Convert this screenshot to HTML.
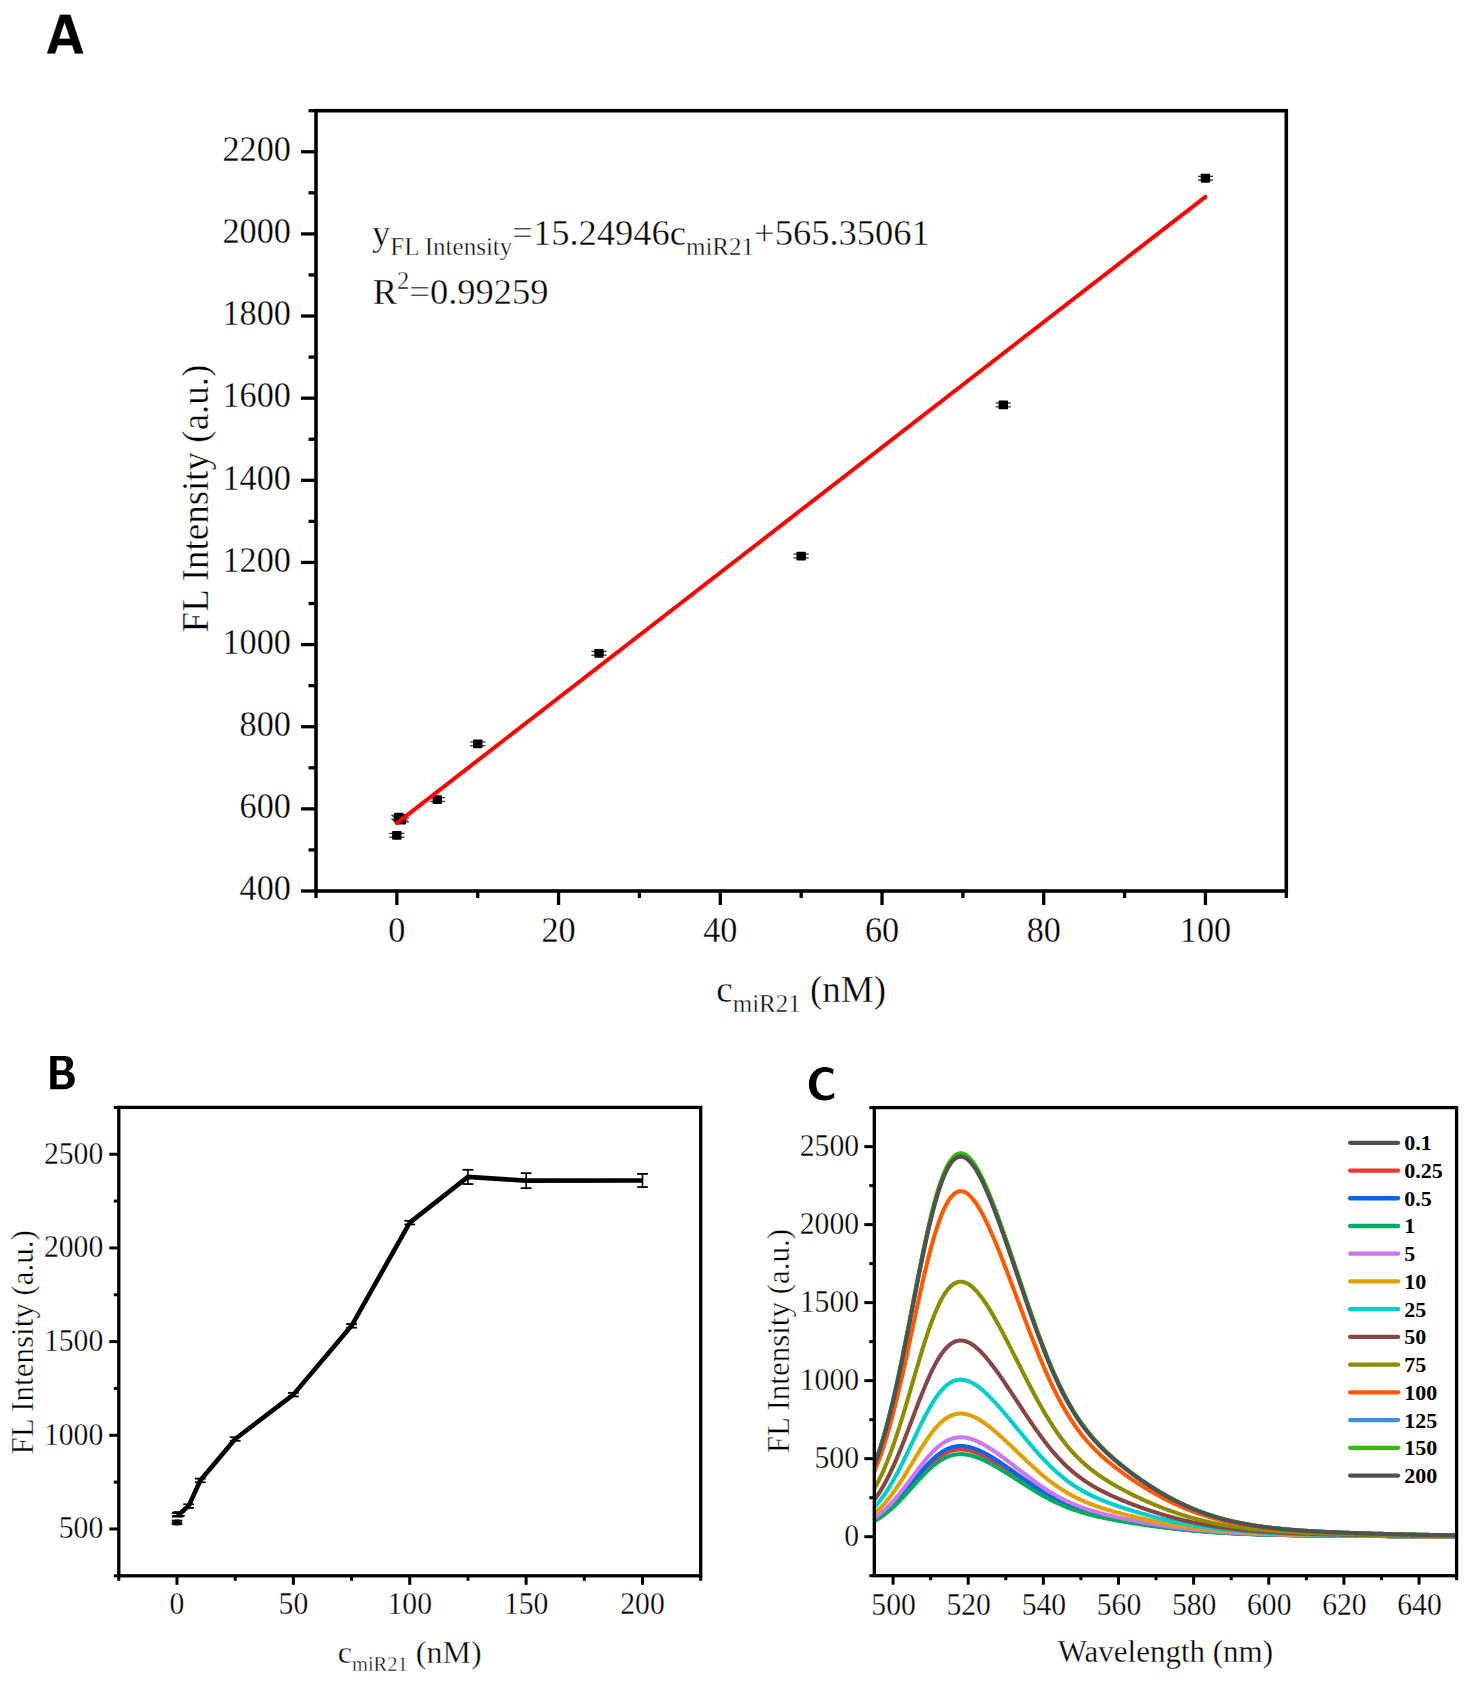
<!DOCTYPE html>
<html><head><meta charset="utf-8"><style>
html,body{margin:0;padding:0;background:#fff;}
body{width:1472px;height:1691px;overflow:hidden;}
svg{display:block;}
</style></head><body>
<svg width="1472" height="1691" viewBox="0 0 1472 1691">
<rect width="1472" height="1691" fill="#fff"/>
<path d="M47.4,53.3 L60.2,14.9 L70.2,14.9 L83,53.3 L75.1,53.3 L72.4,45.1 L57.7,45.1 L55,53.3 Z M64.5,21.7 L58.8,38.9 L70.5,38.9 Z" fill="#000" fill-rule="evenodd" stroke="#000" stroke-width="0.6" stroke-linejoin="round"/>
<path d="M50.2,1055.9 H64.3 C70.0,1055.9 73.1,1058.9 73.1,1063.5 C73.1,1067.0 71.1,1069.6 68.2,1071.0 C72.4,1072.2 74.8,1075.3 74.8,1079.4 C74.8,1085.4 70.5,1089.2 63.4,1089.2 H50.2 Z M56.6,1060.4 H62.6 C65.0,1060.4 66.5,1061.9 66.5,1065.0 C66.5,1068.1 64.9,1070.3 62.3,1070.3 H56.6 Z M56.6,1074.9 H63.2 C66.2,1074.9 68.1,1076.9 68.1,1079.7 C68.1,1082.7 66.1,1084.6 63.0,1084.6 H56.6 Z" fill="#000" fill-rule="evenodd"/>
<path d="M833.6,1069.6 C830.8,1067.7 828.3,1066.9 825.2,1066.9 C815.3,1066.9 808.9,1074.6 808.9,1084.2 C808.9,1094.2 815.2,1100.5 825.0,1100.5 C828.8,1100.5 831.6,1099.4 834.2,1097.6 L834.2,1092.8 C831.6,1094.7 829.0,1095.8 826.2,1095.8 C820.0,1095.8 816.2,1091.2 816.2,1084.0 C816.2,1076.5 820.2,1071.8 825.8,1071.8 C828.5,1071.8 830.6,1072.8 832.9,1074.6 Z" fill="#000"/>
<line x1="301" y1="891" x2="316" y2="891" stroke="#000" stroke-width="3.3" stroke-linecap="butt"/>
<line x1="301" y1="808.86" x2="316" y2="808.86" stroke="#000" stroke-width="3.3" stroke-linecap="butt"/>
<line x1="301" y1="726.73" x2="316" y2="726.73" stroke="#000" stroke-width="3.3" stroke-linecap="butt"/>
<line x1="301" y1="644.59" x2="316" y2="644.59" stroke="#000" stroke-width="3.3" stroke-linecap="butt"/>
<line x1="301" y1="562.45" x2="316" y2="562.45" stroke="#000" stroke-width="3.3" stroke-linecap="butt"/>
<line x1="301" y1="480.32" x2="316" y2="480.32" stroke="#000" stroke-width="3.3" stroke-linecap="butt"/>
<line x1="301" y1="398.18" x2="316" y2="398.18" stroke="#000" stroke-width="3.3" stroke-linecap="butt"/>
<line x1="301" y1="316.04" x2="316" y2="316.04" stroke="#000" stroke-width="3.3" stroke-linecap="butt"/>
<line x1="301" y1="233.91" x2="316" y2="233.91" stroke="#000" stroke-width="3.3" stroke-linecap="butt"/>
<line x1="301" y1="151.77" x2="316" y2="151.77" stroke="#000" stroke-width="3.3" stroke-linecap="butt"/>
<line x1="308.5" y1="849.93" x2="316" y2="849.93" stroke="#000" stroke-width="3.3" stroke-linecap="butt"/>
<line x1="308.5" y1="767.79" x2="316" y2="767.79" stroke="#000" stroke-width="3.3" stroke-linecap="butt"/>
<line x1="308.5" y1="685.66" x2="316" y2="685.66" stroke="#000" stroke-width="3.3" stroke-linecap="butt"/>
<line x1="308.5" y1="603.52" x2="316" y2="603.52" stroke="#000" stroke-width="3.3" stroke-linecap="butt"/>
<line x1="308.5" y1="521.38" x2="316" y2="521.38" stroke="#000" stroke-width="3.3" stroke-linecap="butt"/>
<line x1="308.5" y1="439.25" x2="316" y2="439.25" stroke="#000" stroke-width="3.3" stroke-linecap="butt"/>
<line x1="308.5" y1="357.11" x2="316" y2="357.11" stroke="#000" stroke-width="3.3" stroke-linecap="butt"/>
<line x1="308.5" y1="274.97" x2="316" y2="274.97" stroke="#000" stroke-width="3.3" stroke-linecap="butt"/>
<line x1="308.5" y1="192.84" x2="316" y2="192.84" stroke="#000" stroke-width="3.3" stroke-linecap="butt"/>
<line x1="308.5" y1="110.7" x2="316" y2="110.7" stroke="#000" stroke-width="3.3" stroke-linecap="butt"/>
<line x1="396.86" y1="891" x2="396.86" y2="905" stroke="#000" stroke-width="3.3" stroke-linecap="butt"/>
<line x1="558.58" y1="891" x2="558.58" y2="905" stroke="#000" stroke-width="3.3" stroke-linecap="butt"/>
<line x1="720.29" y1="891" x2="720.29" y2="905" stroke="#000" stroke-width="3.3" stroke-linecap="butt"/>
<line x1="882.01" y1="891" x2="882.01" y2="905" stroke="#000" stroke-width="3.3" stroke-linecap="butt"/>
<line x1="1043.72" y1="891" x2="1043.72" y2="905" stroke="#000" stroke-width="3.3" stroke-linecap="butt"/>
<line x1="1205.44" y1="891" x2="1205.44" y2="905" stroke="#000" stroke-width="3.3" stroke-linecap="butt"/>
<line x1="316" y1="891" x2="316" y2="898" stroke="#000" stroke-width="3.3" stroke-linecap="butt"/>
<line x1="477.72" y1="891" x2="477.72" y2="898" stroke="#000" stroke-width="3.3" stroke-linecap="butt"/>
<line x1="639.43" y1="891" x2="639.43" y2="898" stroke="#000" stroke-width="3.3" stroke-linecap="butt"/>
<line x1="801.15" y1="891" x2="801.15" y2="898" stroke="#000" stroke-width="3.3" stroke-linecap="butt"/>
<line x1="962.87" y1="891" x2="962.87" y2="898" stroke="#000" stroke-width="3.3" stroke-linecap="butt"/>
<line x1="1124.58" y1="891" x2="1124.58" y2="898" stroke="#000" stroke-width="3.3" stroke-linecap="butt"/>
<line x1="1286.3" y1="891" x2="1286.3" y2="898" stroke="#000" stroke-width="3.3" stroke-linecap="butt"/>
<rect x="316" y="110.7" width="970.3" height="780.3" fill="none" stroke="#000" stroke-width="3.6" stroke-linejoin="miter"/>
<text transform="translate(290.9,900.25) scale(0.966,1)" style="font-family:'Liberation Serif',serif;font-size:35.4px;font-weight:normal" text-anchor="end" stroke="#fff" stroke-width="0.3">400</text>
<text transform="translate(290.9,818.11) scale(0.966,1)" style="font-family:'Liberation Serif',serif;font-size:35.4px;font-weight:normal" text-anchor="end" stroke="#fff" stroke-width="0.3">600</text>
<text transform="translate(290.9,735.98) scale(0.966,1)" style="font-family:'Liberation Serif',serif;font-size:35.4px;font-weight:normal" text-anchor="end" stroke="#fff" stroke-width="0.3">800</text>
<text transform="translate(290.9,653.84) scale(0.966,1)" style="font-family:'Liberation Serif',serif;font-size:35.4px;font-weight:normal" text-anchor="end" stroke="#fff" stroke-width="0.3">1000</text>
<text transform="translate(290.9,571.7) scale(0.966,1)" style="font-family:'Liberation Serif',serif;font-size:35.4px;font-weight:normal" text-anchor="end" stroke="#fff" stroke-width="0.3">1200</text>
<text transform="translate(290.9,489.57) scale(0.966,1)" style="font-family:'Liberation Serif',serif;font-size:35.4px;font-weight:normal" text-anchor="end" stroke="#fff" stroke-width="0.3">1400</text>
<text transform="translate(290.9,407.43) scale(0.966,1)" style="font-family:'Liberation Serif',serif;font-size:35.4px;font-weight:normal" text-anchor="end" stroke="#fff" stroke-width="0.3">1600</text>
<text transform="translate(290.9,325.29) scale(0.966,1)" style="font-family:'Liberation Serif',serif;font-size:35.4px;font-weight:normal" text-anchor="end" stroke="#fff" stroke-width="0.3">1800</text>
<text transform="translate(290.9,243.16) scale(0.966,1)" style="font-family:'Liberation Serif',serif;font-size:35.4px;font-weight:normal" text-anchor="end" stroke="#fff" stroke-width="0.3">2000</text>
<text transform="translate(290.9,161.02) scale(0.966,1)" style="font-family:'Liberation Serif',serif;font-size:35.4px;font-weight:normal" text-anchor="end" stroke="#fff" stroke-width="0.3">2200</text>
<text transform="translate(396.86,942.1) scale(0.966,1)" style="font-family:'Liberation Serif',serif;font-size:35.4px;font-weight:normal" text-anchor="middle" stroke="#fff" stroke-width="0.3">0</text>
<text transform="translate(558.58,942.1) scale(0.966,1)" style="font-family:'Liberation Serif',serif;font-size:35.4px;font-weight:normal" text-anchor="middle" stroke="#fff" stroke-width="0.3">20</text>
<text transform="translate(720.29,942.1) scale(0.966,1)" style="font-family:'Liberation Serif',serif;font-size:35.4px;font-weight:normal" text-anchor="middle" stroke="#fff" stroke-width="0.3">40</text>
<text transform="translate(882.01,942.1) scale(0.966,1)" style="font-family:'Liberation Serif',serif;font-size:35.4px;font-weight:normal" text-anchor="middle" stroke="#fff" stroke-width="0.3">60</text>
<text transform="translate(1043.72,942.1) scale(0.966,1)" style="font-family:'Liberation Serif',serif;font-size:35.4px;font-weight:normal" text-anchor="middle" stroke="#fff" stroke-width="0.3">80</text>
<text transform="translate(1205.44,942.1) scale(0.966,1)" style="font-family:'Liberation Serif',serif;font-size:35.4px;font-weight:normal" text-anchor="middle" stroke="#fff" stroke-width="0.3">100</text>
<text transform="translate(208.2,498.5) rotate(-90)" style="font-family:'Liberation Serif',serif;font-size:37px" text-anchor="middle" stroke="#fff" stroke-width="0.4">FL Intensity (a.u.)</text>
<text x="716.29" y="1001.5" style="font-family:'Liberation Serif',serif;font-size:37px" stroke="#fff" stroke-width="0.4">c<tspan dy="10.8" style="font-size:25px">miR21</tspan><tspan dy="-10.8"> (nM)</tspan></text>
<text x="372.06" y="245" style="font-family:'Liberation Serif',serif;font-size:36.5px" stroke="#fff" stroke-width="0.4">y<tspan dy="9.8" style="font-size:25px">FL Intensity</tspan><tspan dy="-9.8">=15.24946c</tspan><tspan dy="9.8" style="font-size:25px">miR21</tspan><tspan dy="-9.8">+565.35061</tspan></text>
<text x="372.74" y="303.7" style="font-family:'Liberation Serif',serif;font-size:36.5px" stroke="#fff" stroke-width="0.4">R<tspan dy="-15" style="font-size:24.5px">2</tspan><tspan dy="15">=0.99259</tspan></text>
<line x1="389.26" y1="833.41" x2="404.46" y2="833.41" stroke="#333" stroke-width="1.3" stroke-linecap="butt"/>
<line x1="389.26" y1="837.21" x2="404.46" y2="837.21" stroke="#333" stroke-width="1.3" stroke-linecap="butt"/>
<line x1="391.28" y1="815.22" x2="406.48" y2="815.22" stroke="#333" stroke-width="1.3" stroke-linecap="butt"/>
<line x1="391.28" y1="819.02" x2="406.48" y2="819.02" stroke="#333" stroke-width="1.3" stroke-linecap="butt"/>
<line x1="392.49" y1="816.61" x2="407.69" y2="816.61" stroke="#333" stroke-width="1.3" stroke-linecap="butt"/>
<line x1="392.49" y1="820.41" x2="407.69" y2="820.41" stroke="#333" stroke-width="1.3" stroke-linecap="butt"/>
<line x1="393.71" y1="818.13" x2="408.91" y2="818.13" stroke="#333" stroke-width="1.3" stroke-linecap="butt"/>
<line x1="393.71" y1="821.93" x2="408.91" y2="821.93" stroke="#333" stroke-width="1.3" stroke-linecap="butt"/>
<line x1="429.69" y1="797.64" x2="444.89" y2="797.64" stroke="#333" stroke-width="1.3" stroke-linecap="butt"/>
<line x1="429.69" y1="801.44" x2="444.89" y2="801.44" stroke="#333" stroke-width="1.3" stroke-linecap="butt"/>
<line x1="470.12" y1="741.95" x2="485.32" y2="741.95" stroke="#333" stroke-width="1.3" stroke-linecap="butt"/>
<line x1="470.12" y1="745.75" x2="485.32" y2="745.75" stroke="#333" stroke-width="1.3" stroke-linecap="butt"/>
<line x1="591.4" y1="651.4" x2="606.6" y2="651.4" stroke="#333" stroke-width="1.3" stroke-linecap="butt"/>
<line x1="591.4" y1="655.2" x2="606.6" y2="655.2" stroke="#333" stroke-width="1.3" stroke-linecap="butt"/>
<line x1="793.55" y1="554.15" x2="808.75" y2="554.15" stroke="#333" stroke-width="1.3" stroke-linecap="butt"/>
<line x1="793.55" y1="557.95" x2="808.75" y2="557.95" stroke="#333" stroke-width="1.3" stroke-linecap="butt"/>
<line x1="995.7" y1="403.01" x2="1010.9" y2="403.01" stroke="#333" stroke-width="1.3" stroke-linecap="butt"/>
<line x1="995.7" y1="406.81" x2="1010.9" y2="406.81" stroke="#333" stroke-width="1.3" stroke-linecap="butt"/>
<line x1="1197.84" y1="176.36" x2="1213.04" y2="176.36" stroke="#333" stroke-width="1.3" stroke-linecap="butt"/>
<line x1="1197.84" y1="180.16" x2="1213.04" y2="180.16" stroke="#333" stroke-width="1.3" stroke-linecap="butt"/>
<rect x="392.16" y="830.91" width="9.4" height="8.8" rx="0.8" fill="#000"/>
<rect x="394.18" y="812.72" width="9.4" height="8.8" rx="0.8" fill="#000"/>
<rect x="395.39" y="814.11" width="9.4" height="8.8" rx="0.8" fill="#000"/>
<rect x="396.61" y="815.63" width="9.4" height="8.8" rx="0.8" fill="#000"/>
<rect x="432.59" y="795.14" width="9.4" height="8.8" rx="0.8" fill="#000"/>
<rect x="473.02" y="739.45" width="9.4" height="8.8" rx="0.8" fill="#000"/>
<rect x="594.3" y="648.9" width="9.4" height="8.8" rx="0.8" fill="#000"/>
<rect x="796.45" y="551.65" width="9.4" height="8.8" rx="0.8" fill="#000"/>
<rect x="998.6" y="400.51" width="9.4" height="8.8" rx="0.8" fill="#000"/>
<rect x="1200.74" y="173.86" width="9.4" height="8.8" rx="0.8" fill="#000"/>
<line x1="396.86" y1="823.09" x2="1205.44" y2="196.82" stroke="#ff0000" stroke-width="4" stroke-linecap="round"/>
<line x1="109.3" y1="1528.96" x2="118.8" y2="1528.96" stroke="#000" stroke-width="3" stroke-linecap="butt"/>
<line x1="109.3" y1="1435.28" x2="118.8" y2="1435.28" stroke="#000" stroke-width="3" stroke-linecap="butt"/>
<line x1="109.3" y1="1341.6" x2="118.8" y2="1341.6" stroke="#000" stroke-width="3" stroke-linecap="butt"/>
<line x1="109.3" y1="1247.92" x2="118.8" y2="1247.92" stroke="#000" stroke-width="3" stroke-linecap="butt"/>
<line x1="109.3" y1="1154.24" x2="118.8" y2="1154.24" stroke="#000" stroke-width="3" stroke-linecap="butt"/>
<line x1="113.8" y1="1575.8" x2="118.8" y2="1575.8" stroke="#000" stroke-width="3" stroke-linecap="butt"/>
<line x1="113.8" y1="1482.12" x2="118.8" y2="1482.12" stroke="#000" stroke-width="3" stroke-linecap="butt"/>
<line x1="113.8" y1="1388.44" x2="118.8" y2="1388.44" stroke="#000" stroke-width="3" stroke-linecap="butt"/>
<line x1="113.8" y1="1294.76" x2="118.8" y2="1294.76" stroke="#000" stroke-width="3" stroke-linecap="butt"/>
<line x1="113.8" y1="1201.08" x2="118.8" y2="1201.08" stroke="#000" stroke-width="3" stroke-linecap="butt"/>
<line x1="113.8" y1="1107.4" x2="118.8" y2="1107.4" stroke="#000" stroke-width="3" stroke-linecap="butt"/>
<line x1="176.99" y1="1575.8" x2="176.99" y2="1584.8" stroke="#000" stroke-width="3" stroke-linecap="butt"/>
<line x1="293.37" y1="1575.8" x2="293.37" y2="1584.8" stroke="#000" stroke-width="3" stroke-linecap="butt"/>
<line x1="409.75" y1="1575.8" x2="409.75" y2="1584.8" stroke="#000" stroke-width="3" stroke-linecap="butt"/>
<line x1="526.13" y1="1575.8" x2="526.13" y2="1584.8" stroke="#000" stroke-width="3" stroke-linecap="butt"/>
<line x1="642.51" y1="1575.8" x2="642.51" y2="1584.8" stroke="#000" stroke-width="3" stroke-linecap="butt"/>
<line x1="118.8" y1="1575.8" x2="118.8" y2="1580.8" stroke="#000" stroke-width="3" stroke-linecap="butt"/>
<line x1="235.18" y1="1575.8" x2="235.18" y2="1580.8" stroke="#000" stroke-width="3" stroke-linecap="butt"/>
<line x1="351.56" y1="1575.8" x2="351.56" y2="1580.8" stroke="#000" stroke-width="3" stroke-linecap="butt"/>
<line x1="467.94" y1="1575.8" x2="467.94" y2="1580.8" stroke="#000" stroke-width="3" stroke-linecap="butt"/>
<line x1="584.32" y1="1575.8" x2="584.32" y2="1580.8" stroke="#000" stroke-width="3" stroke-linecap="butt"/>
<line x1="700.7" y1="1575.8" x2="700.7" y2="1580.8" stroke="#000" stroke-width="3" stroke-linecap="butt"/>
<rect x="118.8" y="1107.4" width="581.9" height="468.4" fill="none" stroke="#000" stroke-width="3.3" stroke-linejoin="miter"/>
<text transform="translate(103.2,1538.26) scale(0.944,1)" style="font-family:'Liberation Serif',serif;font-size:31.4px;font-weight:normal" text-anchor="end" stroke="#fff" stroke-width="0.3">500</text>
<text transform="translate(103.2,1444.58) scale(0.944,1)" style="font-family:'Liberation Serif',serif;font-size:31.4px;font-weight:normal" text-anchor="end" stroke="#fff" stroke-width="0.3">1000</text>
<text transform="translate(103.2,1350.9) scale(0.944,1)" style="font-family:'Liberation Serif',serif;font-size:31.4px;font-weight:normal" text-anchor="end" stroke="#fff" stroke-width="0.3">1500</text>
<text transform="translate(103.2,1257.22) scale(0.944,1)" style="font-family:'Liberation Serif',serif;font-size:31.4px;font-weight:normal" text-anchor="end" stroke="#fff" stroke-width="0.3">2000</text>
<text transform="translate(103.2,1163.54) scale(0.944,1)" style="font-family:'Liberation Serif',serif;font-size:31.4px;font-weight:normal" text-anchor="end" stroke="#fff" stroke-width="0.3">2500</text>
<text transform="translate(176.99,1614.2) scale(0.944,1)" style="font-family:'Liberation Serif',serif;font-size:31.4px;font-weight:normal" text-anchor="middle" stroke="#fff" stroke-width="0.3">0</text>
<text transform="translate(293.37,1614.2) scale(0.944,1)" style="font-family:'Liberation Serif',serif;font-size:31.4px;font-weight:normal" text-anchor="middle" stroke="#fff" stroke-width="0.3">50</text>
<text transform="translate(409.75,1614.2) scale(0.944,1)" style="font-family:'Liberation Serif',serif;font-size:31.4px;font-weight:normal" text-anchor="middle" stroke="#fff" stroke-width="0.3">100</text>
<text transform="translate(526.13,1614.2) scale(0.944,1)" style="font-family:'Liberation Serif',serif;font-size:31.4px;font-weight:normal" text-anchor="middle" stroke="#fff" stroke-width="0.3">150</text>
<text transform="translate(642.51,1614.2) scale(0.944,1)" style="font-family:'Liberation Serif',serif;font-size:31.4px;font-weight:normal" text-anchor="middle" stroke="#fff" stroke-width="0.3">200</text>
<text transform="translate(33.1,1342.3) rotate(-90)" style="font-family:'Liberation Serif',serif;font-size:31px" text-anchor="middle" stroke="#fff" stroke-width="0.4">FL Intensity (a.u.)</text>
<text x="337.78" y="1663.2" style="font-family:'Liberation Serif',serif;font-size:32px" stroke="#fff" stroke-width="0.4">c<tspan dy="7.3" style="font-size:20.5px">miR21</tspan><tspan dy="-7.3"> (nM)</tspan></text>
<path d="M177.22,1514.72 L177.57,1514.53 L178.15,1514.35 L179.32,1513.97 L188.63,1506.1 L200.27,1480.43 L235.18,1439.03 L293.37,1394.62 L351.56,1325.86 L409.75,1222.63 L467.94,1176.91 L526.13,1180.66 L642.51,1180.47" fill="none" stroke="#000" stroke-width="4.6" stroke-linejoin="round"/>
<line x1="177.22" y1="1512.92" x2="177.22" y2="1516.52" stroke="#000" stroke-width="1.6" stroke-linecap="butt"/>
<line x1="171.82" y1="1512.92" x2="182.62" y2="1512.92" stroke="#000" stroke-width="1.8" stroke-linecap="butt"/>
<line x1="171.82" y1="1516.52" x2="182.62" y2="1516.52" stroke="#000" stroke-width="1.8" stroke-linecap="butt"/>
<line x1="177.57" y1="1512.73" x2="177.57" y2="1516.33" stroke="#000" stroke-width="1.6" stroke-linecap="butt"/>
<line x1="172.17" y1="1512.73" x2="182.97" y2="1512.73" stroke="#000" stroke-width="1.8" stroke-linecap="butt"/>
<line x1="172.17" y1="1516.33" x2="182.97" y2="1516.33" stroke="#000" stroke-width="1.8" stroke-linecap="butt"/>
<line x1="178.15" y1="1512.55" x2="178.15" y2="1516.15" stroke="#000" stroke-width="1.6" stroke-linecap="butt"/>
<line x1="172.75" y1="1512.55" x2="183.55" y2="1512.55" stroke="#000" stroke-width="1.8" stroke-linecap="butt"/>
<line x1="172.75" y1="1516.15" x2="183.55" y2="1516.15" stroke="#000" stroke-width="1.8" stroke-linecap="butt"/>
<line x1="179.32" y1="1512.17" x2="179.32" y2="1515.77" stroke="#000" stroke-width="1.6" stroke-linecap="butt"/>
<line x1="173.92" y1="1512.17" x2="184.72" y2="1512.17" stroke="#000" stroke-width="1.8" stroke-linecap="butt"/>
<line x1="173.92" y1="1515.77" x2="184.72" y2="1515.77" stroke="#000" stroke-width="1.8" stroke-linecap="butt"/>
<line x1="188.63" y1="1504.3" x2="188.63" y2="1507.9" stroke="#000" stroke-width="1.6" stroke-linecap="butt"/>
<line x1="183.23" y1="1504.3" x2="194.03" y2="1504.3" stroke="#000" stroke-width="1.8" stroke-linecap="butt"/>
<line x1="183.23" y1="1507.9" x2="194.03" y2="1507.9" stroke="#000" stroke-width="1.8" stroke-linecap="butt"/>
<line x1="200.27" y1="1478.63" x2="200.27" y2="1482.23" stroke="#000" stroke-width="1.6" stroke-linecap="butt"/>
<line x1="194.87" y1="1478.63" x2="205.67" y2="1478.63" stroke="#000" stroke-width="1.8" stroke-linecap="butt"/>
<line x1="194.87" y1="1482.23" x2="205.67" y2="1482.23" stroke="#000" stroke-width="1.8" stroke-linecap="butt"/>
<line x1="235.18" y1="1437.23" x2="235.18" y2="1440.83" stroke="#000" stroke-width="1.6" stroke-linecap="butt"/>
<line x1="229.78" y1="1437.23" x2="240.58" y2="1437.23" stroke="#000" stroke-width="1.8" stroke-linecap="butt"/>
<line x1="229.78" y1="1440.83" x2="240.58" y2="1440.83" stroke="#000" stroke-width="1.8" stroke-linecap="butt"/>
<line x1="293.37" y1="1392.82" x2="293.37" y2="1396.42" stroke="#000" stroke-width="1.6" stroke-linecap="butt"/>
<line x1="287.97" y1="1392.82" x2="298.77" y2="1392.82" stroke="#000" stroke-width="1.8" stroke-linecap="butt"/>
<line x1="287.97" y1="1396.42" x2="298.77" y2="1396.42" stroke="#000" stroke-width="1.8" stroke-linecap="butt"/>
<line x1="351.56" y1="1324.06" x2="351.56" y2="1327.66" stroke="#000" stroke-width="1.6" stroke-linecap="butt"/>
<line x1="346.16" y1="1324.06" x2="356.96" y2="1324.06" stroke="#000" stroke-width="1.8" stroke-linecap="butt"/>
<line x1="346.16" y1="1327.66" x2="356.96" y2="1327.66" stroke="#000" stroke-width="1.8" stroke-linecap="butt"/>
<line x1="409.75" y1="1220.83" x2="409.75" y2="1224.43" stroke="#000" stroke-width="1.6" stroke-linecap="butt"/>
<line x1="404.35" y1="1220.83" x2="415.15" y2="1220.83" stroke="#000" stroke-width="1.8" stroke-linecap="butt"/>
<line x1="404.35" y1="1224.43" x2="415.15" y2="1224.43" stroke="#000" stroke-width="1.8" stroke-linecap="butt"/>
<line x1="467.94" y1="1169.79" x2="467.94" y2="1184.03" stroke="#000" stroke-width="1.6" stroke-linecap="butt"/>
<line x1="462.54" y1="1169.79" x2="473.34" y2="1169.79" stroke="#000" stroke-width="1.8" stroke-linecap="butt"/>
<line x1="462.54" y1="1184.03" x2="473.34" y2="1184.03" stroke="#000" stroke-width="1.8" stroke-linecap="butt"/>
<line x1="526.13" y1="1173.16" x2="526.13" y2="1188.15" stroke="#000" stroke-width="1.6" stroke-linecap="butt"/>
<line x1="520.73" y1="1173.16" x2="531.53" y2="1173.16" stroke="#000" stroke-width="1.8" stroke-linecap="butt"/>
<line x1="520.73" y1="1188.15" x2="531.53" y2="1188.15" stroke="#000" stroke-width="1.8" stroke-linecap="butt"/>
<line x1="642.51" y1="1173.91" x2="642.51" y2="1187.03" stroke="#000" stroke-width="1.6" stroke-linecap="butt"/>
<line x1="637.11" y1="1173.91" x2="647.91" y2="1173.91" stroke="#000" stroke-width="1.8" stroke-linecap="butt"/>
<line x1="637.11" y1="1187.03" x2="647.91" y2="1187.03" stroke="#000" stroke-width="1.8" stroke-linecap="butt"/>
<line x1="176.99" y1="1520.6" x2="176.99" y2="1524.2" stroke="#000" stroke-width="1.6" stroke-linecap="butt"/>
<line x1="171.59" y1="1520.6" x2="182.39" y2="1520.6" stroke="#000" stroke-width="1.8" stroke-linecap="butt"/>
<line x1="171.59" y1="1524.2" x2="182.39" y2="1524.2" stroke="#000" stroke-width="1.8" stroke-linecap="butt"/>
<polygon points="171.59,1522.4 174.99,1519.4 178.99,1519.4 182.39,1522.4 178.99,1525.4 174.99,1525.4" fill="#000"/>
<line x1="864.3" y1="1536.69" x2="874.3" y2="1536.69" stroke="#000" stroke-width="3" stroke-linecap="butt"/>
<line x1="864.3" y1="1458.67" x2="874.3" y2="1458.67" stroke="#000" stroke-width="3" stroke-linecap="butt"/>
<line x1="864.3" y1="1380.66" x2="874.3" y2="1380.66" stroke="#000" stroke-width="3" stroke-linecap="butt"/>
<line x1="864.3" y1="1302.64" x2="874.3" y2="1302.64" stroke="#000" stroke-width="3" stroke-linecap="butt"/>
<line x1="864.3" y1="1224.62" x2="874.3" y2="1224.62" stroke="#000" stroke-width="3" stroke-linecap="butt"/>
<line x1="864.3" y1="1146.61" x2="874.3" y2="1146.61" stroke="#000" stroke-width="3" stroke-linecap="butt"/>
<line x1="869.3" y1="1575.7" x2="874.3" y2="1575.7" stroke="#000" stroke-width="3" stroke-linecap="butt"/>
<line x1="869.3" y1="1497.68" x2="874.3" y2="1497.68" stroke="#000" stroke-width="3" stroke-linecap="butt"/>
<line x1="869.3" y1="1419.67" x2="874.3" y2="1419.67" stroke="#000" stroke-width="3" stroke-linecap="butt"/>
<line x1="869.3" y1="1341.65" x2="874.3" y2="1341.65" stroke="#000" stroke-width="3" stroke-linecap="butt"/>
<line x1="869.3" y1="1263.63" x2="874.3" y2="1263.63" stroke="#000" stroke-width="3" stroke-linecap="butt"/>
<line x1="869.3" y1="1185.62" x2="874.3" y2="1185.62" stroke="#000" stroke-width="3" stroke-linecap="butt"/>
<line x1="869.3" y1="1107.6" x2="874.3" y2="1107.6" stroke="#000" stroke-width="3" stroke-linecap="butt"/>
<line x1="893.08" y1="1575.7" x2="893.08" y2="1584.7" stroke="#000" stroke-width="3" stroke-linecap="butt"/>
<line x1="968.22" y1="1575.7" x2="968.22" y2="1584.7" stroke="#000" stroke-width="3" stroke-linecap="butt"/>
<line x1="1043.35" y1="1575.7" x2="1043.35" y2="1584.7" stroke="#000" stroke-width="3" stroke-linecap="butt"/>
<line x1="1118.49" y1="1575.7" x2="1118.49" y2="1584.7" stroke="#000" stroke-width="3" stroke-linecap="butt"/>
<line x1="1193.63" y1="1575.7" x2="1193.63" y2="1584.7" stroke="#000" stroke-width="3" stroke-linecap="butt"/>
<line x1="1268.76" y1="1575.7" x2="1268.76" y2="1584.7" stroke="#000" stroke-width="3" stroke-linecap="butt"/>
<line x1="1343.9" y1="1575.7" x2="1343.9" y2="1584.7" stroke="#000" stroke-width="3" stroke-linecap="butt"/>
<line x1="1419.03" y1="1575.7" x2="1419.03" y2="1584.7" stroke="#000" stroke-width="3" stroke-linecap="butt"/>
<line x1="930.65" y1="1575.7" x2="930.65" y2="1580.2" stroke="#000" stroke-width="3" stroke-linecap="butt"/>
<line x1="1005.79" y1="1575.7" x2="1005.79" y2="1580.2" stroke="#000" stroke-width="3" stroke-linecap="butt"/>
<line x1="1080.92" y1="1575.7" x2="1080.92" y2="1580.2" stroke="#000" stroke-width="3" stroke-linecap="butt"/>
<line x1="1156.06" y1="1575.7" x2="1156.06" y2="1580.2" stroke="#000" stroke-width="3" stroke-linecap="butt"/>
<line x1="1231.19" y1="1575.7" x2="1231.19" y2="1580.2" stroke="#000" stroke-width="3" stroke-linecap="butt"/>
<line x1="1306.33" y1="1575.7" x2="1306.33" y2="1580.2" stroke="#000" stroke-width="3" stroke-linecap="butt"/>
<line x1="1381.46" y1="1575.7" x2="1381.46" y2="1580.2" stroke="#000" stroke-width="3" stroke-linecap="butt"/>
<line x1="1456.6" y1="1575.7" x2="1456.6" y2="1580.2" stroke="#000" stroke-width="3" stroke-linecap="butt"/>
<text transform="translate(859,1546.19) scale(0.944,1)" style="font-family:'Liberation Serif',serif;font-size:31.4px;font-weight:normal" text-anchor="end" stroke="#fff" stroke-width="0.3">0</text>
<text transform="translate(859,1468.17) scale(0.944,1)" style="font-family:'Liberation Serif',serif;font-size:31.4px;font-weight:normal" text-anchor="end" stroke="#fff" stroke-width="0.3">500</text>
<text transform="translate(859,1390.16) scale(0.944,1)" style="font-family:'Liberation Serif',serif;font-size:31.4px;font-weight:normal" text-anchor="end" stroke="#fff" stroke-width="0.3">1000</text>
<text transform="translate(859,1312.14) scale(0.944,1)" style="font-family:'Liberation Serif',serif;font-size:31.4px;font-weight:normal" text-anchor="end" stroke="#fff" stroke-width="0.3">1500</text>
<text transform="translate(859,1234.12) scale(0.944,1)" style="font-family:'Liberation Serif',serif;font-size:31.4px;font-weight:normal" text-anchor="end" stroke="#fff" stroke-width="0.3">2000</text>
<text transform="translate(859,1156.11) scale(0.944,1)" style="font-family:'Liberation Serif',serif;font-size:31.4px;font-weight:normal" text-anchor="end" stroke="#fff" stroke-width="0.3">2500</text>
<text transform="translate(893.58,1614.5) scale(0.944,1)" style="font-family:'Liberation Serif',serif;font-size:31.4px;font-weight:normal" text-anchor="middle" stroke="#fff" stroke-width="0.3">500</text>
<text transform="translate(968.72,1614.5) scale(0.944,1)" style="font-family:'Liberation Serif',serif;font-size:31.4px;font-weight:normal" text-anchor="middle" stroke="#fff" stroke-width="0.3">520</text>
<text transform="translate(1043.85,1614.5) scale(0.944,1)" style="font-family:'Liberation Serif',serif;font-size:31.4px;font-weight:normal" text-anchor="middle" stroke="#fff" stroke-width="0.3">540</text>
<text transform="translate(1118.99,1614.5) scale(0.944,1)" style="font-family:'Liberation Serif',serif;font-size:31.4px;font-weight:normal" text-anchor="middle" stroke="#fff" stroke-width="0.3">560</text>
<text transform="translate(1194.13,1614.5) scale(0.944,1)" style="font-family:'Liberation Serif',serif;font-size:31.4px;font-weight:normal" text-anchor="middle" stroke="#fff" stroke-width="0.3">580</text>
<text transform="translate(1269.26,1614.5) scale(0.944,1)" style="font-family:'Liberation Serif',serif;font-size:31.4px;font-weight:normal" text-anchor="middle" stroke="#fff" stroke-width="0.3">600</text>
<text transform="translate(1344.4,1614.5) scale(0.944,1)" style="font-family:'Liberation Serif',serif;font-size:31.4px;font-weight:normal" text-anchor="middle" stroke="#fff" stroke-width="0.3">620</text>
<text transform="translate(1419.53,1614.5) scale(0.944,1)" style="font-family:'Liberation Serif',serif;font-size:31.4px;font-weight:normal" text-anchor="middle" stroke="#fff" stroke-width="0.3">640</text>
<text transform="translate(789.2,1341.1) rotate(-90)" style="font-family:'Liberation Serif',serif;font-size:31px" text-anchor="middle" stroke="#fff" stroke-width="0.4">FL Intensity (a.u.)</text>
<text x="1057.77" y="1662.3" style="font-family:'Liberation Serif',serif;font-size:31px;font-weight:normal" text-anchor="start" stroke="#fff" stroke-width="0.3">Wavelength (nm)</text>
<clipPath id="cc"><rect x="874.3" y="1107.6" width="582.3" height="468.1"/></clipPath>
<g clip-path="url(#cc)">
<polyline points="872.3,1521.38 873.3,1520.82 874.3,1520.25 875.3,1519.65 876.3,1519.04 877.3,1518.4 878.3,1517.74 879.3,1517.06 880.3,1516.36 881.3,1515.64 882.3,1514.9 883.3,1514.14 884.3,1513.35 885.3,1512.55 886.3,1511.72 887.3,1510.87 888.3,1510 889.3,1509.11 890.3,1508.2 891.3,1507.27 892.3,1506.32 893.3,1505.35 894.3,1504.36 895.3,1503.36 896.3,1502.33 897.3,1501.29 898.3,1500.23 899.3,1499.16 900.3,1498.07 901.3,1496.97 902.3,1495.86 903.3,1494.73 904.3,1493.6 905.3,1492.45 906.3,1491.29 907.3,1490.13 908.3,1488.96 909.3,1487.79 910.3,1486.61 911.3,1485.43 912.3,1484.24 913.3,1483.06 914.3,1481.88 915.3,1480.7 916.3,1479.53 917.3,1478.36 918.3,1477.2 919.3,1476.05 920.3,1474.9 921.3,1473.77 922.3,1472.65 923.3,1471.55 924.3,1470.46 925.3,1469.39 926.3,1468.33 927.3,1467.3 928.3,1466.28 929.3,1465.29 930.3,1464.32 931.3,1463.37 932.3,1462.45 933.3,1461.56 934.3,1460.69 935.3,1459.85 936.3,1459.04 937.3,1458.26 938.3,1457.51 939.3,1456.79 940.3,1456.1 941.3,1455.44 942.3,1454.82 943.3,1454.23 944.3,1453.67 945.3,1453.15 946.3,1452.66 947.3,1452.2 948.3,1451.78 949.3,1451.39 950.3,1451.04 951.3,1450.72 952.3,1450.43 953.3,1450.18 954.3,1449.96 955.3,1449.77 956.3,1449.62 957.3,1449.5 958.3,1449.41 959.3,1449.35 960.3,1449.32 961.3,1449.32 962.3,1449.35 963.3,1449.41 964.3,1449.5 965.3,1449.61 966.3,1449.76 967.3,1449.92 968.3,1450.12 969.3,1450.33 970.3,1450.57 971.3,1450.84 972.3,1451.12 973.3,1451.43 974.3,1451.76 975.3,1452.1 976.3,1452.47 977.3,1452.85 978.3,1453.25 979.3,1453.67 980.3,1454.11 981.3,1454.56 982.3,1455.02 983.3,1455.5 984.3,1456 985.3,1456.5 986.3,1457.02 987.3,1457.55 988.3,1458.09 989.3,1458.64 990.3,1459.2 991.3,1459.77 992.3,1460.35 993.3,1460.94 994.3,1461.53 995.3,1462.13 996.3,1462.74 997.3,1463.36 998.3,1463.98 999.3,1464.61 1000.3,1465.25 1001.3,1465.89 1002.3,1466.53 1003.3,1467.18 1004.3,1467.84 1005.3,1468.49 1006.3,1469.15 1007.3,1469.82 1008.3,1470.48 1009.3,1471.15 1010.3,1471.82 1011.3,1472.5 1012.3,1473.17 1013.3,1473.85 1014.3,1474.53 1015.3,1475.2 1016.3,1475.88 1017.3,1476.56 1018.3,1477.24 1019.3,1477.92 1020.3,1478.6 1021.3,1479.28 1022.3,1479.95 1023.3,1480.63 1024.3,1481.3 1025.3,1481.98 1026.3,1482.64 1027.3,1483.31 1028.3,1483.98 1029.3,1484.64 1030.3,1485.3 1031.3,1485.95 1032.3,1486.6 1033.3,1487.25 1034.3,1487.89 1035.3,1488.53 1036.3,1489.17 1037.3,1489.8 1038.3,1490.42 1039.3,1491.04 1040.3,1491.65 1041.3,1492.26 1042.3,1492.86 1043.3,1493.46 1044.3,1494.04 1045.3,1494.63 1046.3,1495.2 1047.3,1495.77 1048.3,1496.34 1049.3,1496.89 1050.3,1497.44 1051.3,1497.98 1052.3,1498.51 1053.3,1499.04 1054.3,1499.56 1055.3,1500.07 1056.3,1500.57 1057.3,1501.07 1058.3,1501.56 1059.3,1502.04 1060.3,1502.51 1061.3,1502.98 1062.3,1503.44 1063.3,1503.89 1064.3,1504.33 1065.3,1504.76 1066.3,1505.19 1067.3,1505.61 1068.3,1506.02 1069.3,1506.43 1070.3,1506.83 1071.3,1507.22 1072.3,1507.6 1073.3,1507.98 1074.3,1508.35 1075.3,1508.71 1076.3,1509.07 1077.3,1509.42 1078.3,1509.76 1079.3,1510.1 1080.3,1510.43 1081.3,1510.75 1082.3,1511.07 1083.3,1511.39 1084.3,1511.69 1085.3,1511.99 1086.3,1512.29 1087.3,1512.58 1088.3,1512.87 1089.3,1513.15 1090.3,1513.43 1091.3,1513.7 1092.3,1513.97 1093.3,1514.23 1094.3,1514.49 1095.3,1514.75 1096.3,1515 1097.3,1515.24 1098.3,1515.49 1099.3,1515.73 1100.3,1515.96 1101.3,1516.2 1102.3,1516.43 1103.3,1516.65 1104.3,1516.88 1105.3,1517.1 1106.3,1517.32 1107.3,1517.53 1108.3,1517.75 1109.3,1517.96 1110.3,1518.16 1111.3,1518.37 1112.3,1518.57 1113.3,1518.77 1114.3,1518.97 1115.3,1519.17 1116.3,1519.37 1117.3,1519.56 1118.3,1519.75 1119.3,1519.94 1120.3,1520.13 1121.3,1520.31 1122.3,1520.5 1123.3,1520.68 1124.3,1520.86 1125.3,1521.04 1126.3,1521.22 1127.3,1521.4 1128.3,1521.57 1129.3,1521.75 1130.3,1521.92 1131.3,1522.09 1132.3,1522.26 1133.3,1522.43 1134.3,1522.6 1135.3,1522.76 1136.3,1522.93 1137.3,1523.09 1138.3,1523.25 1139.3,1523.41 1140.3,1523.57 1141.3,1523.73 1142.3,1523.89 1143.3,1524.05 1144.3,1524.2 1145.3,1524.36 1146.3,1524.51 1147.3,1524.66 1148.3,1524.81 1149.3,1524.96 1150.3,1525.11 1151.3,1525.26 1152.3,1525.4 1153.3,1525.55 1154.3,1525.69 1155.3,1525.84 1156.3,1525.98 1157.3,1526.12 1158.3,1526.26 1159.3,1526.39 1160.3,1526.53 1161.3,1526.66 1162.3,1526.8 1163.3,1526.93 1164.3,1527.06 1165.3,1527.19 1166.3,1527.32 1167.3,1527.45 1168.3,1527.58 1169.3,1527.7 1170.3,1527.83 1171.3,1527.95 1172.3,1528.07 1173.3,1528.19 1174.3,1528.31 1175.3,1528.43 1176.3,1528.55 1177.3,1528.66 1178.3,1528.78 1179.3,1528.89 1180.3,1529 1181.3,1529.11 1182.3,1529.22 1183.3,1529.33 1184.3,1529.44 1185.3,1529.54 1186.3,1529.65 1187.3,1529.75 1188.3,1529.85 1189.3,1529.95 1190.3,1530.05 1191.3,1530.15 1192.3,1530.25 1193.3,1530.34 1194.3,1530.44 1195.3,1530.53 1196.3,1530.62 1197.3,1530.71 1198.3,1530.8 1199.3,1530.89 1200.3,1530.98 1201.3,1531.06 1202.3,1531.15 1203.3,1531.23 1204.3,1531.31 1205.3,1531.39 1206.3,1531.47 1207.3,1531.55 1208.3,1531.63 1209.3,1531.71 1210.3,1531.78 1211.3,1531.86 1212.3,1531.93 1213.3,1532 1214.3,1532.07 1215.3,1532.14 1216.3,1532.21 1217.3,1532.28 1218.3,1532.35 1219.3,1532.41 1220.3,1532.48 1221.3,1532.54 1222.3,1532.6 1223.3,1532.67 1224.3,1532.73 1225.3,1532.79 1226.3,1532.84 1227.3,1532.9 1228.3,1532.96 1229.3,1533.02 1230.3,1533.07 1231.3,1533.12 1232.3,1533.18 1233.3,1533.23 1234.3,1533.28 1235.3,1533.33 1236.3,1533.38 1237.3,1533.43 1238.3,1533.48 1239.3,1533.53 1240.3,1533.57 1241.3,1533.62 1242.3,1533.66 1243.3,1533.71 1244.3,1533.75 1245.3,1533.79 1246.3,1533.83 1247.3,1533.88 1248.3,1533.92 1249.3,1533.96 1250.3,1533.99 1251.3,1534.03 1252.3,1534.07 1253.3,1534.11 1254.3,1534.14 1255.3,1534.18 1256.3,1534.21 1257.3,1534.25 1258.3,1534.28 1259.3,1534.31 1260.3,1534.35 1261.3,1534.38 1262.3,1534.41 1263.3,1534.44 1264.3,1534.47 1265.3,1534.5 1266.3,1534.53 1267.3,1534.56 1268.3,1534.59 1269.3,1534.61 1270.3,1534.64 1271.3,1534.67 1272.3,1534.69 1273.3,1534.72 1274.3,1534.75 1275.3,1534.77 1276.3,1534.8 1277.3,1534.82 1278.3,1534.84 1279.3,1534.87 1280.3,1534.89 1281.3,1534.91 1282.3,1534.93 1283.3,1534.95 1284.3,1534.98 1285.3,1535 1286.3,1535.02 1287.3,1535.04 1288.3,1535.06 1289.3,1535.08 1290.3,1535.09 1291.3,1535.11 1292.3,1535.13 1293.3,1535.15 1294.3,1535.17 1295.3,1535.18 1296.3,1535.2 1297.3,1535.22 1298.3,1535.24 1299.3,1535.25 1300.3,1535.27 1301.3,1535.28 1302.3,1535.3 1303.3,1535.31 1304.3,1535.33 1305.3,1535.34 1306.3,1535.36 1307.3,1535.37 1308.3,1535.39 1309.3,1535.4 1310.3,1535.42 1311.3,1535.43 1312.3,1535.44 1313.3,1535.46 1314.3,1535.47 1315.3,1535.48 1316.3,1535.49 1317.3,1535.51 1318.3,1535.52 1319.3,1535.53 1320.3,1535.54 1321.3,1535.55 1322.3,1535.56 1323.3,1535.58 1324.3,1535.59 1325.3,1535.6 1326.3,1535.61 1327.3,1535.62 1328.3,1535.63 1329.3,1535.64 1330.3,1535.65 1331.3,1535.66 1332.3,1535.67 1333.3,1535.68 1334.3,1535.69 1335.3,1535.7 1336.3,1535.71 1337.3,1535.72 1338.3,1535.73 1339.3,1535.74 1340.3,1535.75 1341.3,1535.76 1342.3,1535.77 1343.3,1535.77 1344.3,1535.78 1345.3,1535.79 1346.3,1535.8 1347.3,1535.81 1348.3,1535.82 1349.3,1535.82 1350.3,1535.83 1351.3,1535.84 1352.3,1535.85 1353.3,1535.86 1354.3,1535.86 1355.3,1535.87 1356.3,1535.88 1357.3,1535.89 1358.3,1535.89 1359.3,1535.9 1360.3,1535.91 1361.3,1535.92 1362.3,1535.92 1363.3,1535.93 1364.3,1535.94 1365.3,1535.95 1366.3,1535.95 1367.3,1535.96 1368.3,1535.97 1369.3,1535.97 1370.3,1535.98 1371.3,1535.99 1372.3,1535.99 1373.3,1536 1374.3,1536.01 1375.3,1536.01 1376.3,1536.02 1377.3,1536.02 1378.3,1536.03 1379.3,1536.04 1380.3,1536.04 1381.3,1536.05 1382.3,1536.05 1383.3,1536.06 1384.3,1536.07 1385.3,1536.07 1386.3,1536.08 1387.3,1536.08 1388.3,1536.09 1389.3,1536.1 1390.3,1536.1 1391.3,1536.11 1392.3,1536.11 1393.3,1536.12 1394.3,1536.12 1395.3,1536.13 1396.3,1536.13 1397.3,1536.14 1398.3,1536.14 1399.3,1536.15 1400.3,1536.15 1401.3,1536.16 1402.3,1536.16 1403.3,1536.17 1404.3,1536.17 1405.3,1536.18 1406.3,1536.18 1407.3,1536.19 1408.3,1536.19 1409.3,1536.2 1410.3,1536.2 1411.3,1536.21 1412.3,1536.21 1413.3,1536.22 1414.3,1536.22 1415.3,1536.23 1416.3,1536.23 1417.3,1536.24 1418.3,1536.24 1419.3,1536.25 1420.3,1536.25 1421.3,1536.25 1422.3,1536.26 1423.3,1536.26 1424.3,1536.27 1425.3,1536.27 1426.3,1536.28 1427.3,1536.28 1428.3,1536.28 1429.3,1536.29 1430.3,1536.29 1431.3,1536.3 1432.3,1536.3 1433.3,1536.3 1434.3,1536.31 1435.3,1536.31 1436.3,1536.32 1437.3,1536.32 1438.3,1536.32 1439.3,1536.33 1440.3,1536.33 1441.3,1536.33 1442.3,1536.34 1443.3,1536.34 1444.3,1536.35 1445.3,1536.35 1446.3,1536.35 1447.3,1536.36 1448.3,1536.36 1449.3,1536.36 1450.3,1536.37 1451.3,1536.37 1452.3,1536.37 1453.3,1536.38 1454.3,1536.38 1455.3,1536.38 1456.3,1536.39 1457.3,1536.39 1458.3,1536.39" fill="none" stroke="#4f4f4f" stroke-width="4.1" stroke-linejoin="round"/>
<polyline points="872.3,1521.27 873.3,1520.71 874.3,1520.13 875.3,1519.53 876.3,1518.91 877.3,1518.27 878.3,1517.61 879.3,1516.92 880.3,1516.22 881.3,1515.49 882.3,1514.75 883.3,1513.98 884.3,1513.19 885.3,1512.37 886.3,1511.54 887.3,1510.69 888.3,1509.81 889.3,1508.92 890.3,1508 891.3,1507.06 892.3,1506.1 893.3,1505.13 894.3,1504.13 895.3,1503.12 896.3,1502.09 897.3,1501.04 898.3,1499.97 899.3,1498.89 900.3,1497.8 901.3,1496.69 902.3,1495.57 903.3,1494.43 904.3,1493.29 905.3,1492.13 906.3,1490.97 907.3,1489.8 908.3,1488.62 909.3,1487.44 910.3,1486.25 911.3,1485.06 912.3,1483.87 913.3,1482.68 914.3,1481.49 915.3,1480.3 916.3,1479.12 917.3,1477.95 918.3,1476.78 919.3,1475.62 920.3,1474.46 921.3,1473.33 922.3,1472.2 923.3,1471.09 924.3,1469.99 925.3,1468.91 926.3,1467.85 927.3,1466.8 928.3,1465.78 929.3,1464.78 930.3,1463.8 931.3,1462.85 932.3,1461.92 933.3,1461.02 934.3,1460.15 935.3,1459.3 936.3,1458.49 937.3,1457.7 938.3,1456.94 939.3,1456.22 940.3,1455.52 941.3,1454.86 942.3,1454.23 943.3,1453.64 944.3,1453.08 945.3,1452.55 946.3,1452.06 947.3,1451.6 948.3,1451.18 949.3,1450.78 950.3,1450.43 951.3,1450.11 952.3,1449.82 953.3,1449.56 954.3,1449.34 955.3,1449.16 956.3,1449 957.3,1448.88 958.3,1448.79 959.3,1448.73 960.3,1448.7 961.3,1448.7 962.3,1448.73 963.3,1448.79 964.3,1448.88 965.3,1449 966.3,1449.14 967.3,1449.31 968.3,1449.5 969.3,1449.72 970.3,1449.96 971.3,1450.23 972.3,1450.51 973.3,1450.82 974.3,1451.15 975.3,1451.5 976.3,1451.87 977.3,1452.26 978.3,1452.66 979.3,1453.08 980.3,1453.52 981.3,1453.97 982.3,1454.44 983.3,1454.92 984.3,1455.42 985.3,1455.93 986.3,1456.45 987.3,1456.98 988.3,1457.53 989.3,1458.08 990.3,1458.65 991.3,1459.22 992.3,1459.8 993.3,1460.4 994.3,1461 995.3,1461.6 996.3,1462.22 997.3,1462.84 998.3,1463.47 999.3,1464.1 1000.3,1464.74 1001.3,1465.38 1002.3,1466.03 1003.3,1466.69 1004.3,1467.34 1005.3,1468.01 1006.3,1468.67 1007.3,1469.34 1008.3,1470.01 1009.3,1470.69 1010.3,1471.36 1011.3,1472.04 1012.3,1472.72 1013.3,1473.4 1014.3,1474.08 1015.3,1474.77 1016.3,1475.45 1017.3,1476.13 1018.3,1476.82 1019.3,1477.5 1020.3,1478.19 1021.3,1478.87 1022.3,1479.55 1023.3,1480.23 1024.3,1480.91 1025.3,1481.59 1026.3,1482.26 1027.3,1482.93 1028.3,1483.6 1029.3,1484.27 1030.3,1484.93 1031.3,1485.59 1032.3,1486.25 1033.3,1486.9 1034.3,1487.55 1035.3,1488.19 1036.3,1488.83 1037.3,1489.46 1038.3,1490.09 1039.3,1490.71 1040.3,1491.33 1041.3,1491.94 1042.3,1492.55 1043.3,1493.15 1044.3,1493.74 1045.3,1494.33 1046.3,1494.91 1047.3,1495.48 1048.3,1496.05 1049.3,1496.61 1050.3,1497.16 1051.3,1497.7 1052.3,1498.24 1053.3,1498.77 1054.3,1499.29 1055.3,1499.81 1056.3,1500.32 1057.3,1500.82 1058.3,1501.31 1059.3,1501.79 1060.3,1502.27 1061.3,1502.74 1062.3,1503.2 1063.3,1503.65 1064.3,1504.1 1065.3,1504.54 1066.3,1504.97 1067.3,1505.39 1068.3,1505.81 1069.3,1506.21 1070.3,1506.61 1071.3,1507.01 1072.3,1507.39 1073.3,1507.77 1074.3,1508.15 1075.3,1508.51 1076.3,1508.87 1077.3,1509.22 1078.3,1509.57 1079.3,1509.91 1080.3,1510.24 1081.3,1510.57 1082.3,1510.89 1083.3,1511.21 1084.3,1511.51 1085.3,1511.82 1086.3,1512.12 1087.3,1512.41 1088.3,1512.7 1089.3,1512.98 1090.3,1513.26 1091.3,1513.54 1092.3,1513.81 1093.3,1514.07 1094.3,1514.33 1095.3,1514.59 1096.3,1514.84 1097.3,1515.09 1098.3,1515.34 1099.3,1515.58 1100.3,1515.82 1101.3,1516.05 1102.3,1516.28 1103.3,1516.51 1104.3,1516.74 1105.3,1516.96 1106.3,1517.18 1107.3,1517.4 1108.3,1517.61 1109.3,1517.82 1110.3,1518.03 1111.3,1518.24 1112.3,1518.44 1113.3,1518.65 1114.3,1518.85 1115.3,1519.05 1116.3,1519.24 1117.3,1519.44 1118.3,1519.63 1119.3,1519.82 1120.3,1520.01 1121.3,1520.2 1122.3,1520.38 1123.3,1520.57 1124.3,1520.75 1125.3,1520.93 1126.3,1521.11 1127.3,1521.29 1128.3,1521.46 1129.3,1521.64 1130.3,1521.81 1131.3,1521.99 1132.3,1522.16 1133.3,1522.33 1134.3,1522.5 1135.3,1522.66 1136.3,1522.83 1137.3,1522.99 1138.3,1523.16 1139.3,1523.32 1140.3,1523.48 1141.3,1523.64 1142.3,1523.8 1143.3,1523.96 1144.3,1524.11 1145.3,1524.27 1146.3,1524.42 1147.3,1524.58 1148.3,1524.73 1149.3,1524.88 1150.3,1525.03 1151.3,1525.18 1152.3,1525.32 1153.3,1525.47 1154.3,1525.61 1155.3,1525.76 1156.3,1525.9 1157.3,1526.04 1158.3,1526.18 1159.3,1526.32 1160.3,1526.46 1161.3,1526.59 1162.3,1526.73 1163.3,1526.86 1164.3,1527 1165.3,1527.13 1166.3,1527.26 1167.3,1527.39 1168.3,1527.51 1169.3,1527.64 1170.3,1527.76 1171.3,1527.89 1172.3,1528.01 1173.3,1528.13 1174.3,1528.25 1175.3,1528.37 1176.3,1528.49 1177.3,1528.61 1178.3,1528.72 1179.3,1528.83 1180.3,1528.95 1181.3,1529.06 1182.3,1529.17 1183.3,1529.28 1184.3,1529.39 1185.3,1529.49 1186.3,1529.6 1187.3,1529.7 1188.3,1529.8 1189.3,1529.9 1190.3,1530 1191.3,1530.1 1192.3,1530.2 1193.3,1530.3 1194.3,1530.39 1195.3,1530.48 1196.3,1530.58 1197.3,1530.67 1198.3,1530.76 1199.3,1530.85 1200.3,1530.94 1201.3,1531.02 1202.3,1531.11 1203.3,1531.19 1204.3,1531.27 1205.3,1531.36 1206.3,1531.44 1207.3,1531.52 1208.3,1531.59 1209.3,1531.67 1210.3,1531.75 1211.3,1531.82 1212.3,1531.9 1213.3,1531.97 1214.3,1532.04 1215.3,1532.11 1216.3,1532.18 1217.3,1532.25 1218.3,1532.32 1219.3,1532.38 1220.3,1532.45 1221.3,1532.51 1222.3,1532.57 1223.3,1532.64 1224.3,1532.7 1225.3,1532.76 1226.3,1532.82 1227.3,1532.88 1228.3,1532.93 1229.3,1532.99 1230.3,1533.04 1231.3,1533.1 1232.3,1533.15 1233.3,1533.21 1234.3,1533.26 1235.3,1533.31 1236.3,1533.36 1237.3,1533.41 1238.3,1533.46 1239.3,1533.5 1240.3,1533.55 1241.3,1533.6 1242.3,1533.64 1243.3,1533.69 1244.3,1533.73 1245.3,1533.77 1246.3,1533.81 1247.3,1533.86 1248.3,1533.9 1249.3,1533.94 1250.3,1533.97 1251.3,1534.01 1252.3,1534.05 1253.3,1534.09 1254.3,1534.12 1255.3,1534.16 1256.3,1534.2 1257.3,1534.23 1258.3,1534.26 1259.3,1534.3 1260.3,1534.33 1261.3,1534.36 1262.3,1534.39 1263.3,1534.43 1264.3,1534.46 1265.3,1534.49 1266.3,1534.52 1267.3,1534.54 1268.3,1534.57 1269.3,1534.6 1270.3,1534.63 1271.3,1534.65 1272.3,1534.68 1273.3,1534.71 1274.3,1534.73 1275.3,1534.76 1276.3,1534.78 1277.3,1534.81 1278.3,1534.83 1279.3,1534.85 1280.3,1534.88 1281.3,1534.9 1282.3,1534.92 1283.3,1534.94 1284.3,1534.96 1285.3,1534.98 1286.3,1535 1287.3,1535.02 1288.3,1535.04 1289.3,1535.06 1290.3,1535.08 1291.3,1535.1 1292.3,1535.12 1293.3,1535.14 1294.3,1535.16 1295.3,1535.17 1296.3,1535.19 1297.3,1535.21 1298.3,1535.23 1299.3,1535.24 1300.3,1535.26 1301.3,1535.27 1302.3,1535.29 1303.3,1535.3 1304.3,1535.32 1305.3,1535.34 1306.3,1535.35 1307.3,1535.36 1308.3,1535.38 1309.3,1535.39 1310.3,1535.41 1311.3,1535.42 1312.3,1535.43 1313.3,1535.45 1314.3,1535.46 1315.3,1535.47 1316.3,1535.48 1317.3,1535.5 1318.3,1535.51 1319.3,1535.52 1320.3,1535.53 1321.3,1535.55 1322.3,1535.56 1323.3,1535.57 1324.3,1535.58 1325.3,1535.59 1326.3,1535.6 1327.3,1535.61 1328.3,1535.62 1329.3,1535.63 1330.3,1535.64 1331.3,1535.65 1332.3,1535.66 1333.3,1535.67 1334.3,1535.68 1335.3,1535.69 1336.3,1535.7 1337.3,1535.71 1338.3,1535.72 1339.3,1535.73 1340.3,1535.74 1341.3,1535.75 1342.3,1535.76 1343.3,1535.77 1344.3,1535.78 1345.3,1535.79 1346.3,1535.79 1347.3,1535.8 1348.3,1535.81 1349.3,1535.82 1350.3,1535.83 1351.3,1535.83 1352.3,1535.84 1353.3,1535.85 1354.3,1535.86 1355.3,1535.87 1356.3,1535.87 1357.3,1535.88 1358.3,1535.89 1359.3,1535.9 1360.3,1535.9 1361.3,1535.91 1362.3,1535.92 1363.3,1535.93 1364.3,1535.93 1365.3,1535.94 1366.3,1535.95 1367.3,1535.95 1368.3,1535.96 1369.3,1535.97 1370.3,1535.97 1371.3,1535.98 1372.3,1535.99 1373.3,1535.99 1374.3,1536 1375.3,1536.01 1376.3,1536.01 1377.3,1536.02 1378.3,1536.03 1379.3,1536.03 1380.3,1536.04 1381.3,1536.04 1382.3,1536.05 1383.3,1536.06 1384.3,1536.06 1385.3,1536.07 1386.3,1536.07 1387.3,1536.08 1388.3,1536.09 1389.3,1536.09 1390.3,1536.1 1391.3,1536.1 1392.3,1536.11 1393.3,1536.11 1394.3,1536.12 1395.3,1536.12 1396.3,1536.13 1397.3,1536.13 1398.3,1536.14 1399.3,1536.15 1400.3,1536.15 1401.3,1536.16 1402.3,1536.16 1403.3,1536.17 1404.3,1536.17 1405.3,1536.18 1406.3,1536.18 1407.3,1536.19 1408.3,1536.19 1409.3,1536.2 1410.3,1536.2 1411.3,1536.21 1412.3,1536.21 1413.3,1536.21 1414.3,1536.22 1415.3,1536.22 1416.3,1536.23 1417.3,1536.23 1418.3,1536.24 1419.3,1536.24 1420.3,1536.25 1421.3,1536.25 1422.3,1536.26 1423.3,1536.26 1424.3,1536.26 1425.3,1536.27 1426.3,1536.27 1427.3,1536.28 1428.3,1536.28 1429.3,1536.28 1430.3,1536.29 1431.3,1536.29 1432.3,1536.3 1433.3,1536.3 1434.3,1536.31 1435.3,1536.31 1436.3,1536.31 1437.3,1536.32 1438.3,1536.32 1439.3,1536.32 1440.3,1536.33 1441.3,1536.33 1442.3,1536.34 1443.3,1536.34 1444.3,1536.34 1445.3,1536.35 1446.3,1536.35 1447.3,1536.35 1448.3,1536.36 1449.3,1536.36 1450.3,1536.36 1451.3,1536.37 1452.3,1536.37 1453.3,1536.37 1454.3,1536.38 1455.3,1536.38 1456.3,1536.38 1457.3,1536.39 1458.3,1536.39" fill="none" stroke="#ff3333" stroke-width="4.1" stroke-linejoin="round"/>
<polyline points="872.3,1520.81 873.3,1520.23 874.3,1519.63 875.3,1519.01 876.3,1518.38 877.3,1517.71 878.3,1517.03 879.3,1516.33 880.3,1515.6 881.3,1514.86 882.3,1514.09 883.3,1513.29 884.3,1512.48 885.3,1511.64 886.3,1510.79 887.3,1509.91 888.3,1509 889.3,1508.08 890.3,1507.14 891.3,1506.17 892.3,1505.19 893.3,1504.18 894.3,1503.15 895.3,1502.11 896.3,1501.05 897.3,1499.97 898.3,1498.87 899.3,1497.76 900.3,1496.63 901.3,1495.49 902.3,1494.33 903.3,1493.16 904.3,1491.98 905.3,1490.8 906.3,1489.6 907.3,1488.39 908.3,1487.18 909.3,1485.96 910.3,1484.74 911.3,1483.51 912.3,1482.28 913.3,1481.06 914.3,1479.83 915.3,1478.61 916.3,1477.39 917.3,1476.18 918.3,1474.98 919.3,1473.78 920.3,1472.6 921.3,1471.42 922.3,1470.26 923.3,1469.12 924.3,1467.99 925.3,1466.87 926.3,1465.78 927.3,1464.7 928.3,1463.65 929.3,1462.62 930.3,1461.61 931.3,1460.63 932.3,1459.68 933.3,1458.75 934.3,1457.85 935.3,1456.98 936.3,1456.14 937.3,1455.33 938.3,1454.55 939.3,1453.8 940.3,1453.09 941.3,1452.41 942.3,1451.76 943.3,1451.15 944.3,1450.57 945.3,1450.02 946.3,1449.52 947.3,1449.04 948.3,1448.61 949.3,1448.2 950.3,1447.84 951.3,1447.51 952.3,1447.21 953.3,1446.95 954.3,1446.72 955.3,1446.53 956.3,1446.37 957.3,1446.24 958.3,1446.15 959.3,1446.09 960.3,1446.06 961.3,1446.06 962.3,1446.09 963.3,1446.15 964.3,1446.24 965.3,1446.36 966.3,1446.51 967.3,1446.68 968.3,1446.88 969.3,1447.11 970.3,1447.35 971.3,1447.63 972.3,1447.92 973.3,1448.24 974.3,1448.58 975.3,1448.94 976.3,1449.32 977.3,1449.72 978.3,1450.14 979.3,1450.57 980.3,1451.02 981.3,1451.49 982.3,1451.97 983.3,1452.47 984.3,1452.98 985.3,1453.5 986.3,1454.04 987.3,1454.59 988.3,1455.15 989.3,1455.72 990.3,1456.3 991.3,1456.89 992.3,1457.5 993.3,1458.11 994.3,1458.72 995.3,1459.35 996.3,1459.98 997.3,1460.62 998.3,1461.27 999.3,1461.92 1000.3,1462.58 1001.3,1463.24 1002.3,1463.91 1003.3,1464.58 1004.3,1465.26 1005.3,1465.94 1006.3,1466.63 1007.3,1467.32 1008.3,1468.01 1009.3,1468.7 1010.3,1469.4 1011.3,1470.1 1012.3,1470.8 1013.3,1471.5 1014.3,1472.2 1015.3,1472.91 1016.3,1473.61 1017.3,1474.32 1018.3,1475.02 1019.3,1475.73 1020.3,1476.43 1021.3,1477.13 1022.3,1477.83 1023.3,1478.53 1024.3,1479.23 1025.3,1479.93 1026.3,1480.63 1027.3,1481.32 1028.3,1482.01 1029.3,1482.69 1030.3,1483.38 1031.3,1484.06 1032.3,1484.73 1033.3,1485.4 1034.3,1486.07 1035.3,1486.73 1036.3,1487.39 1037.3,1488.04 1038.3,1488.69 1039.3,1489.33 1040.3,1489.97 1041.3,1490.6 1042.3,1491.22 1043.3,1491.84 1044.3,1492.45 1045.3,1493.06 1046.3,1493.65 1047.3,1494.24 1048.3,1494.83 1049.3,1495.4 1050.3,1495.97 1051.3,1496.53 1052.3,1497.09 1053.3,1497.63 1054.3,1498.17 1055.3,1498.7 1056.3,1499.22 1057.3,1499.74 1058.3,1500.25 1059.3,1500.74 1060.3,1501.24 1061.3,1501.72 1062.3,1502.19 1063.3,1502.66 1064.3,1503.12 1065.3,1503.57 1066.3,1504.01 1067.3,1504.45 1068.3,1504.88 1069.3,1505.3 1070.3,1505.71 1071.3,1506.12 1072.3,1506.51 1073.3,1506.9 1074.3,1507.29 1075.3,1507.66 1076.3,1508.03 1077.3,1508.4 1078.3,1508.75 1079.3,1509.1 1080.3,1509.45 1081.3,1509.78 1082.3,1510.11 1083.3,1510.44 1084.3,1510.76 1085.3,1511.07 1086.3,1511.38 1087.3,1511.68 1088.3,1511.98 1089.3,1512.27 1090.3,1512.56 1091.3,1512.84 1092.3,1513.12 1093.3,1513.39 1094.3,1513.66 1095.3,1513.93 1096.3,1514.19 1097.3,1514.44 1098.3,1514.7 1099.3,1514.94 1100.3,1515.19 1101.3,1515.43 1102.3,1515.67 1103.3,1515.91 1104.3,1516.14 1105.3,1516.37 1106.3,1516.59 1107.3,1516.82 1108.3,1517.04 1109.3,1517.26 1110.3,1517.47 1111.3,1517.69 1112.3,1517.9 1113.3,1518.1 1114.3,1518.31 1115.3,1518.52 1116.3,1518.72 1117.3,1518.92 1118.3,1519.12 1119.3,1519.31 1120.3,1519.51 1121.3,1519.7 1122.3,1519.89 1123.3,1520.08 1124.3,1520.27 1125.3,1520.46 1126.3,1520.64 1127.3,1520.82 1128.3,1521.01 1129.3,1521.19 1130.3,1521.37 1131.3,1521.54 1132.3,1521.72 1133.3,1521.89 1134.3,1522.07 1135.3,1522.24 1136.3,1522.41 1137.3,1522.58 1138.3,1522.75 1139.3,1522.92 1140.3,1523.08 1141.3,1523.25 1142.3,1523.41 1143.3,1523.58 1144.3,1523.74 1145.3,1523.9 1146.3,1524.06 1147.3,1524.21 1148.3,1524.37 1149.3,1524.52 1150.3,1524.68 1151.3,1524.83 1152.3,1524.98 1153.3,1525.13 1154.3,1525.28 1155.3,1525.43 1156.3,1525.58 1157.3,1525.72 1158.3,1525.87 1159.3,1526.01 1160.3,1526.15 1161.3,1526.29 1162.3,1526.43 1163.3,1526.57 1164.3,1526.7 1165.3,1526.84 1166.3,1526.97 1167.3,1527.11 1168.3,1527.24 1169.3,1527.37 1170.3,1527.5 1171.3,1527.62 1172.3,1527.75 1173.3,1527.88 1174.3,1528 1175.3,1528.12 1176.3,1528.24 1177.3,1528.36 1178.3,1528.48 1179.3,1528.6 1180.3,1528.71 1181.3,1528.83 1182.3,1528.94 1183.3,1529.05 1184.3,1529.17 1185.3,1529.28 1186.3,1529.38 1187.3,1529.49 1188.3,1529.6 1189.3,1529.7 1190.3,1529.8 1191.3,1529.9 1192.3,1530 1193.3,1530.1 1194.3,1530.2 1195.3,1530.3 1196.3,1530.39 1197.3,1530.49 1198.3,1530.58 1199.3,1530.67 1200.3,1530.76 1201.3,1530.85 1202.3,1530.94 1203.3,1531.03 1204.3,1531.11 1205.3,1531.2 1206.3,1531.28 1207.3,1531.36 1208.3,1531.44 1209.3,1531.52 1210.3,1531.6 1211.3,1531.68 1212.3,1531.75 1213.3,1531.83 1214.3,1531.9 1215.3,1531.97 1216.3,1532.04 1217.3,1532.11 1218.3,1532.18 1219.3,1532.25 1220.3,1532.32 1221.3,1532.39 1222.3,1532.45 1223.3,1532.51 1224.3,1532.58 1225.3,1532.64 1226.3,1532.7 1227.3,1532.76 1228.3,1532.82 1229.3,1532.88 1230.3,1532.93 1231.3,1532.99 1232.3,1533.05 1233.3,1533.1 1234.3,1533.15 1235.3,1533.21 1236.3,1533.26 1237.3,1533.31 1238.3,1533.36 1239.3,1533.41 1240.3,1533.46 1241.3,1533.5 1242.3,1533.55 1243.3,1533.6 1244.3,1533.64 1245.3,1533.68 1246.3,1533.73 1247.3,1533.77 1248.3,1533.81 1249.3,1533.85 1250.3,1533.89 1251.3,1533.93 1252.3,1533.97 1253.3,1534.01 1254.3,1534.05 1255.3,1534.08 1256.3,1534.12 1257.3,1534.16 1258.3,1534.19 1259.3,1534.23 1260.3,1534.26 1261.3,1534.29 1262.3,1534.33 1263.3,1534.36 1264.3,1534.39 1265.3,1534.42 1266.3,1534.45 1267.3,1534.48 1268.3,1534.51 1269.3,1534.54 1270.3,1534.57 1271.3,1534.59 1272.3,1534.62 1273.3,1534.65 1274.3,1534.67 1275.3,1534.7 1276.3,1534.72 1277.3,1534.75 1278.3,1534.77 1279.3,1534.8 1280.3,1534.82 1281.3,1534.84 1282.3,1534.87 1283.3,1534.89 1284.3,1534.91 1285.3,1534.93 1286.3,1534.95 1287.3,1534.97 1288.3,1534.99 1289.3,1535.02 1290.3,1535.03 1291.3,1535.05 1292.3,1535.07 1293.3,1535.09 1294.3,1535.11 1295.3,1535.13 1296.3,1535.15 1297.3,1535.16 1298.3,1535.18 1299.3,1535.2 1300.3,1535.21 1301.3,1535.23 1302.3,1535.25 1303.3,1535.26 1304.3,1535.28 1305.3,1535.29 1306.3,1535.31 1307.3,1535.32 1308.3,1535.34 1309.3,1535.35 1310.3,1535.37 1311.3,1535.38 1312.3,1535.4 1313.3,1535.41 1314.3,1535.42 1315.3,1535.44 1316.3,1535.45 1317.3,1535.46 1318.3,1535.47 1319.3,1535.49 1320.3,1535.5 1321.3,1535.51 1322.3,1535.52 1323.3,1535.53 1324.3,1535.55 1325.3,1535.56 1326.3,1535.57 1327.3,1535.58 1328.3,1535.59 1329.3,1535.6 1330.3,1535.61 1331.3,1535.62 1332.3,1535.63 1333.3,1535.64 1334.3,1535.65 1335.3,1535.66 1336.3,1535.67 1337.3,1535.68 1338.3,1535.69 1339.3,1535.7 1340.3,1535.71 1341.3,1535.72 1342.3,1535.73 1343.3,1535.74 1344.3,1535.75 1345.3,1535.76 1346.3,1535.77 1347.3,1535.78 1348.3,1535.78 1349.3,1535.79 1350.3,1535.8 1351.3,1535.81 1352.3,1535.82 1353.3,1535.83 1354.3,1535.83 1355.3,1535.84 1356.3,1535.85 1357.3,1535.86 1358.3,1535.87 1359.3,1535.87 1360.3,1535.88 1361.3,1535.89 1362.3,1535.9 1363.3,1535.9 1364.3,1535.91 1365.3,1535.92 1366.3,1535.92 1367.3,1535.93 1368.3,1535.94 1369.3,1535.95 1370.3,1535.95 1371.3,1535.96 1372.3,1535.97 1373.3,1535.97 1374.3,1535.98 1375.3,1535.99 1376.3,1535.99 1377.3,1536 1378.3,1536.01 1379.3,1536.01 1380.3,1536.02 1381.3,1536.02 1382.3,1536.03 1383.3,1536.04 1384.3,1536.04 1385.3,1536.05 1386.3,1536.06 1387.3,1536.06 1388.3,1536.07 1389.3,1536.07 1390.3,1536.08 1391.3,1536.08 1392.3,1536.09 1393.3,1536.1 1394.3,1536.1 1395.3,1536.11 1396.3,1536.11 1397.3,1536.12 1398.3,1536.12 1399.3,1536.13 1400.3,1536.13 1401.3,1536.14 1402.3,1536.14 1403.3,1536.15 1404.3,1536.16 1405.3,1536.16 1406.3,1536.17 1407.3,1536.17 1408.3,1536.18 1409.3,1536.18 1410.3,1536.19 1411.3,1536.19 1412.3,1536.2 1413.3,1536.2 1414.3,1536.21 1415.3,1536.21 1416.3,1536.21 1417.3,1536.22 1418.3,1536.22 1419.3,1536.23 1420.3,1536.23 1421.3,1536.24 1422.3,1536.24 1423.3,1536.25 1424.3,1536.25 1425.3,1536.26 1426.3,1536.26 1427.3,1536.26 1428.3,1536.27 1429.3,1536.27 1430.3,1536.28 1431.3,1536.28 1432.3,1536.29 1433.3,1536.29 1434.3,1536.29 1435.3,1536.3 1436.3,1536.3 1437.3,1536.31 1438.3,1536.31 1439.3,1536.31 1440.3,1536.32 1441.3,1536.32 1442.3,1536.33 1443.3,1536.33 1444.3,1536.33 1445.3,1536.34 1446.3,1536.34 1447.3,1536.34 1448.3,1536.35 1449.3,1536.35 1450.3,1536.35 1451.3,1536.36 1452.3,1536.36 1453.3,1536.37 1454.3,1536.37 1455.3,1536.37 1456.3,1536.38 1457.3,1536.38 1458.3,1536.38" fill="none" stroke="#0066e6" stroke-width="4.1" stroke-linejoin="round"/>
<polyline points="872.3,1522.22 873.3,1521.7 874.3,1521.15 875.3,1520.59 876.3,1520.01 877.3,1519.41 878.3,1518.79 879.3,1518.15 880.3,1517.48 881.3,1516.8 882.3,1516.1 883.3,1515.38 884.3,1514.64 885.3,1513.88 886.3,1513.1 887.3,1512.3 888.3,1511.47 889.3,1510.63 890.3,1509.77 891.3,1508.89 892.3,1508 893.3,1507.08 894.3,1506.15 895.3,1505.2 896.3,1504.23 897.3,1503.24 898.3,1502.24 899.3,1501.23 900.3,1500.2 901.3,1499.16 902.3,1498.11 903.3,1497.05 904.3,1495.97 905.3,1494.89 906.3,1493.8 907.3,1492.7 908.3,1491.59 909.3,1490.48 910.3,1489.37 911.3,1488.25 912.3,1487.14 913.3,1486.02 914.3,1484.9 915.3,1483.79 916.3,1482.68 917.3,1481.58 918.3,1480.48 919.3,1479.39 920.3,1478.31 921.3,1477.24 922.3,1476.19 923.3,1475.14 924.3,1474.11 925.3,1473.1 926.3,1472.1 927.3,1471.12 928.3,1470.17 929.3,1469.23 930.3,1468.31 931.3,1467.42 932.3,1466.55 933.3,1465.7 934.3,1464.88 935.3,1464.09 936.3,1463.32 937.3,1462.58 938.3,1461.87 939.3,1461.19 940.3,1460.54 941.3,1459.92 942.3,1459.33 943.3,1458.78 944.3,1458.25 945.3,1457.75 946.3,1457.29 947.3,1456.86 948.3,1456.46 949.3,1456.1 950.3,1455.76 951.3,1455.46 952.3,1455.19 953.3,1454.95 954.3,1454.75 955.3,1454.57 956.3,1454.42 957.3,1454.31 958.3,1454.22 959.3,1454.17 960.3,1454.14 961.3,1454.14 962.3,1454.17 963.3,1454.23 964.3,1454.31 965.3,1454.42 966.3,1454.55 967.3,1454.71 968.3,1454.89 969.3,1455.1 970.3,1455.32 971.3,1455.57 972.3,1455.84 973.3,1456.13 974.3,1456.44 975.3,1456.77 976.3,1457.11 977.3,1457.48 978.3,1457.86 979.3,1458.25 980.3,1458.66 981.3,1459.09 982.3,1459.53 983.3,1459.98 984.3,1460.45 985.3,1460.92 986.3,1461.41 987.3,1461.91 988.3,1462.42 989.3,1462.94 990.3,1463.47 991.3,1464.01 992.3,1464.56 993.3,1465.11 994.3,1465.68 995.3,1466.25 996.3,1466.82 997.3,1467.41 998.3,1468 999.3,1468.59 1000.3,1469.19 1001.3,1469.79 1002.3,1470.4 1003.3,1471.02 1004.3,1471.63 1005.3,1472.25 1006.3,1472.88 1007.3,1473.51 1008.3,1474.13 1009.3,1474.77 1010.3,1475.4 1011.3,1476.04 1012.3,1476.68 1013.3,1477.31 1014.3,1477.95 1015.3,1478.6 1016.3,1479.24 1017.3,1479.88 1018.3,1480.52 1019.3,1481.16 1020.3,1481.8 1021.3,1482.44 1022.3,1483.08 1023.3,1483.72 1024.3,1484.36 1025.3,1484.99 1026.3,1485.63 1027.3,1486.26 1028.3,1486.88 1029.3,1487.51 1030.3,1488.13 1031.3,1488.75 1032.3,1489.37 1033.3,1489.98 1034.3,1490.59 1035.3,1491.19 1036.3,1491.79 1037.3,1492.38 1038.3,1492.97 1039.3,1493.56 1040.3,1494.14 1041.3,1494.71 1042.3,1495.28 1043.3,1495.84 1044.3,1496.4 1045.3,1496.95 1046.3,1497.49 1047.3,1498.03 1048.3,1498.56 1049.3,1499.09 1050.3,1499.6 1051.3,1500.12 1052.3,1500.62 1053.3,1501.12 1054.3,1501.61 1055.3,1502.09 1056.3,1502.57 1057.3,1503.04 1058.3,1503.5 1059.3,1503.95 1060.3,1504.4 1061.3,1504.84 1062.3,1505.27 1063.3,1505.7 1064.3,1506.11 1065.3,1506.52 1066.3,1506.93 1067.3,1507.33 1068.3,1507.72 1069.3,1508.1 1070.3,1508.47 1071.3,1508.84 1072.3,1509.21 1073.3,1509.56 1074.3,1509.91 1075.3,1510.25 1076.3,1510.59 1077.3,1510.92 1078.3,1511.25 1079.3,1511.56 1080.3,1511.88 1081.3,1512.18 1082.3,1512.49 1083.3,1512.78 1084.3,1513.07 1085.3,1513.36 1086.3,1513.64 1087.3,1513.91 1088.3,1514.18 1089.3,1514.45 1090.3,1514.71 1091.3,1514.97 1092.3,1515.22 1093.3,1515.47 1094.3,1515.72 1095.3,1515.96 1096.3,1516.19 1097.3,1516.43 1098.3,1516.66 1099.3,1516.88 1100.3,1517.11 1101.3,1517.33 1102.3,1517.55 1103.3,1517.76 1104.3,1517.97 1105.3,1518.18 1106.3,1518.39 1107.3,1518.59 1108.3,1518.79 1109.3,1518.99 1110.3,1519.19 1111.3,1519.38 1112.3,1519.57 1113.3,1519.76 1114.3,1519.95 1115.3,1520.14 1116.3,1520.32 1117.3,1520.5 1118.3,1520.68 1119.3,1520.86 1120.3,1521.04 1121.3,1521.22 1122.3,1521.39 1123.3,1521.56 1124.3,1521.73 1125.3,1521.9 1126.3,1522.07 1127.3,1522.24 1128.3,1522.41 1129.3,1522.57 1130.3,1522.73 1131.3,1522.89 1132.3,1523.06 1133.3,1523.21 1134.3,1523.37 1135.3,1523.53 1136.3,1523.69 1137.3,1523.84 1138.3,1523.99 1139.3,1524.15 1140.3,1524.3 1141.3,1524.45 1142.3,1524.6 1143.3,1524.74 1144.3,1524.89 1145.3,1525.04 1146.3,1525.18 1147.3,1525.33 1148.3,1525.47 1149.3,1525.61 1150.3,1525.75 1151.3,1525.89 1152.3,1526.03 1153.3,1526.16 1154.3,1526.3 1155.3,1526.43 1156.3,1526.57 1157.3,1526.7 1158.3,1526.83 1159.3,1526.96 1160.3,1527.09 1161.3,1527.22 1162.3,1527.34 1163.3,1527.47 1164.3,1527.59 1165.3,1527.72 1166.3,1527.84 1167.3,1527.96 1168.3,1528.08 1169.3,1528.2 1170.3,1528.32 1171.3,1528.43 1172.3,1528.55 1173.3,1528.66 1174.3,1528.77 1175.3,1528.89 1176.3,1529 1177.3,1529.11 1178.3,1529.21 1179.3,1529.32 1180.3,1529.43 1181.3,1529.53 1182.3,1529.63 1183.3,1529.74 1184.3,1529.84 1185.3,1529.94 1186.3,1530.04 1187.3,1530.13 1188.3,1530.23 1189.3,1530.32 1190.3,1530.42 1191.3,1530.51 1192.3,1530.6 1193.3,1530.69 1194.3,1530.78 1195.3,1530.87 1196.3,1530.96 1197.3,1531.04 1198.3,1531.13 1199.3,1531.21 1200.3,1531.29 1201.3,1531.37 1202.3,1531.45 1203.3,1531.53 1204.3,1531.61 1205.3,1531.69 1206.3,1531.76 1207.3,1531.84 1208.3,1531.91 1209.3,1531.98 1210.3,1532.05 1211.3,1532.12 1212.3,1532.19 1213.3,1532.26 1214.3,1532.33 1215.3,1532.39 1216.3,1532.46 1217.3,1532.52 1218.3,1532.59 1219.3,1532.65 1220.3,1532.71 1221.3,1532.77 1222.3,1532.83 1223.3,1532.89 1224.3,1532.94 1225.3,1533 1226.3,1533.06 1227.3,1533.11 1228.3,1533.17 1229.3,1533.22 1230.3,1533.27 1231.3,1533.32 1232.3,1533.37 1233.3,1533.42 1234.3,1533.47 1235.3,1533.52 1236.3,1533.56 1237.3,1533.61 1238.3,1533.66 1239.3,1533.7 1240.3,1533.74 1241.3,1533.79 1242.3,1533.83 1243.3,1533.87 1244.3,1533.91 1245.3,1533.95 1246.3,1533.99 1247.3,1534.03 1248.3,1534.07 1249.3,1534.11 1250.3,1534.14 1251.3,1534.18 1252.3,1534.21 1253.3,1534.25 1254.3,1534.28 1255.3,1534.32 1256.3,1534.35 1257.3,1534.38 1258.3,1534.41 1259.3,1534.45 1260.3,1534.48 1261.3,1534.51 1262.3,1534.54 1263.3,1534.57 1264.3,1534.59 1265.3,1534.62 1266.3,1534.65 1267.3,1534.68 1268.3,1534.7 1269.3,1534.73 1270.3,1534.76 1271.3,1534.78 1272.3,1534.81 1273.3,1534.83 1274.3,1534.85 1275.3,1534.88 1276.3,1534.9 1277.3,1534.92 1278.3,1534.94 1279.3,1534.97 1280.3,1534.99 1281.3,1535.01 1282.3,1535.03 1283.3,1535.05 1284.3,1535.07 1285.3,1535.09 1286.3,1535.11 1287.3,1535.13 1288.3,1535.15 1289.3,1535.16 1290.3,1535.18 1291.3,1535.2 1292.3,1535.22 1293.3,1535.23 1294.3,1535.25 1295.3,1535.27 1296.3,1535.28 1297.3,1535.3 1298.3,1535.32 1299.3,1535.33 1300.3,1535.35 1301.3,1535.36 1302.3,1535.38 1303.3,1535.39 1304.3,1535.4 1305.3,1535.42 1306.3,1535.43 1307.3,1535.45 1308.3,1535.46 1309.3,1535.47 1310.3,1535.49 1311.3,1535.5 1312.3,1535.51 1313.3,1535.52 1314.3,1535.54 1315.3,1535.55 1316.3,1535.56 1317.3,1535.57 1318.3,1535.58 1319.3,1535.59 1320.3,1535.61 1321.3,1535.62 1322.3,1535.63 1323.3,1535.64 1324.3,1535.65 1325.3,1535.66 1326.3,1535.67 1327.3,1535.68 1328.3,1535.69 1329.3,1535.7 1330.3,1535.71 1331.3,1535.72 1332.3,1535.73 1333.3,1535.74 1334.3,1535.75 1335.3,1535.76 1336.3,1535.76 1337.3,1535.77 1338.3,1535.78 1339.3,1535.79 1340.3,1535.8 1341.3,1535.81 1342.3,1535.82 1343.3,1535.82 1344.3,1535.83 1345.3,1535.84 1346.3,1535.85 1347.3,1535.86 1348.3,1535.86 1349.3,1535.87 1350.3,1535.88 1351.3,1535.89 1352.3,1535.9 1353.3,1535.9 1354.3,1535.91 1355.3,1535.92 1356.3,1535.92 1357.3,1535.93 1358.3,1535.94 1359.3,1535.95 1360.3,1535.95 1361.3,1535.96 1362.3,1535.97 1363.3,1535.97 1364.3,1535.98 1365.3,1535.99 1366.3,1535.99 1367.3,1536 1368.3,1536.01 1369.3,1536.01 1370.3,1536.02 1371.3,1536.02 1372.3,1536.03 1373.3,1536.04 1374.3,1536.04 1375.3,1536.05 1376.3,1536.05 1377.3,1536.06 1378.3,1536.07 1379.3,1536.07 1380.3,1536.08 1381.3,1536.08 1382.3,1536.09 1383.3,1536.1 1384.3,1536.1 1385.3,1536.11 1386.3,1536.11 1387.3,1536.12 1388.3,1536.12 1389.3,1536.13 1390.3,1536.13 1391.3,1536.14 1392.3,1536.14 1393.3,1536.15 1394.3,1536.15 1395.3,1536.16 1396.3,1536.16 1397.3,1536.17 1398.3,1536.17 1399.3,1536.18 1400.3,1536.18 1401.3,1536.19 1402.3,1536.19 1403.3,1536.2 1404.3,1536.2 1405.3,1536.21 1406.3,1536.21 1407.3,1536.22 1408.3,1536.22 1409.3,1536.23 1410.3,1536.23 1411.3,1536.24 1412.3,1536.24 1413.3,1536.24 1414.3,1536.25 1415.3,1536.25 1416.3,1536.26 1417.3,1536.26 1418.3,1536.27 1419.3,1536.27 1420.3,1536.27 1421.3,1536.28 1422.3,1536.28 1423.3,1536.29 1424.3,1536.29 1425.3,1536.29 1426.3,1536.3 1427.3,1536.3 1428.3,1536.31 1429.3,1536.31 1430.3,1536.31 1431.3,1536.32 1432.3,1536.32 1433.3,1536.33 1434.3,1536.33 1435.3,1536.33 1436.3,1536.34 1437.3,1536.34 1438.3,1536.34 1439.3,1536.35 1440.3,1536.35 1441.3,1536.35 1442.3,1536.36 1443.3,1536.36 1444.3,1536.36 1445.3,1536.37 1446.3,1536.37 1447.3,1536.37 1448.3,1536.38 1449.3,1536.38 1450.3,1536.38 1451.3,1536.39 1452.3,1536.39 1453.3,1536.39 1454.3,1536.4 1455.3,1536.4 1456.3,1536.4 1457.3,1536.41 1458.3,1536.41" fill="none" stroke="#00aa60" stroke-width="4.1" stroke-linejoin="round"/>
<polyline points="872.3,1519.28 873.3,1518.65 874.3,1517.99 875.3,1517.32 876.3,1516.62 877.3,1515.89 878.3,1515.14 879.3,1514.37 880.3,1513.58 881.3,1512.76 882.3,1511.91 883.3,1511.05 884.3,1510.15 885.3,1509.24 886.3,1508.3 887.3,1507.33 888.3,1506.34 889.3,1505.33 890.3,1504.3 891.3,1503.24 892.3,1502.16 893.3,1501.06 894.3,1499.93 895.3,1498.79 896.3,1497.62 897.3,1496.44 898.3,1495.24 899.3,1494.02 900.3,1492.78 901.3,1491.53 902.3,1490.26 903.3,1488.98 904.3,1487.69 905.3,1486.39 906.3,1485.07 907.3,1483.75 908.3,1482.42 909.3,1481.09 910.3,1479.75 911.3,1478.4 912.3,1477.06 913.3,1475.71 914.3,1474.37 915.3,1473.03 916.3,1471.7 917.3,1470.37 918.3,1469.05 919.3,1467.74 920.3,1466.44 921.3,1465.15 922.3,1463.88 923.3,1462.62 924.3,1461.39 925.3,1460.17 926.3,1458.97 927.3,1457.79 928.3,1456.64 929.3,1455.51 930.3,1454.4 931.3,1453.33 932.3,1452.28 933.3,1451.26 934.3,1450.28 935.3,1449.32 936.3,1448.4 937.3,1447.51 938.3,1446.66 939.3,1445.84 940.3,1445.06 941.3,1444.31 942.3,1443.6 943.3,1442.93 944.3,1442.3 945.3,1441.7 946.3,1441.14 947.3,1440.63 948.3,1440.15 949.3,1439.7 950.3,1439.3 951.3,1438.94 952.3,1438.61 953.3,1438.33 954.3,1438.08 955.3,1437.87 956.3,1437.69 957.3,1437.55 958.3,1437.45 959.3,1437.38 960.3,1437.35 961.3,1437.35 962.3,1437.39 963.3,1437.45 964.3,1437.55 965.3,1437.68 966.3,1437.85 967.3,1438.04 968.3,1438.25 969.3,1438.5 970.3,1438.77 971.3,1439.07 972.3,1439.4 973.3,1439.75 974.3,1440.12 975.3,1440.51 976.3,1440.93 977.3,1441.37 978.3,1441.82 979.3,1442.3 980.3,1442.79 981.3,1443.31 982.3,1443.83 983.3,1444.38 984.3,1444.94 985.3,1445.51 986.3,1446.1 987.3,1446.7 988.3,1447.32 989.3,1447.94 990.3,1448.58 991.3,1449.23 992.3,1449.89 993.3,1450.56 994.3,1451.23 995.3,1451.92 996.3,1452.61 997.3,1453.31 998.3,1454.02 999.3,1454.74 1000.3,1455.46 1001.3,1456.19 1002.3,1456.92 1003.3,1457.66 1004.3,1458.4 1005.3,1459.15 1006.3,1459.9 1007.3,1460.65 1008.3,1461.41 1009.3,1462.17 1010.3,1462.94 1011.3,1463.7 1012.3,1464.47 1013.3,1465.24 1014.3,1466.01 1015.3,1466.78 1016.3,1467.55 1017.3,1468.32 1018.3,1469.1 1019.3,1469.87 1020.3,1470.64 1021.3,1471.41 1022.3,1472.18 1023.3,1472.95 1024.3,1473.71 1025.3,1474.48 1026.3,1475.24 1027.3,1476 1028.3,1476.75 1029.3,1477.51 1030.3,1478.26 1031.3,1479 1032.3,1479.74 1033.3,1480.48 1034.3,1481.21 1035.3,1481.93 1036.3,1482.65 1037.3,1483.37 1038.3,1484.08 1039.3,1484.78 1040.3,1485.48 1041.3,1486.17 1042.3,1486.85 1043.3,1487.53 1044.3,1488.2 1045.3,1488.86 1046.3,1489.52 1047.3,1490.17 1048.3,1490.81 1049.3,1491.44 1050.3,1492.06 1051.3,1492.68 1052.3,1493.28 1053.3,1493.88 1054.3,1494.47 1055.3,1495.05 1056.3,1495.63 1057.3,1496.19 1058.3,1496.75 1059.3,1497.29 1060.3,1497.83 1061.3,1498.36 1062.3,1498.88 1063.3,1499.39 1064.3,1499.89 1065.3,1500.39 1066.3,1500.88 1067.3,1501.35 1068.3,1501.82 1069.3,1502.28 1070.3,1502.73 1071.3,1503.18 1072.3,1503.62 1073.3,1504.04 1074.3,1504.46 1075.3,1504.88 1076.3,1505.28 1077.3,1505.68 1078.3,1506.07 1079.3,1506.45 1080.3,1506.83 1081.3,1507.2 1082.3,1507.56 1083.3,1507.92 1084.3,1508.27 1085.3,1508.61 1086.3,1508.95 1087.3,1509.28 1088.3,1509.61 1089.3,1509.93 1090.3,1510.24 1091.3,1510.55 1092.3,1510.86 1093.3,1511.15 1094.3,1511.45 1095.3,1511.74 1096.3,1512.03 1097.3,1512.31 1098.3,1512.58 1099.3,1512.86 1100.3,1513.12 1101.3,1513.39 1102.3,1513.65 1103.3,1513.91 1104.3,1514.16 1105.3,1514.42 1106.3,1514.66 1107.3,1514.91 1108.3,1515.15 1109.3,1515.39 1110.3,1515.63 1111.3,1515.86 1112.3,1516.09 1113.3,1516.32 1114.3,1516.55 1115.3,1516.77 1116.3,1516.99 1117.3,1517.21 1118.3,1517.43 1119.3,1517.64 1120.3,1517.86 1121.3,1518.07 1122.3,1518.28 1123.3,1518.49 1124.3,1518.69 1125.3,1518.9 1126.3,1519.1 1127.3,1519.3 1128.3,1519.5 1129.3,1519.7 1130.3,1519.89 1131.3,1520.09 1132.3,1520.28 1133.3,1520.47 1134.3,1520.66 1135.3,1520.85 1136.3,1521.04 1137.3,1521.23 1138.3,1521.41 1139.3,1521.59 1140.3,1521.78 1141.3,1521.96 1142.3,1522.14 1143.3,1522.32 1144.3,1522.49 1145.3,1522.67 1146.3,1522.84 1147.3,1523.01 1148.3,1523.19 1149.3,1523.36 1150.3,1523.52 1151.3,1523.69 1152.3,1523.86 1153.3,1524.02 1154.3,1524.19 1155.3,1524.35 1156.3,1524.51 1157.3,1524.67 1158.3,1524.83 1159.3,1524.98 1160.3,1525.14 1161.3,1525.29 1162.3,1525.44 1163.3,1525.59 1164.3,1525.74 1165.3,1525.89 1166.3,1526.04 1167.3,1526.19 1168.3,1526.33 1169.3,1526.47 1170.3,1526.61 1171.3,1526.75 1172.3,1526.89 1173.3,1527.03 1174.3,1527.16 1175.3,1527.3 1176.3,1527.43 1177.3,1527.56 1178.3,1527.69 1179.3,1527.82 1180.3,1527.95 1181.3,1528.07 1182.3,1528.2 1183.3,1528.32 1184.3,1528.44 1185.3,1528.56 1186.3,1528.68 1187.3,1528.8 1188.3,1528.91 1189.3,1529.03 1190.3,1529.14 1191.3,1529.25 1192.3,1529.36 1193.3,1529.47 1194.3,1529.58 1195.3,1529.68 1196.3,1529.79 1197.3,1529.89 1198.3,1529.99 1199.3,1530.09 1200.3,1530.19 1201.3,1530.29 1202.3,1530.39 1203.3,1530.48 1204.3,1530.58 1205.3,1530.67 1206.3,1530.76 1207.3,1530.85 1208.3,1530.94 1209.3,1531.02 1210.3,1531.11 1211.3,1531.19 1212.3,1531.28 1213.3,1531.36 1214.3,1531.44 1215.3,1531.52 1216.3,1531.6 1217.3,1531.68 1218.3,1531.75 1219.3,1531.83 1220.3,1531.9 1221.3,1531.97 1222.3,1532.04 1223.3,1532.11 1224.3,1532.18 1225.3,1532.25 1226.3,1532.32 1227.3,1532.38 1228.3,1532.45 1229.3,1532.51 1230.3,1532.57 1231.3,1532.64 1232.3,1532.7 1233.3,1532.76 1234.3,1532.81 1235.3,1532.87 1236.3,1532.93 1237.3,1532.98 1238.3,1533.04 1239.3,1533.09 1240.3,1533.14 1241.3,1533.2 1242.3,1533.25 1243.3,1533.3 1244.3,1533.35 1245.3,1533.4 1246.3,1533.44 1247.3,1533.49 1248.3,1533.54 1249.3,1533.58 1250.3,1533.62 1251.3,1533.67 1252.3,1533.71 1253.3,1533.75 1254.3,1533.79 1255.3,1533.83 1256.3,1533.87 1257.3,1533.91 1258.3,1533.95 1259.3,1533.99 1260.3,1534.03 1261.3,1534.06 1262.3,1534.1 1263.3,1534.13 1264.3,1534.17 1265.3,1534.2 1266.3,1534.23 1267.3,1534.27 1268.3,1534.3 1269.3,1534.33 1270.3,1534.36 1271.3,1534.39 1272.3,1534.42 1273.3,1534.45 1274.3,1534.48 1275.3,1534.51 1276.3,1534.54 1277.3,1534.56 1278.3,1534.59 1279.3,1534.62 1280.3,1534.64 1281.3,1534.67 1282.3,1534.69 1283.3,1534.72 1284.3,1534.74 1285.3,1534.76 1286.3,1534.79 1287.3,1534.81 1288.3,1534.83 1289.3,1534.85 1290.3,1534.88 1291.3,1534.9 1292.3,1534.92 1293.3,1534.94 1294.3,1534.96 1295.3,1534.98 1296.3,1535 1297.3,1535.02 1298.3,1535.04 1299.3,1535.05 1300.3,1535.07 1301.3,1535.09 1302.3,1535.11 1303.3,1535.13 1304.3,1535.14 1305.3,1535.16 1306.3,1535.18 1307.3,1535.19 1308.3,1535.21 1309.3,1535.22 1310.3,1535.24 1311.3,1535.26 1312.3,1535.27 1313.3,1535.29 1314.3,1535.3 1315.3,1535.32 1316.3,1535.33 1317.3,1535.34 1318.3,1535.36 1319.3,1535.37 1320.3,1535.38 1321.3,1535.4 1322.3,1535.41 1323.3,1535.42 1324.3,1535.44 1325.3,1535.45 1326.3,1535.46 1327.3,1535.47 1328.3,1535.49 1329.3,1535.5 1330.3,1535.51 1331.3,1535.52 1332.3,1535.53 1333.3,1535.54 1334.3,1535.55 1335.3,1535.57 1336.3,1535.58 1337.3,1535.59 1338.3,1535.6 1339.3,1535.61 1340.3,1535.62 1341.3,1535.63 1342.3,1535.64 1343.3,1535.65 1344.3,1535.66 1345.3,1535.67 1346.3,1535.68 1347.3,1535.69 1348.3,1535.7 1349.3,1535.71 1350.3,1535.72 1351.3,1535.72 1352.3,1535.73 1353.3,1535.74 1354.3,1535.75 1355.3,1535.76 1356.3,1535.77 1357.3,1535.78 1358.3,1535.79 1359.3,1535.79 1360.3,1535.8 1361.3,1535.81 1362.3,1535.82 1363.3,1535.83 1364.3,1535.83 1365.3,1535.84 1366.3,1535.85 1367.3,1535.86 1368.3,1535.87 1369.3,1535.87 1370.3,1535.88 1371.3,1535.89 1372.3,1535.9 1373.3,1535.9 1374.3,1535.91 1375.3,1535.92 1376.3,1535.93 1377.3,1535.93 1378.3,1535.94 1379.3,1535.95 1380.3,1535.95 1381.3,1535.96 1382.3,1535.97 1383.3,1535.97 1384.3,1535.98 1385.3,1535.99 1386.3,1535.99 1387.3,1536 1388.3,1536.01 1389.3,1536.01 1390.3,1536.02 1391.3,1536.03 1392.3,1536.03 1393.3,1536.04 1394.3,1536.04 1395.3,1536.05 1396.3,1536.06 1397.3,1536.06 1398.3,1536.07 1399.3,1536.07 1400.3,1536.08 1401.3,1536.09 1402.3,1536.09 1403.3,1536.1 1404.3,1536.1 1405.3,1536.11 1406.3,1536.11 1407.3,1536.12 1408.3,1536.13 1409.3,1536.13 1410.3,1536.14 1411.3,1536.14 1412.3,1536.15 1413.3,1536.15 1414.3,1536.16 1415.3,1536.16 1416.3,1536.17 1417.3,1536.17 1418.3,1536.18 1419.3,1536.18 1420.3,1536.19 1421.3,1536.19 1422.3,1536.2 1423.3,1536.2 1424.3,1536.21 1425.3,1536.21 1426.3,1536.22 1427.3,1536.22 1428.3,1536.23 1429.3,1536.23 1430.3,1536.24 1431.3,1536.24 1432.3,1536.25 1433.3,1536.25 1434.3,1536.26 1435.3,1536.26 1436.3,1536.26 1437.3,1536.27 1438.3,1536.27 1439.3,1536.28 1440.3,1536.28 1441.3,1536.29 1442.3,1536.29 1443.3,1536.29 1444.3,1536.3 1445.3,1536.3 1446.3,1536.31 1447.3,1536.31 1448.3,1536.31 1449.3,1536.32 1450.3,1536.32 1451.3,1536.33 1452.3,1536.33 1453.3,1536.33 1454.3,1536.34 1455.3,1536.34 1456.3,1536.35 1457.3,1536.35 1458.3,1536.35" fill="none" stroke="#cc77ee" stroke-width="4.1" stroke-linejoin="round"/>
<polyline points="872.3,1515.11 873.3,1514.33 874.3,1513.52 875.3,1512.68 876.3,1511.81 877.3,1510.91 878.3,1509.99 879.3,1509.03 880.3,1508.04 881.3,1507.03 882.3,1505.98 883.3,1504.91 884.3,1503.8 885.3,1502.66 886.3,1501.5 887.3,1500.3 888.3,1499.08 889.3,1497.82 890.3,1496.54 891.3,1495.23 892.3,1493.89 893.3,1492.52 894.3,1491.13 895.3,1489.71 896.3,1488.27 897.3,1486.8 898.3,1485.31 899.3,1483.8 900.3,1482.27 901.3,1480.72 902.3,1479.15 903.3,1477.56 904.3,1475.96 905.3,1474.34 906.3,1472.71 907.3,1471.07 908.3,1469.43 909.3,1467.77 910.3,1466.11 911.3,1464.45 912.3,1462.78 913.3,1461.11 914.3,1459.45 915.3,1457.79 916.3,1456.14 917.3,1454.49 918.3,1452.85 919.3,1451.23 920.3,1449.62 921.3,1448.02 922.3,1446.45 923.3,1444.89 924.3,1443.35 925.3,1441.84 926.3,1440.36 927.3,1438.9 928.3,1437.47 929.3,1436.07 930.3,1434.7 931.3,1433.37 932.3,1432.07 933.3,1430.81 934.3,1429.58 935.3,1428.4 936.3,1427.26 937.3,1426.16 938.3,1425.1 939.3,1424.08 940.3,1423.11 941.3,1422.19 942.3,1421.31 943.3,1420.48 944.3,1419.69 945.3,1418.96 946.3,1418.27 947.3,1417.62 948.3,1417.03 949.3,1416.48 950.3,1415.98 951.3,1415.53 952.3,1415.13 953.3,1414.78 954.3,1414.47 955.3,1414.2 956.3,1413.99 957.3,1413.82 958.3,1413.69 959.3,1413.6 960.3,1413.56 961.3,1413.57 962.3,1413.61 963.3,1413.69 964.3,1413.82 965.3,1413.98 966.3,1414.18 967.3,1414.41 968.3,1414.68 969.3,1414.99 970.3,1415.33 971.3,1415.7 972.3,1416.1 973.3,1416.53 974.3,1416.99 975.3,1417.48 976.3,1418 977.3,1418.54 978.3,1419.11 979.3,1419.7 980.3,1420.31 981.3,1420.94 982.3,1421.6 983.3,1422.28 984.3,1422.97 985.3,1423.68 986.3,1424.41 987.3,1425.16 988.3,1425.92 989.3,1426.69 990.3,1427.48 991.3,1428.29 992.3,1429.1 993.3,1429.93 994.3,1430.77 995.3,1431.62 996.3,1432.48 997.3,1433.35 998.3,1434.23 999.3,1435.12 1000.3,1436.01 1001.3,1436.91 1002.3,1437.82 1003.3,1438.73 1004.3,1439.66 1005.3,1440.58 1006.3,1441.51 1007.3,1442.45 1008.3,1443.39 1009.3,1444.33 1010.3,1445.28 1011.3,1446.22 1012.3,1447.18 1013.3,1448.13 1014.3,1449.08 1015.3,1450.04 1016.3,1451 1017.3,1451.95 1018.3,1452.91 1019.3,1453.87 1020.3,1454.83 1021.3,1455.78 1022.3,1456.73 1023.3,1457.69 1024.3,1458.64 1025.3,1459.58 1026.3,1460.53 1027.3,1461.47 1028.3,1462.4 1029.3,1463.34 1030.3,1464.26 1031.3,1465.19 1032.3,1466.1 1033.3,1467.02 1034.3,1467.92 1035.3,1468.82 1036.3,1469.72 1037.3,1470.6 1038.3,1471.48 1039.3,1472.35 1040.3,1473.22 1041.3,1474.07 1042.3,1474.92 1043.3,1475.76 1044.3,1476.59 1045.3,1477.41 1046.3,1478.22 1047.3,1479.03 1048.3,1479.82 1049.3,1480.6 1050.3,1481.37 1051.3,1482.14 1052.3,1482.89 1053.3,1483.63 1054.3,1484.36 1055.3,1485.08 1056.3,1485.79 1057.3,1486.49 1058.3,1487.18 1059.3,1487.86 1060.3,1488.53 1061.3,1489.18 1062.3,1489.83 1063.3,1490.46 1064.3,1491.08 1065.3,1491.7 1066.3,1492.3 1067.3,1492.89 1068.3,1493.47 1069.3,1494.04 1070.3,1494.6 1071.3,1495.15 1072.3,1495.7 1073.3,1496.23 1074.3,1496.75 1075.3,1497.26 1076.3,1497.76 1077.3,1498.25 1078.3,1498.74 1079.3,1499.21 1080.3,1499.68 1081.3,1500.14 1082.3,1500.59 1083.3,1501.03 1084.3,1501.46 1085.3,1501.89 1086.3,1502.31 1087.3,1502.72 1088.3,1503.12 1089.3,1503.52 1090.3,1503.91 1091.3,1504.29 1092.3,1504.67 1093.3,1505.04 1094.3,1505.41 1095.3,1505.77 1096.3,1506.12 1097.3,1506.47 1098.3,1506.81 1099.3,1507.15 1100.3,1507.48 1101.3,1507.81 1102.3,1508.13 1103.3,1508.45 1104.3,1508.77 1105.3,1509.08 1106.3,1509.39 1107.3,1509.69 1108.3,1509.99 1109.3,1510.29 1110.3,1510.58 1111.3,1510.87 1112.3,1511.16 1113.3,1511.44 1114.3,1511.72 1115.3,1512 1116.3,1512.27 1117.3,1512.55 1118.3,1512.82 1119.3,1513.08 1120.3,1513.35 1121.3,1513.61 1122.3,1513.87 1123.3,1514.13 1124.3,1514.38 1125.3,1514.64 1126.3,1514.89 1127.3,1515.14 1128.3,1515.38 1129.3,1515.63 1130.3,1515.87 1131.3,1516.11 1132.3,1516.35 1133.3,1516.59 1134.3,1516.83 1135.3,1517.06 1136.3,1517.29 1137.3,1517.52 1138.3,1517.75 1139.3,1517.98 1140.3,1518.21 1141.3,1518.43 1142.3,1518.65 1143.3,1518.87 1144.3,1519.09 1145.3,1519.31 1146.3,1519.52 1147.3,1519.74 1148.3,1519.95 1149.3,1520.16 1150.3,1520.37 1151.3,1520.58 1152.3,1520.78 1153.3,1520.99 1154.3,1521.19 1155.3,1521.39 1156.3,1521.59 1157.3,1521.79 1158.3,1521.98 1159.3,1522.18 1160.3,1522.37 1161.3,1522.56 1162.3,1522.75 1163.3,1522.94 1164.3,1523.12 1165.3,1523.31 1166.3,1523.49 1167.3,1523.67 1168.3,1523.85 1169.3,1524.03 1170.3,1524.2 1171.3,1524.37 1172.3,1524.55 1173.3,1524.72 1174.3,1524.88 1175.3,1525.05 1176.3,1525.21 1177.3,1525.38 1178.3,1525.54 1179.3,1525.7 1180.3,1525.86 1181.3,1526.01 1182.3,1526.17 1183.3,1526.32 1184.3,1526.47 1185.3,1526.62 1186.3,1526.76 1187.3,1526.91 1188.3,1527.05 1189.3,1527.19 1190.3,1527.33 1191.3,1527.47 1192.3,1527.61 1193.3,1527.74 1194.3,1527.88 1195.3,1528.01 1196.3,1528.14 1197.3,1528.26 1198.3,1528.39 1199.3,1528.51 1200.3,1528.64 1201.3,1528.76 1202.3,1528.88 1203.3,1528.99 1204.3,1529.11 1205.3,1529.23 1206.3,1529.34 1207.3,1529.45 1208.3,1529.56 1209.3,1529.67 1210.3,1529.77 1211.3,1529.88 1212.3,1529.98 1213.3,1530.08 1214.3,1530.18 1215.3,1530.28 1216.3,1530.38 1217.3,1530.47 1218.3,1530.57 1219.3,1530.66 1220.3,1530.75 1221.3,1530.84 1222.3,1530.93 1223.3,1531.02 1224.3,1531.1 1225.3,1531.19 1226.3,1531.27 1227.3,1531.35 1228.3,1531.43 1229.3,1531.51 1230.3,1531.59 1231.3,1531.66 1232.3,1531.74 1233.3,1531.81 1234.3,1531.89 1235.3,1531.96 1236.3,1532.03 1237.3,1532.1 1238.3,1532.16 1239.3,1532.23 1240.3,1532.3 1241.3,1532.36 1242.3,1532.42 1243.3,1532.48 1244.3,1532.55 1245.3,1532.61 1246.3,1532.66 1247.3,1532.72 1248.3,1532.78 1249.3,1532.84 1250.3,1532.89 1251.3,1532.94 1252.3,1533 1253.3,1533.05 1254.3,1533.1 1255.3,1533.15 1256.3,1533.2 1257.3,1533.25 1258.3,1533.3 1259.3,1533.34 1260.3,1533.39 1261.3,1533.43 1262.3,1533.48 1263.3,1533.52 1264.3,1533.56 1265.3,1533.6 1266.3,1533.65 1267.3,1533.69 1268.3,1533.73 1269.3,1533.77 1270.3,1533.8 1271.3,1533.84 1272.3,1533.88 1273.3,1533.91 1274.3,1533.95 1275.3,1533.98 1276.3,1534.02 1277.3,1534.05 1278.3,1534.09 1279.3,1534.12 1280.3,1534.15 1281.3,1534.18 1282.3,1534.21 1283.3,1534.24 1284.3,1534.27 1285.3,1534.3 1286.3,1534.33 1287.3,1534.36 1288.3,1534.39 1289.3,1534.41 1290.3,1534.44 1291.3,1534.47 1292.3,1534.49 1293.3,1534.52 1294.3,1534.54 1295.3,1534.57 1296.3,1534.59 1297.3,1534.62 1298.3,1534.64 1299.3,1534.66 1300.3,1534.69 1301.3,1534.71 1302.3,1534.73 1303.3,1534.75 1304.3,1534.77 1305.3,1534.79 1306.3,1534.81 1307.3,1534.83 1308.3,1534.85 1309.3,1534.87 1310.3,1534.89 1311.3,1534.91 1312.3,1534.93 1313.3,1534.95 1314.3,1534.97 1315.3,1534.99 1316.3,1535 1317.3,1535.02 1318.3,1535.04 1319.3,1535.05 1320.3,1535.07 1321.3,1535.09 1322.3,1535.1 1323.3,1535.12 1324.3,1535.14 1325.3,1535.15 1326.3,1535.17 1327.3,1535.18 1328.3,1535.2 1329.3,1535.21 1330.3,1535.23 1331.3,1535.24 1332.3,1535.25 1333.3,1535.27 1334.3,1535.28 1335.3,1535.3 1336.3,1535.31 1337.3,1535.32 1338.3,1535.34 1339.3,1535.35 1340.3,1535.36 1341.3,1535.37 1342.3,1535.39 1343.3,1535.4 1344.3,1535.41 1345.3,1535.42 1346.3,1535.43 1347.3,1535.45 1348.3,1535.46 1349.3,1535.47 1350.3,1535.48 1351.3,1535.49 1352.3,1535.5 1353.3,1535.52 1354.3,1535.53 1355.3,1535.54 1356.3,1535.55 1357.3,1535.56 1358.3,1535.57 1359.3,1535.58 1360.3,1535.59 1361.3,1535.6 1362.3,1535.61 1363.3,1535.62 1364.3,1535.63 1365.3,1535.64 1366.3,1535.65 1367.3,1535.66 1368.3,1535.67 1369.3,1535.68 1370.3,1535.69 1371.3,1535.7 1372.3,1535.71 1373.3,1535.72 1374.3,1535.72 1375.3,1535.73 1376.3,1535.74 1377.3,1535.75 1378.3,1535.76 1379.3,1535.77 1380.3,1535.78 1381.3,1535.79 1382.3,1535.79 1383.3,1535.8 1384.3,1535.81 1385.3,1535.82 1386.3,1535.83 1387.3,1535.83 1388.3,1535.84 1389.3,1535.85 1390.3,1535.86 1391.3,1535.87 1392.3,1535.87 1393.3,1535.88 1394.3,1535.89 1395.3,1535.9 1396.3,1535.9 1397.3,1535.91 1398.3,1535.92 1399.3,1535.93 1400.3,1535.93 1401.3,1535.94 1402.3,1535.95 1403.3,1535.96 1404.3,1535.96 1405.3,1535.97 1406.3,1535.98 1407.3,1535.98 1408.3,1535.99 1409.3,1536 1410.3,1536 1411.3,1536.01 1412.3,1536.02 1413.3,1536.02 1414.3,1536.03 1415.3,1536.04 1416.3,1536.04 1417.3,1536.05 1418.3,1536.06 1419.3,1536.06 1420.3,1536.07 1421.3,1536.07 1422.3,1536.08 1423.3,1536.09 1424.3,1536.09 1425.3,1536.1 1426.3,1536.1 1427.3,1536.11 1428.3,1536.12 1429.3,1536.12 1430.3,1536.13 1431.3,1536.13 1432.3,1536.14 1433.3,1536.15 1434.3,1536.15 1435.3,1536.16 1436.3,1536.16 1437.3,1536.17 1438.3,1536.17 1439.3,1536.18 1440.3,1536.18 1441.3,1536.19 1442.3,1536.19 1443.3,1536.2 1444.3,1536.2 1445.3,1536.21 1446.3,1536.21 1447.3,1536.22 1448.3,1536.22 1449.3,1536.23 1450.3,1536.23 1451.3,1536.24 1452.3,1536.24 1453.3,1536.25 1454.3,1536.25 1455.3,1536.26 1456.3,1536.26 1457.3,1536.27 1458.3,1536.27" fill="none" stroke="#e0a000" stroke-width="4.1" stroke-linejoin="round"/>
<polyline points="872.3,1509.17 873.3,1508.17 874.3,1507.14 875.3,1506.07 876.3,1504.96 877.3,1503.82 878.3,1502.63 879.3,1501.42 880.3,1500.16 881.3,1498.86 882.3,1497.53 883.3,1496.16 884.3,1494.75 885.3,1493.3 886.3,1491.81 887.3,1490.29 888.3,1488.73 889.3,1487.13 890.3,1485.49 891.3,1483.82 892.3,1482.11 893.3,1480.37 894.3,1478.59 895.3,1476.78 896.3,1474.94 897.3,1473.07 898.3,1471.17 899.3,1469.24 900.3,1467.29 901.3,1465.31 902.3,1463.31 903.3,1461.28 904.3,1459.24 905.3,1457.18 906.3,1455.1 907.3,1453.01 908.3,1450.91 909.3,1448.8 910.3,1446.68 911.3,1444.56 912.3,1442.44 913.3,1440.31 914.3,1438.19 915.3,1436.07 916.3,1433.96 917.3,1431.86 918.3,1429.78 919.3,1427.7 920.3,1425.65 921.3,1423.62 922.3,1421.61 923.3,1419.62 924.3,1417.66 925.3,1415.74 926.3,1413.84 927.3,1411.98 928.3,1410.16 929.3,1408.37 930.3,1406.63 931.3,1404.93 932.3,1403.27 933.3,1401.66 934.3,1400.1 935.3,1398.59 936.3,1397.14 937.3,1395.73 938.3,1394.38 939.3,1393.09 940.3,1391.85 941.3,1390.67 942.3,1389.55 943.3,1388.49 944.3,1387.49 945.3,1386.55 946.3,1385.67 947.3,1384.85 948.3,1384.09 949.3,1383.39 950.3,1382.76 951.3,1382.19 952.3,1381.67 953.3,1381.22 954.3,1380.82 955.3,1380.49 956.3,1380.21 957.3,1379.99 958.3,1379.83 959.3,1379.73 960.3,1379.67 961.3,1379.68 962.3,1379.73 963.3,1379.84 964.3,1380 965.3,1380.2 966.3,1380.46 967.3,1380.76 968.3,1381.1 969.3,1381.49 970.3,1381.92 971.3,1382.4 972.3,1382.91 973.3,1383.46 974.3,1384.05 975.3,1384.67 976.3,1385.33 977.3,1386.02 978.3,1386.74 979.3,1387.49 980.3,1388.28 981.3,1389.09 982.3,1389.92 983.3,1390.78 984.3,1391.67 985.3,1392.58 986.3,1393.51 987.3,1394.46 988.3,1395.43 989.3,1396.42 990.3,1397.43 991.3,1398.45 992.3,1399.49 993.3,1400.55 994.3,1401.62 995.3,1402.7 996.3,1403.8 997.3,1404.91 998.3,1406.03 999.3,1407.16 1000.3,1408.3 1001.3,1409.45 1002.3,1410.61 1003.3,1411.77 1004.3,1412.95 1005.3,1414.13 1006.3,1415.31 1007.3,1416.51 1008.3,1417.7 1009.3,1418.91 1010.3,1420.11 1011.3,1421.32 1012.3,1422.54 1013.3,1423.75 1014.3,1424.97 1015.3,1426.19 1016.3,1427.41 1017.3,1428.63 1018.3,1429.85 1019.3,1431.07 1020.3,1432.29 1021.3,1433.51 1022.3,1434.73 1023.3,1435.94 1024.3,1437.15 1025.3,1438.36 1026.3,1439.56 1027.3,1440.76 1028.3,1441.96 1029.3,1443.14 1030.3,1444.33 1031.3,1445.5 1032.3,1446.68 1033.3,1447.84 1034.3,1448.99 1035.3,1450.14 1036.3,1451.28 1037.3,1452.41 1038.3,1453.53 1039.3,1454.65 1040.3,1455.75 1041.3,1456.84 1042.3,1457.92 1043.3,1458.99 1044.3,1460.05 1045.3,1461.1 1046.3,1462.13 1047.3,1463.15 1048.3,1464.17 1049.3,1465.16 1050.3,1466.15 1051.3,1467.12 1052.3,1468.08 1053.3,1469.03 1054.3,1469.96 1055.3,1470.88 1056.3,1471.78 1057.3,1472.67 1058.3,1473.55 1059.3,1474.42 1060.3,1475.27 1061.3,1476.1 1062.3,1476.93 1063.3,1477.74 1064.3,1478.53 1065.3,1479.31 1066.3,1480.08 1067.3,1480.83 1068.3,1481.58 1069.3,1482.3 1070.3,1483.02 1071.3,1483.72 1072.3,1484.41 1073.3,1485.09 1074.3,1485.75 1075.3,1486.4 1076.3,1487.05 1077.3,1487.67 1078.3,1488.29 1079.3,1488.9 1080.3,1489.49 1081.3,1490.08 1082.3,1490.65 1083.3,1491.21 1084.3,1491.76 1085.3,1492.31 1086.3,1492.84 1087.3,1493.37 1088.3,1493.88 1089.3,1494.39 1090.3,1494.88 1091.3,1495.37 1092.3,1495.85 1093.3,1496.33 1094.3,1496.79 1095.3,1497.25 1096.3,1497.7 1097.3,1498.15 1098.3,1498.59 1099.3,1499.02 1100.3,1499.44 1101.3,1499.86 1102.3,1500.27 1103.3,1500.68 1104.3,1501.08 1105.3,1501.48 1106.3,1501.87 1107.3,1502.26 1108.3,1502.64 1109.3,1503.02 1110.3,1503.39 1111.3,1503.76 1112.3,1504.13 1113.3,1504.49 1114.3,1504.85 1115.3,1505.2 1116.3,1505.55 1117.3,1505.9 1118.3,1506.24 1119.3,1506.58 1120.3,1506.92 1121.3,1507.26 1122.3,1507.59 1123.3,1507.92 1124.3,1508.24 1125.3,1508.56 1126.3,1508.88 1127.3,1509.2 1128.3,1509.52 1129.3,1509.83 1130.3,1510.14 1131.3,1510.45 1132.3,1510.75 1133.3,1511.06 1134.3,1511.36 1135.3,1511.66 1136.3,1511.95 1137.3,1512.25 1138.3,1512.54 1139.3,1512.83 1140.3,1513.12 1141.3,1513.4 1142.3,1513.69 1143.3,1513.97 1144.3,1514.25 1145.3,1514.52 1146.3,1514.8 1147.3,1515.07 1148.3,1515.34 1149.3,1515.61 1150.3,1515.88 1151.3,1516.14 1152.3,1516.41 1153.3,1516.67 1154.3,1516.92 1155.3,1517.18 1156.3,1517.43 1157.3,1517.69 1158.3,1517.94 1159.3,1518.18 1160.3,1518.43 1161.3,1518.67 1162.3,1518.91 1163.3,1519.15 1164.3,1519.39 1165.3,1519.62 1166.3,1519.86 1167.3,1520.09 1168.3,1520.31 1169.3,1520.54 1170.3,1520.76 1171.3,1520.98 1172.3,1521.2 1173.3,1521.42 1174.3,1521.63 1175.3,1521.85 1176.3,1522.06 1177.3,1522.26 1178.3,1522.47 1179.3,1522.67 1180.3,1522.87 1181.3,1523.07 1182.3,1523.27 1183.3,1523.46 1184.3,1523.65 1185.3,1523.84 1186.3,1524.03 1187.3,1524.22 1188.3,1524.4 1189.3,1524.58 1190.3,1524.76 1191.3,1524.93 1192.3,1525.11 1193.3,1525.28 1194.3,1525.45 1195.3,1525.62 1196.3,1525.78 1197.3,1525.94 1198.3,1526.1 1199.3,1526.26 1200.3,1526.42 1201.3,1526.57 1202.3,1526.73 1203.3,1526.88 1204.3,1527.02 1205.3,1527.17 1206.3,1527.31 1207.3,1527.46 1208.3,1527.6 1209.3,1527.73 1210.3,1527.87 1211.3,1528 1212.3,1528.13 1213.3,1528.26 1214.3,1528.39 1215.3,1528.52 1216.3,1528.64 1217.3,1528.76 1218.3,1528.88 1219.3,1529 1220.3,1529.12 1221.3,1529.23 1222.3,1529.34 1223.3,1529.46 1224.3,1529.56 1225.3,1529.67 1226.3,1529.78 1227.3,1529.88 1228.3,1529.98 1229.3,1530.08 1230.3,1530.18 1231.3,1530.28 1232.3,1530.38 1233.3,1530.47 1234.3,1530.56 1235.3,1530.65 1236.3,1530.74 1237.3,1530.83 1238.3,1530.92 1239.3,1531 1240.3,1531.09 1241.3,1531.17 1242.3,1531.25 1243.3,1531.33 1244.3,1531.4 1245.3,1531.48 1246.3,1531.56 1247.3,1531.63 1248.3,1531.7 1249.3,1531.77 1250.3,1531.84 1251.3,1531.91 1252.3,1531.98 1253.3,1532.05 1254.3,1532.11 1255.3,1532.18 1256.3,1532.24 1257.3,1532.3 1258.3,1532.36 1259.3,1532.42 1260.3,1532.48 1261.3,1532.54 1262.3,1532.59 1263.3,1532.65 1264.3,1532.7 1265.3,1532.76 1266.3,1532.81 1267.3,1532.86 1268.3,1532.91 1269.3,1532.96 1270.3,1533.01 1271.3,1533.06 1272.3,1533.1 1273.3,1533.15 1274.3,1533.19 1275.3,1533.24 1276.3,1533.28 1277.3,1533.33 1278.3,1533.37 1279.3,1533.41 1280.3,1533.45 1281.3,1533.49 1282.3,1533.53 1283.3,1533.57 1284.3,1533.61 1285.3,1533.64 1286.3,1533.68 1287.3,1533.72 1288.3,1533.75 1289.3,1533.79 1290.3,1533.82 1291.3,1533.85 1292.3,1533.89 1293.3,1533.92 1294.3,1533.95 1295.3,1533.98 1296.3,1534.01 1297.3,1534.05 1298.3,1534.07 1299.3,1534.1 1300.3,1534.13 1301.3,1534.16 1302.3,1534.19 1303.3,1534.22 1304.3,1534.24 1305.3,1534.27 1306.3,1534.3 1307.3,1534.32 1308.3,1534.35 1309.3,1534.37 1310.3,1534.4 1311.3,1534.42 1312.3,1534.45 1313.3,1534.47 1314.3,1534.49 1315.3,1534.52 1316.3,1534.54 1317.3,1534.56 1318.3,1534.58 1319.3,1534.6 1320.3,1534.63 1321.3,1534.65 1322.3,1534.67 1323.3,1534.69 1324.3,1534.71 1325.3,1534.73 1326.3,1534.75 1327.3,1534.77 1328.3,1534.78 1329.3,1534.8 1330.3,1534.82 1331.3,1534.84 1332.3,1534.86 1333.3,1534.88 1334.3,1534.89 1335.3,1534.91 1336.3,1534.93 1337.3,1534.95 1338.3,1534.96 1339.3,1534.98 1340.3,1534.99 1341.3,1535.01 1342.3,1535.03 1343.3,1535.04 1344.3,1535.06 1345.3,1535.07 1346.3,1535.09 1347.3,1535.1 1348.3,1535.12 1349.3,1535.13 1350.3,1535.15 1351.3,1535.16 1352.3,1535.18 1353.3,1535.19 1354.3,1535.21 1355.3,1535.22 1356.3,1535.23 1357.3,1535.25 1358.3,1535.26 1359.3,1535.27 1360.3,1535.29 1361.3,1535.3 1362.3,1535.31 1363.3,1535.32 1364.3,1535.34 1365.3,1535.35 1366.3,1535.36 1367.3,1535.37 1368.3,1535.39 1369.3,1535.4 1370.3,1535.41 1371.3,1535.42 1372.3,1535.43 1373.3,1535.45 1374.3,1535.46 1375.3,1535.47 1376.3,1535.48 1377.3,1535.49 1378.3,1535.5 1379.3,1535.51 1380.3,1535.52 1381.3,1535.54 1382.3,1535.55 1383.3,1535.56 1384.3,1535.57 1385.3,1535.58 1386.3,1535.59 1387.3,1535.6 1388.3,1535.61 1389.3,1535.62 1390.3,1535.63 1391.3,1535.64 1392.3,1535.65 1393.3,1535.66 1394.3,1535.67 1395.3,1535.68 1396.3,1535.69 1397.3,1535.7 1398.3,1535.71 1399.3,1535.72 1400.3,1535.73 1401.3,1535.74 1402.3,1535.74 1403.3,1535.75 1404.3,1535.76 1405.3,1535.77 1406.3,1535.78 1407.3,1535.79 1408.3,1535.8 1409.3,1535.81 1410.3,1535.81 1411.3,1535.82 1412.3,1535.83 1413.3,1535.84 1414.3,1535.85 1415.3,1535.86 1416.3,1535.87 1417.3,1535.87 1418.3,1535.88 1419.3,1535.89 1420.3,1535.9 1421.3,1535.91 1422.3,1535.91 1423.3,1535.92 1424.3,1535.93 1425.3,1535.94 1426.3,1535.94 1427.3,1535.95 1428.3,1535.96 1429.3,1535.97 1430.3,1535.97 1431.3,1535.98 1432.3,1535.99 1433.3,1535.99 1434.3,1536 1435.3,1536.01 1436.3,1536.02 1437.3,1536.02 1438.3,1536.03 1439.3,1536.04 1440.3,1536.04 1441.3,1536.05 1442.3,1536.06 1443.3,1536.06 1444.3,1536.07 1445.3,1536.08 1446.3,1536.08 1447.3,1536.09 1448.3,1536.1 1449.3,1536.1 1450.3,1536.11 1451.3,1536.11 1452.3,1536.12 1453.3,1536.13 1454.3,1536.13 1455.3,1536.14 1456.3,1536.14 1457.3,1536.15 1458.3,1536.16" fill="none" stroke="#00cccc" stroke-width="4.1" stroke-linejoin="round"/>
<polyline points="872.3,1502.31 873.3,1501.06 874.3,1499.76 875.3,1498.43 876.3,1497.04 877.3,1495.61 878.3,1494.14 879.3,1492.61 880.3,1491.04 881.3,1489.42 882.3,1487.76 883.3,1486.04 884.3,1484.28 885.3,1482.47 886.3,1480.61 887.3,1478.71 888.3,1476.76 889.3,1474.76 890.3,1472.71 891.3,1470.63 892.3,1468.49 893.3,1466.31 894.3,1464.1 895.3,1461.84 896.3,1459.54 897.3,1457.2 898.3,1454.82 899.3,1452.41 900.3,1449.97 901.3,1447.5 902.3,1445 903.3,1442.47 904.3,1439.92 905.3,1437.34 906.3,1434.75 907.3,1432.14 908.3,1429.51 909.3,1426.87 910.3,1424.23 911.3,1421.57 912.3,1418.92 913.3,1416.26 914.3,1413.61 915.3,1410.97 916.3,1408.33 917.3,1405.71 918.3,1403.1 919.3,1400.51 920.3,1397.95 921.3,1395.4 922.3,1392.89 923.3,1390.41 924.3,1387.96 925.3,1385.56 926.3,1383.19 927.3,1380.86 928.3,1378.58 929.3,1376.35 930.3,1374.17 931.3,1372.05 932.3,1369.98 933.3,1367.97 934.3,1366.02 935.3,1364.14 936.3,1362.32 937.3,1360.56 938.3,1358.88 939.3,1357.26 940.3,1355.71 941.3,1354.24 942.3,1352.84 943.3,1351.51 944.3,1350.26 945.3,1349.09 946.3,1347.99 947.3,1346.96 948.3,1346.02 949.3,1345.15 950.3,1344.35 951.3,1343.63 952.3,1342.99 953.3,1342.43 954.3,1341.93 955.3,1341.52 956.3,1341.17 957.3,1340.9 958.3,1340.69 959.3,1340.56 960.3,1340.5 961.3,1340.5 962.3,1340.57 963.3,1340.7 964.3,1340.9 965.3,1341.16 966.3,1341.47 967.3,1341.85 968.3,1342.28 969.3,1342.77 970.3,1343.31 971.3,1343.9 972.3,1344.54 973.3,1345.23 974.3,1345.96 975.3,1346.74 976.3,1347.56 977.3,1348.43 978.3,1349.33 979.3,1350.27 980.3,1351.25 981.3,1352.26 982.3,1353.3 983.3,1354.38 984.3,1355.48 985.3,1356.62 986.3,1357.78 987.3,1358.97 988.3,1360.18 989.3,1361.42 990.3,1362.68 991.3,1363.96 992.3,1365.26 993.3,1366.58 994.3,1367.92 995.3,1369.27 996.3,1370.64 997.3,1372.03 998.3,1373.42 999.3,1374.84 1000.3,1376.26 1001.3,1377.7 1002.3,1379.15 1003.3,1380.6 1004.3,1382.07 1005.3,1383.55 1006.3,1385.03 1007.3,1386.52 1008.3,1388.02 1009.3,1389.52 1010.3,1391.03 1011.3,1392.54 1012.3,1394.05 1013.3,1395.57 1014.3,1397.1 1015.3,1398.62 1016.3,1400.14 1017.3,1401.67 1018.3,1403.19 1019.3,1404.72 1020.3,1406.24 1021.3,1407.77 1022.3,1409.28 1023.3,1410.8 1024.3,1412.31 1025.3,1413.82 1026.3,1415.33 1027.3,1416.83 1028.3,1418.32 1029.3,1419.8 1030.3,1421.28 1031.3,1422.75 1032.3,1424.22 1033.3,1425.67 1034.3,1427.11 1035.3,1428.55 1036.3,1429.97 1037.3,1431.38 1038.3,1432.79 1039.3,1434.17 1040.3,1435.55 1041.3,1436.92 1042.3,1438.27 1043.3,1439.6 1044.3,1440.93 1045.3,1442.23 1046.3,1443.53 1047.3,1444.81 1048.3,1446.07 1049.3,1447.32 1050.3,1448.55 1051.3,1449.76 1052.3,1450.96 1053.3,1452.14 1054.3,1453.31 1055.3,1454.46 1056.3,1455.59 1057.3,1456.7 1058.3,1457.8 1059.3,1458.88 1060.3,1459.94 1061.3,1460.99 1062.3,1462.01 1063.3,1463.03 1064.3,1464.02 1065.3,1465 1066.3,1465.96 1067.3,1466.9 1068.3,1467.82 1069.3,1468.73 1070.3,1469.63 1071.3,1470.51 1072.3,1471.37 1073.3,1472.21 1074.3,1473.04 1075.3,1473.86 1076.3,1474.66 1077.3,1475.44 1078.3,1476.22 1079.3,1476.97 1080.3,1477.72 1081.3,1478.44 1082.3,1479.16 1083.3,1479.86 1084.3,1480.56 1085.3,1481.23 1086.3,1481.9 1087.3,1482.56 1088.3,1483.2 1089.3,1483.83 1090.3,1484.45 1091.3,1485.06 1092.3,1485.67 1093.3,1486.26 1094.3,1486.84 1095.3,1487.41 1096.3,1487.98 1097.3,1488.53 1098.3,1489.08 1099.3,1489.62 1100.3,1490.15 1101.3,1490.67 1102.3,1491.19 1103.3,1491.7 1104.3,1492.2 1105.3,1492.7 1106.3,1493.19 1107.3,1493.67 1108.3,1494.15 1109.3,1494.62 1110.3,1495.09 1111.3,1495.55 1112.3,1496.01 1113.3,1496.46 1114.3,1496.9 1115.3,1497.35 1116.3,1497.78 1117.3,1498.22 1118.3,1498.65 1119.3,1499.07 1120.3,1499.49 1121.3,1499.91 1122.3,1500.33 1123.3,1500.74 1124.3,1501.14 1125.3,1501.55 1126.3,1501.95 1127.3,1502.34 1128.3,1502.74 1129.3,1503.13 1130.3,1503.52 1131.3,1503.9 1132.3,1504.28 1133.3,1504.66 1134.3,1505.04 1135.3,1505.41 1136.3,1505.78 1137.3,1506.15 1138.3,1506.51 1139.3,1506.88 1140.3,1507.24 1141.3,1507.59 1142.3,1507.95 1143.3,1508.3 1144.3,1508.65 1145.3,1508.99 1146.3,1509.34 1147.3,1509.68 1148.3,1510.02 1149.3,1510.35 1150.3,1510.69 1151.3,1511.02 1152.3,1511.34 1153.3,1511.67 1154.3,1511.99 1155.3,1512.31 1156.3,1512.63 1157.3,1512.94 1158.3,1513.26 1159.3,1513.57 1160.3,1513.87 1161.3,1514.18 1162.3,1514.48 1163.3,1514.78 1164.3,1515.07 1165.3,1515.36 1166.3,1515.65 1167.3,1515.94 1168.3,1516.23 1169.3,1516.51 1170.3,1516.79 1171.3,1517.06 1172.3,1517.34 1173.3,1517.61 1174.3,1517.88 1175.3,1518.14 1176.3,1518.4 1177.3,1518.66 1178.3,1518.92 1179.3,1519.17 1180.3,1519.42 1181.3,1519.67 1182.3,1519.92 1183.3,1520.16 1184.3,1520.4 1185.3,1520.64 1186.3,1520.87 1187.3,1521.1 1188.3,1521.33 1189.3,1521.56 1190.3,1521.78 1191.3,1522 1192.3,1522.22 1193.3,1522.43 1194.3,1522.64 1195.3,1522.85 1196.3,1523.06 1197.3,1523.26 1198.3,1523.46 1199.3,1523.66 1200.3,1523.86 1201.3,1524.05 1202.3,1524.24 1203.3,1524.43 1204.3,1524.61 1205.3,1524.79 1206.3,1524.97 1207.3,1525.15 1208.3,1525.33 1209.3,1525.5 1210.3,1525.67 1211.3,1525.83 1212.3,1526 1213.3,1526.16 1214.3,1526.32 1215.3,1526.48 1216.3,1526.63 1217.3,1526.78 1218.3,1526.93 1219.3,1527.08 1220.3,1527.23 1221.3,1527.37 1222.3,1527.51 1223.3,1527.65 1224.3,1527.79 1225.3,1527.92 1226.3,1528.05 1227.3,1528.18 1228.3,1528.31 1229.3,1528.44 1230.3,1528.56 1231.3,1528.68 1232.3,1528.8 1233.3,1528.92 1234.3,1529.03 1235.3,1529.15 1236.3,1529.26 1237.3,1529.37 1238.3,1529.48 1239.3,1529.58 1240.3,1529.69 1241.3,1529.79 1242.3,1529.89 1243.3,1529.99 1244.3,1530.09 1245.3,1530.18 1246.3,1530.28 1247.3,1530.37 1248.3,1530.46 1249.3,1530.55 1250.3,1530.63 1251.3,1530.72 1252.3,1530.8 1253.3,1530.89 1254.3,1530.97 1255.3,1531.05 1256.3,1531.13 1257.3,1531.2 1258.3,1531.28 1259.3,1531.35 1260.3,1531.43 1261.3,1531.5 1262.3,1531.57 1263.3,1531.64 1264.3,1531.71 1265.3,1531.77 1266.3,1531.84 1267.3,1531.9 1268.3,1531.97 1269.3,1532.03 1270.3,1532.09 1271.3,1532.15 1272.3,1532.21 1273.3,1532.27 1274.3,1532.32 1275.3,1532.38 1276.3,1532.43 1277.3,1532.49 1278.3,1532.54 1279.3,1532.59 1280.3,1532.64 1281.3,1532.69 1282.3,1532.74 1283.3,1532.79 1284.3,1532.84 1285.3,1532.88 1286.3,1532.93 1287.3,1532.97 1288.3,1533.02 1289.3,1533.06 1290.3,1533.11 1291.3,1533.15 1292.3,1533.19 1293.3,1533.23 1294.3,1533.27 1295.3,1533.31 1296.3,1533.35 1297.3,1533.38 1298.3,1533.42 1299.3,1533.46 1300.3,1533.49 1301.3,1533.53 1302.3,1533.57 1303.3,1533.6 1304.3,1533.63 1305.3,1533.67 1306.3,1533.7 1307.3,1533.73 1308.3,1533.76 1309.3,1533.8 1310.3,1533.83 1311.3,1533.86 1312.3,1533.89 1313.3,1533.92 1314.3,1533.94 1315.3,1533.97 1316.3,1534 1317.3,1534.03 1318.3,1534.06 1319.3,1534.08 1320.3,1534.11 1321.3,1534.14 1322.3,1534.16 1323.3,1534.19 1324.3,1534.21 1325.3,1534.24 1326.3,1534.26 1327.3,1534.29 1328.3,1534.31 1329.3,1534.33 1330.3,1534.36 1331.3,1534.38 1332.3,1534.4 1333.3,1534.42 1334.3,1534.45 1335.3,1534.47 1336.3,1534.49 1337.3,1534.51 1338.3,1534.53 1339.3,1534.55 1340.3,1534.57 1341.3,1534.59 1342.3,1534.61 1343.3,1534.63 1344.3,1534.65 1345.3,1534.67 1346.3,1534.69 1347.3,1534.71 1348.3,1534.73 1349.3,1534.75 1350.3,1534.76 1351.3,1534.78 1352.3,1534.8 1353.3,1534.82 1354.3,1534.83 1355.3,1534.85 1356.3,1534.87 1357.3,1534.89 1358.3,1534.9 1359.3,1534.92 1360.3,1534.94 1361.3,1534.95 1362.3,1534.97 1363.3,1534.98 1364.3,1535 1365.3,1535.02 1366.3,1535.03 1367.3,1535.05 1368.3,1535.06 1369.3,1535.08 1370.3,1535.09 1371.3,1535.11 1372.3,1535.12 1373.3,1535.14 1374.3,1535.15 1375.3,1535.16 1376.3,1535.18 1377.3,1535.19 1378.3,1535.21 1379.3,1535.22 1380.3,1535.23 1381.3,1535.25 1382.3,1535.26 1383.3,1535.27 1384.3,1535.29 1385.3,1535.3 1386.3,1535.31 1387.3,1535.33 1388.3,1535.34 1389.3,1535.35 1390.3,1535.36 1391.3,1535.38 1392.3,1535.39 1393.3,1535.4 1394.3,1535.41 1395.3,1535.43 1396.3,1535.44 1397.3,1535.45 1398.3,1535.46 1399.3,1535.47 1400.3,1535.48 1401.3,1535.5 1402.3,1535.51 1403.3,1535.52 1404.3,1535.53 1405.3,1535.54 1406.3,1535.55 1407.3,1535.56 1408.3,1535.57 1409.3,1535.59 1410.3,1535.6 1411.3,1535.61 1412.3,1535.62 1413.3,1535.63 1414.3,1535.64 1415.3,1535.65 1416.3,1535.66 1417.3,1535.67 1418.3,1535.68 1419.3,1535.69 1420.3,1535.7 1421.3,1535.71 1422.3,1535.72 1423.3,1535.73 1424.3,1535.74 1425.3,1535.75 1426.3,1535.76 1427.3,1535.77 1428.3,1535.78 1429.3,1535.78 1430.3,1535.79 1431.3,1535.8 1432.3,1535.81 1433.3,1535.82 1434.3,1535.83 1435.3,1535.84 1436.3,1535.85 1437.3,1535.86 1438.3,1535.86 1439.3,1535.87 1440.3,1535.88 1441.3,1535.89 1442.3,1535.9 1443.3,1535.91 1444.3,1535.91 1445.3,1535.92 1446.3,1535.93 1447.3,1535.94 1448.3,1535.95 1449.3,1535.95 1450.3,1535.96 1451.3,1535.97 1452.3,1535.98 1453.3,1535.99 1454.3,1535.99 1455.3,1536 1456.3,1536.01 1457.3,1536.02 1458.3,1536.02" fill="none" stroke="#864646" stroke-width="4.1" stroke-linejoin="round"/>
<polyline points="872.3,1492.01 873.3,1490.38 874.3,1488.7 875.3,1486.97 876.3,1485.17 877.3,1483.31 878.3,1481.39 879.3,1479.41 880.3,1477.37 881.3,1475.27 882.3,1473.1 883.3,1470.87 884.3,1468.58 885.3,1466.23 886.3,1463.82 887.3,1461.34 888.3,1458.81 889.3,1456.21 890.3,1453.55 891.3,1450.84 892.3,1448.06 893.3,1445.23 894.3,1442.35 895.3,1439.41 896.3,1436.43 897.3,1433.39 898.3,1430.3 899.3,1427.17 900.3,1424 901.3,1420.79 902.3,1417.53 903.3,1414.25 904.3,1410.93 905.3,1407.58 906.3,1404.21 907.3,1400.82 908.3,1397.41 909.3,1393.98 910.3,1390.54 911.3,1387.09 912.3,1383.64 913.3,1380.19 914.3,1376.75 915.3,1373.31 916.3,1369.88 917.3,1366.47 918.3,1363.09 919.3,1359.72 920.3,1356.39 921.3,1353.09 922.3,1349.82 923.3,1346.6 924.3,1343.42 925.3,1340.29 926.3,1337.21 927.3,1334.19 928.3,1331.23 929.3,1328.33 930.3,1325.5 931.3,1322.74 932.3,1320.05 933.3,1317.44 934.3,1314.9 935.3,1312.45 936.3,1310.09 937.3,1307.81 938.3,1305.61 939.3,1303.51 940.3,1301.51 941.3,1299.59 942.3,1297.77 943.3,1296.05 944.3,1294.42 945.3,1292.89 946.3,1291.47 947.3,1290.14 948.3,1288.91 949.3,1287.77 950.3,1286.74 951.3,1285.81 952.3,1284.98 953.3,1284.24 954.3,1283.6 955.3,1283.06 956.3,1282.61 957.3,1282.25 958.3,1281.99 959.3,1281.82 960.3,1281.73 961.3,1281.74 962.3,1281.83 963.3,1282 964.3,1282.25 965.3,1282.59 966.3,1283 967.3,1283.49 968.3,1284.05 969.3,1284.68 970.3,1285.38 971.3,1286.15 972.3,1286.98 973.3,1287.88 974.3,1288.83 975.3,1289.85 976.3,1290.92 977.3,1292.04 978.3,1293.21 979.3,1294.43 980.3,1295.7 981.3,1297.01 982.3,1298.37 983.3,1299.77 984.3,1301.21 985.3,1302.68 986.3,1304.19 987.3,1305.74 988.3,1307.31 989.3,1308.92 990.3,1310.56 991.3,1312.22 992.3,1313.91 993.3,1315.62 994.3,1317.36 995.3,1319.12 996.3,1320.9 997.3,1322.7 998.3,1324.52 999.3,1326.36 1000.3,1328.21 1001.3,1330.08 1002.3,1331.96 1003.3,1333.85 1004.3,1335.76 1005.3,1337.68 1006.3,1339.6 1007.3,1341.54 1008.3,1343.48 1009.3,1345.44 1010.3,1347.4 1011.3,1349.36 1012.3,1351.33 1013.3,1353.31 1014.3,1355.28 1015.3,1357.26 1016.3,1359.24 1017.3,1361.23 1018.3,1363.21 1019.3,1365.19 1020.3,1367.17 1021.3,1369.15 1022.3,1371.12 1023.3,1373.09 1024.3,1375.06 1025.3,1377.02 1026.3,1378.98 1027.3,1380.92 1028.3,1382.86 1029.3,1384.79 1030.3,1386.71 1031.3,1388.63 1032.3,1390.53 1033.3,1392.42 1034.3,1394.29 1035.3,1396.16 1036.3,1398.01 1037.3,1399.84 1038.3,1401.66 1039.3,1403.47 1040.3,1405.26 1041.3,1407.03 1042.3,1408.79 1043.3,1410.52 1044.3,1412.24 1045.3,1413.94 1046.3,1415.62 1047.3,1417.28 1048.3,1418.93 1049.3,1420.55 1050.3,1422.15 1051.3,1423.73 1052.3,1425.28 1053.3,1426.82 1054.3,1428.33 1055.3,1429.83 1056.3,1431.3 1057.3,1432.74 1058.3,1434.17 1059.3,1435.57 1060.3,1436.95 1061.3,1438.31 1062.3,1439.65 1063.3,1440.96 1064.3,1442.25 1065.3,1443.52 1066.3,1444.77 1067.3,1445.99 1068.3,1447.2 1069.3,1448.38 1070.3,1449.54 1071.3,1450.68 1072.3,1451.8 1073.3,1452.9 1074.3,1453.98 1075.3,1455.04 1076.3,1456.08 1077.3,1457.1 1078.3,1458.1 1079.3,1459.08 1080.3,1460.05 1081.3,1461 1082.3,1461.93 1083.3,1462.84 1084.3,1463.74 1085.3,1464.62 1086.3,1465.49 1087.3,1466.34 1088.3,1467.18 1089.3,1468 1090.3,1468.81 1091.3,1469.6 1092.3,1470.38 1093.3,1471.15 1094.3,1471.91 1095.3,1472.65 1096.3,1473.38 1097.3,1474.11 1098.3,1474.82 1099.3,1475.52 1100.3,1476.21 1101.3,1476.89 1102.3,1477.56 1103.3,1478.22 1104.3,1478.87 1105.3,1479.52 1106.3,1480.16 1107.3,1480.78 1108.3,1481.41 1109.3,1482.02 1110.3,1482.63 1111.3,1483.23 1112.3,1483.82 1113.3,1484.41 1114.3,1484.99 1115.3,1485.56 1116.3,1486.13 1117.3,1486.69 1118.3,1487.25 1119.3,1487.8 1120.3,1488.35 1121.3,1488.89 1122.3,1489.43 1123.3,1489.97 1124.3,1490.5 1125.3,1491.02 1126.3,1491.54 1127.3,1492.06 1128.3,1492.57 1129.3,1493.08 1130.3,1493.58 1131.3,1494.08 1132.3,1494.58 1133.3,1495.07 1134.3,1495.56 1135.3,1496.04 1136.3,1496.52 1137.3,1497 1138.3,1497.48 1139.3,1497.95 1140.3,1498.41 1141.3,1498.88 1142.3,1499.34 1143.3,1499.79 1144.3,1500.25 1145.3,1500.7 1146.3,1501.14 1147.3,1501.59 1148.3,1502.03 1149.3,1502.46 1150.3,1502.9 1151.3,1503.33 1152.3,1503.75 1153.3,1504.18 1154.3,1504.59 1155.3,1505.01 1156.3,1505.42 1157.3,1505.83 1158.3,1506.24 1159.3,1506.64 1160.3,1507.04 1161.3,1507.43 1162.3,1507.82 1163.3,1508.21 1164.3,1508.6 1165.3,1508.98 1166.3,1509.35 1167.3,1509.73 1168.3,1510.1 1169.3,1510.46 1170.3,1510.83 1171.3,1511.19 1172.3,1511.54 1173.3,1511.89 1174.3,1512.24 1175.3,1512.59 1176.3,1512.93 1177.3,1513.26 1178.3,1513.6 1179.3,1513.93 1180.3,1514.25 1181.3,1514.58 1182.3,1514.89 1183.3,1515.21 1184.3,1515.52 1185.3,1515.83 1186.3,1516.13 1187.3,1516.43 1188.3,1516.73 1189.3,1517.02 1190.3,1517.31 1191.3,1517.6 1192.3,1517.88 1193.3,1518.16 1194.3,1518.44 1195.3,1518.71 1196.3,1518.98 1197.3,1519.24 1198.3,1519.5 1199.3,1519.76 1200.3,1520.01 1201.3,1520.26 1202.3,1520.51 1203.3,1520.75 1204.3,1520.99 1205.3,1521.23 1206.3,1521.46 1207.3,1521.69 1208.3,1521.92 1209.3,1522.15 1210.3,1522.37 1211.3,1522.58 1212.3,1522.8 1213.3,1523.01 1214.3,1523.21 1215.3,1523.42 1216.3,1523.62 1217.3,1523.82 1218.3,1524.01 1219.3,1524.2 1220.3,1524.39 1221.3,1524.58 1222.3,1524.76 1223.3,1524.94 1224.3,1525.12 1225.3,1525.29 1226.3,1525.47 1227.3,1525.63 1228.3,1525.8 1229.3,1525.96 1230.3,1526.12 1231.3,1526.28 1232.3,1526.44 1233.3,1526.59 1234.3,1526.74 1235.3,1526.89 1236.3,1527.03 1237.3,1527.17 1238.3,1527.32 1239.3,1527.45 1240.3,1527.59 1241.3,1527.72 1242.3,1527.85 1243.3,1527.98 1244.3,1528.11 1245.3,1528.23 1246.3,1528.35 1247.3,1528.47 1248.3,1528.59 1249.3,1528.71 1250.3,1528.82 1251.3,1528.93 1252.3,1529.04 1253.3,1529.15 1254.3,1529.25 1255.3,1529.36 1256.3,1529.46 1257.3,1529.56 1258.3,1529.66 1259.3,1529.76 1260.3,1529.85 1261.3,1529.94 1262.3,1530.04 1263.3,1530.13 1264.3,1530.21 1265.3,1530.3 1266.3,1530.39 1267.3,1530.47 1268.3,1530.55 1269.3,1530.63 1270.3,1530.71 1271.3,1530.79 1272.3,1530.87 1273.3,1530.94 1274.3,1531.01 1275.3,1531.09 1276.3,1531.16 1277.3,1531.23 1278.3,1531.3 1279.3,1531.36 1280.3,1531.43 1281.3,1531.49 1282.3,1531.56 1283.3,1531.62 1284.3,1531.68 1285.3,1531.74 1286.3,1531.8 1287.3,1531.86 1288.3,1531.92 1289.3,1531.98 1290.3,1532.03 1291.3,1532.09 1292.3,1532.14 1293.3,1532.19 1294.3,1532.24 1295.3,1532.29 1296.3,1532.34 1297.3,1532.39 1298.3,1532.44 1299.3,1532.49 1300.3,1532.54 1301.3,1532.58 1302.3,1532.63 1303.3,1532.67 1304.3,1532.72 1305.3,1532.76 1306.3,1532.8 1307.3,1532.85 1308.3,1532.89 1309.3,1532.93 1310.3,1532.97 1311.3,1533.01 1312.3,1533.05 1313.3,1533.08 1314.3,1533.12 1315.3,1533.16 1316.3,1533.2 1317.3,1533.23 1318.3,1533.27 1319.3,1533.3 1320.3,1533.34 1321.3,1533.37 1322.3,1533.4 1323.3,1533.44 1324.3,1533.47 1325.3,1533.5 1326.3,1533.53 1327.3,1533.56 1328.3,1533.6 1329.3,1533.63 1330.3,1533.66 1331.3,1533.69 1332.3,1533.71 1333.3,1533.74 1334.3,1533.77 1335.3,1533.8 1336.3,1533.83 1337.3,1533.86 1338.3,1533.88 1339.3,1533.91 1340.3,1533.94 1341.3,1533.96 1342.3,1533.99 1343.3,1534.01 1344.3,1534.04 1345.3,1534.06 1346.3,1534.09 1347.3,1534.11 1348.3,1534.14 1349.3,1534.16 1350.3,1534.19 1351.3,1534.21 1352.3,1534.23 1353.3,1534.26 1354.3,1534.28 1355.3,1534.3 1356.3,1534.32 1357.3,1534.34 1358.3,1534.37 1359.3,1534.39 1360.3,1534.41 1361.3,1534.43 1362.3,1534.45 1363.3,1534.47 1364.3,1534.49 1365.3,1534.51 1366.3,1534.53 1367.3,1534.55 1368.3,1534.57 1369.3,1534.59 1370.3,1534.61 1371.3,1534.63 1372.3,1534.65 1373.3,1534.67 1374.3,1534.69 1375.3,1534.71 1376.3,1534.73 1377.3,1534.74 1378.3,1534.76 1379.3,1534.78 1380.3,1534.8 1381.3,1534.81 1382.3,1534.83 1383.3,1534.85 1384.3,1534.87 1385.3,1534.88 1386.3,1534.9 1387.3,1534.92 1388.3,1534.93 1389.3,1534.95 1390.3,1534.97 1391.3,1534.98 1392.3,1535 1393.3,1535.02 1394.3,1535.03 1395.3,1535.05 1396.3,1535.06 1397.3,1535.08 1398.3,1535.09 1399.3,1535.11 1400.3,1535.12 1401.3,1535.14 1402.3,1535.15 1403.3,1535.17 1404.3,1535.18 1405.3,1535.2 1406.3,1535.21 1407.3,1535.23 1408.3,1535.24 1409.3,1535.25 1410.3,1535.27 1411.3,1535.28 1412.3,1535.3 1413.3,1535.31 1414.3,1535.32 1415.3,1535.34 1416.3,1535.35 1417.3,1535.36 1418.3,1535.38 1419.3,1535.39 1420.3,1535.4 1421.3,1535.41 1422.3,1535.43 1423.3,1535.44 1424.3,1535.45 1425.3,1535.46 1426.3,1535.48 1427.3,1535.49 1428.3,1535.5 1429.3,1535.51 1430.3,1535.52 1431.3,1535.54 1432.3,1535.55 1433.3,1535.56 1434.3,1535.57 1435.3,1535.58 1436.3,1535.59 1437.3,1535.61 1438.3,1535.62 1439.3,1535.63 1440.3,1535.64 1441.3,1535.65 1442.3,1535.66 1443.3,1535.67 1444.3,1535.68 1445.3,1535.69 1446.3,1535.7 1447.3,1535.71 1448.3,1535.72 1449.3,1535.73 1450.3,1535.74 1451.3,1535.75 1452.3,1535.76 1453.3,1535.77 1454.3,1535.78 1455.3,1535.79 1456.3,1535.8 1457.3,1535.81 1458.3,1535.82" fill="none" stroke="#8c8c00" stroke-width="4.1" stroke-linejoin="round"/>
<polyline points="872.3,1476.15 873.3,1473.95 874.3,1471.67 875.3,1469.32 876.3,1466.88 877.3,1464.36 878.3,1461.77 879.3,1459.08 880.3,1456.32 881.3,1453.47 882.3,1450.53 883.3,1447.52 884.3,1444.41 885.3,1441.23 886.3,1437.96 887.3,1434.6 888.3,1431.17 889.3,1427.65 890.3,1424.05 891.3,1420.37 892.3,1416.61 893.3,1412.78 894.3,1408.87 895.3,1404.89 896.3,1400.84 897.3,1396.73 898.3,1392.55 899.3,1388.31 900.3,1384.01 901.3,1379.65 902.3,1375.25 903.3,1370.8 904.3,1366.3 905.3,1361.77 906.3,1357.2 907.3,1352.6 908.3,1347.98 909.3,1343.33 910.3,1338.67 911.3,1334 912.3,1329.33 913.3,1324.65 914.3,1319.99 915.3,1315.33 916.3,1310.69 917.3,1306.07 918.3,1301.48 919.3,1296.92 920.3,1292.4 921.3,1287.93 922.3,1283.5 923.3,1279.14 924.3,1274.83 925.3,1270.59 926.3,1266.42 927.3,1262.32 928.3,1258.31 929.3,1254.38 930.3,1250.55 931.3,1246.81 932.3,1243.17 933.3,1239.63 934.3,1236.2 935.3,1232.88 936.3,1229.67 937.3,1226.58 938.3,1223.61 939.3,1220.76 940.3,1218.04 941.3,1215.45 942.3,1212.98 943.3,1210.65 944.3,1208.45 945.3,1206.38 946.3,1204.44 947.3,1202.64 948.3,1200.97 949.3,1199.44 950.3,1198.04 951.3,1196.78 952.3,1195.65 953.3,1194.65 954.3,1193.78 955.3,1193.05 956.3,1192.44 957.3,1191.96 958.3,1191.6 959.3,1191.37 960.3,1191.25 961.3,1191.26 962.3,1191.38 963.3,1191.61 964.3,1191.96 965.3,1192.41 966.3,1192.97 967.3,1193.63 968.3,1194.39 969.3,1195.25 970.3,1196.2 971.3,1197.24 972.3,1198.37 973.3,1199.58 974.3,1200.88 975.3,1202.25 976.3,1203.69 977.3,1205.21 978.3,1206.8 979.3,1208.46 980.3,1210.18 981.3,1211.96 982.3,1213.8 983.3,1215.69 984.3,1217.64 985.3,1219.64 986.3,1221.68 987.3,1223.78 988.3,1225.91 989.3,1228.09 990.3,1230.31 991.3,1232.56 992.3,1234.85 993.3,1237.17 994.3,1239.53 995.3,1241.91 996.3,1244.32 997.3,1246.76 998.3,1249.23 999.3,1251.71 1000.3,1254.22 1001.3,1256.75 1002.3,1259.3 1003.3,1261.87 1004.3,1264.45 1005.3,1267.05 1006.3,1269.66 1007.3,1272.28 1008.3,1274.92 1009.3,1277.56 1010.3,1280.22 1011.3,1282.88 1012.3,1285.55 1013.3,1288.23 1014.3,1290.9 1015.3,1293.59 1016.3,1296.27 1017.3,1298.96 1018.3,1301.64 1019.3,1304.33 1020.3,1307.01 1021.3,1309.69 1022.3,1312.37 1023.3,1315.04 1024.3,1317.7 1025.3,1320.36 1026.3,1323.01 1027.3,1325.64 1028.3,1328.27 1029.3,1330.89 1030.3,1333.49 1031.3,1336.08 1032.3,1338.66 1033.3,1341.21 1034.3,1343.76 1035.3,1346.28 1036.3,1348.79 1037.3,1351.28 1038.3,1353.74 1039.3,1356.19 1040.3,1358.61 1041.3,1361.02 1042.3,1363.39 1043.3,1365.75 1044.3,1368.08 1045.3,1370.38 1046.3,1372.66 1047.3,1374.91 1048.3,1377.13 1049.3,1379.33 1050.3,1381.5 1051.3,1383.64 1052.3,1385.75 1053.3,1387.83 1054.3,1389.88 1055.3,1391.9 1056.3,1393.89 1057.3,1395.85 1058.3,1397.79 1059.3,1399.69 1060.3,1401.56 1061.3,1403.4 1062.3,1405.21 1063.3,1406.99 1064.3,1408.74 1065.3,1410.46 1066.3,1412.15 1067.3,1413.81 1068.3,1415.44 1069.3,1417.04 1070.3,1418.61 1071.3,1420.16 1072.3,1421.67 1073.3,1423.16 1074.3,1424.63 1075.3,1426.06 1076.3,1427.47 1077.3,1428.85 1078.3,1430.21 1079.3,1431.54 1080.3,1432.85 1081.3,1434.14 1082.3,1435.4 1083.3,1436.64 1084.3,1437.85 1085.3,1439.05 1086.3,1440.22 1087.3,1441.37 1088.3,1442.51 1089.3,1443.62 1090.3,1444.72 1091.3,1445.79 1092.3,1446.85 1093.3,1447.89 1094.3,1448.92 1095.3,1449.93 1096.3,1450.92 1097.3,1451.9 1098.3,1452.86 1099.3,1453.81 1100.3,1454.74 1101.3,1455.66 1102.3,1456.57 1103.3,1457.47 1104.3,1458.36 1105.3,1459.23 1106.3,1460.09 1107.3,1460.94 1108.3,1461.79 1109.3,1462.62 1110.3,1463.44 1111.3,1464.25 1112.3,1465.06 1113.3,1465.85 1114.3,1466.64 1115.3,1467.42 1116.3,1468.19 1117.3,1468.95 1118.3,1469.71 1119.3,1470.46 1120.3,1471.2 1121.3,1471.93 1122.3,1472.66 1123.3,1473.38 1124.3,1474.1 1125.3,1474.81 1126.3,1475.52 1127.3,1476.22 1128.3,1476.91 1129.3,1477.6 1130.3,1478.28 1131.3,1478.96 1132.3,1479.63 1133.3,1480.3 1134.3,1480.96 1135.3,1481.62 1136.3,1482.27 1137.3,1482.92 1138.3,1483.56 1139.3,1484.2 1140.3,1484.83 1141.3,1485.46 1142.3,1486.08 1143.3,1486.7 1144.3,1487.31 1145.3,1487.92 1146.3,1488.53 1147.3,1489.13 1148.3,1489.73 1149.3,1490.32 1150.3,1490.9 1151.3,1491.49 1152.3,1492.06 1153.3,1492.64 1154.3,1493.2 1155.3,1493.77 1156.3,1494.33 1157.3,1494.88 1158.3,1495.43 1159.3,1495.97 1160.3,1496.51 1161.3,1497.05 1162.3,1497.58 1163.3,1498.1 1164.3,1498.63 1165.3,1499.14 1166.3,1499.65 1167.3,1500.16 1168.3,1500.66 1169.3,1501.16 1170.3,1501.65 1171.3,1502.13 1172.3,1502.62 1173.3,1503.09 1174.3,1503.56 1175.3,1504.03 1176.3,1504.49 1177.3,1504.95 1178.3,1505.4 1179.3,1505.85 1180.3,1506.29 1181.3,1506.73 1182.3,1507.16 1183.3,1507.59 1184.3,1508.01 1185.3,1508.42 1186.3,1508.84 1187.3,1509.24 1188.3,1509.65 1189.3,1510.04 1190.3,1510.44 1191.3,1510.82 1192.3,1511.21 1193.3,1511.58 1194.3,1511.96 1195.3,1512.33 1196.3,1512.69 1197.3,1513.05 1198.3,1513.4 1199.3,1513.75 1200.3,1514.09 1201.3,1514.43 1202.3,1514.77 1203.3,1515.1 1204.3,1515.42 1205.3,1515.74 1206.3,1516.06 1207.3,1516.37 1208.3,1516.68 1209.3,1516.98 1210.3,1517.28 1211.3,1517.58 1212.3,1517.86 1213.3,1518.15 1214.3,1518.43 1215.3,1518.71 1216.3,1518.98 1217.3,1519.25 1218.3,1519.51 1219.3,1519.77 1220.3,1520.03 1221.3,1520.28 1222.3,1520.53 1223.3,1520.77 1224.3,1521.01 1225.3,1521.25 1226.3,1521.48 1227.3,1521.71 1228.3,1521.93 1229.3,1522.16 1230.3,1522.37 1231.3,1522.59 1232.3,1522.8 1233.3,1523 1234.3,1523.21 1235.3,1523.41 1236.3,1523.6 1237.3,1523.8 1238.3,1523.99 1239.3,1524.17 1240.3,1524.36 1241.3,1524.54 1242.3,1524.72 1243.3,1524.89 1244.3,1525.06 1245.3,1525.23 1246.3,1525.39 1247.3,1525.56 1248.3,1525.72 1249.3,1525.87 1250.3,1526.03 1251.3,1526.18 1252.3,1526.33 1253.3,1526.47 1254.3,1526.62 1255.3,1526.76 1256.3,1526.89 1257.3,1527.03 1258.3,1527.16 1259.3,1527.29 1260.3,1527.42 1261.3,1527.55 1262.3,1527.67 1263.3,1527.79 1264.3,1527.91 1265.3,1528.03 1266.3,1528.15 1267.3,1528.26 1268.3,1528.37 1269.3,1528.48 1270.3,1528.59 1271.3,1528.69 1272.3,1528.8 1273.3,1528.9 1274.3,1529 1275.3,1529.1 1276.3,1529.19 1277.3,1529.29 1278.3,1529.38 1279.3,1529.47 1280.3,1529.56 1281.3,1529.65 1282.3,1529.74 1283.3,1529.82 1284.3,1529.91 1285.3,1529.99 1286.3,1530.07 1287.3,1530.15 1288.3,1530.23 1289.3,1530.3 1290.3,1530.38 1291.3,1530.45 1292.3,1530.52 1293.3,1530.6 1294.3,1530.67 1295.3,1530.73 1296.3,1530.8 1297.3,1530.87 1298.3,1530.93 1299.3,1531 1300.3,1531.06 1301.3,1531.13 1302.3,1531.19 1303.3,1531.25 1304.3,1531.31 1305.3,1531.37 1306.3,1531.42 1307.3,1531.48 1308.3,1531.54 1309.3,1531.59 1310.3,1531.65 1311.3,1531.7 1312.3,1531.75 1313.3,1531.8 1314.3,1531.85 1315.3,1531.9 1316.3,1531.95 1317.3,1532 1318.3,1532.05 1319.3,1532.1 1320.3,1532.15 1321.3,1532.19 1322.3,1532.24 1323.3,1532.28 1324.3,1532.33 1325.3,1532.37 1326.3,1532.41 1327.3,1532.45 1328.3,1532.5 1329.3,1532.54 1330.3,1532.58 1331.3,1532.62 1332.3,1532.66 1333.3,1532.7 1334.3,1532.74 1335.3,1532.77 1336.3,1532.81 1337.3,1532.85 1338.3,1532.89 1339.3,1532.92 1340.3,1532.96 1341.3,1532.99 1342.3,1533.03 1343.3,1533.06 1344.3,1533.1 1345.3,1533.13 1346.3,1533.17 1347.3,1533.2 1348.3,1533.23 1349.3,1533.26 1350.3,1533.3 1351.3,1533.33 1352.3,1533.36 1353.3,1533.39 1354.3,1533.42 1355.3,1533.45 1356.3,1533.48 1357.3,1533.51 1358.3,1533.54 1359.3,1533.57 1360.3,1533.6 1361.3,1533.63 1362.3,1533.66 1363.3,1533.68 1364.3,1533.71 1365.3,1533.74 1366.3,1533.77 1367.3,1533.79 1368.3,1533.82 1369.3,1533.85 1370.3,1533.87 1371.3,1533.9 1372.3,1533.93 1373.3,1533.95 1374.3,1533.98 1375.3,1534 1376.3,1534.03 1377.3,1534.05 1378.3,1534.08 1379.3,1534.1 1380.3,1534.12 1381.3,1534.15 1382.3,1534.17 1383.3,1534.2 1384.3,1534.22 1385.3,1534.24 1386.3,1534.27 1387.3,1534.29 1388.3,1534.31 1389.3,1534.33 1390.3,1534.36 1391.3,1534.38 1392.3,1534.4 1393.3,1534.42 1394.3,1534.44 1395.3,1534.46 1396.3,1534.48 1397.3,1534.51 1398.3,1534.53 1399.3,1534.55 1400.3,1534.57 1401.3,1534.59 1402.3,1534.61 1403.3,1534.63 1404.3,1534.65 1405.3,1534.67 1406.3,1534.69 1407.3,1534.71 1408.3,1534.72 1409.3,1534.74 1410.3,1534.76 1411.3,1534.78 1412.3,1534.8 1413.3,1534.82 1414.3,1534.84 1415.3,1534.86 1416.3,1534.87 1417.3,1534.89 1418.3,1534.91 1419.3,1534.93 1420.3,1534.94 1421.3,1534.96 1422.3,1534.98 1423.3,1535 1424.3,1535.01 1425.3,1535.03 1426.3,1535.05 1427.3,1535.06 1428.3,1535.08 1429.3,1535.09 1430.3,1535.11 1431.3,1535.13 1432.3,1535.14 1433.3,1535.16 1434.3,1535.17 1435.3,1535.19 1436.3,1535.21 1437.3,1535.22 1438.3,1535.24 1439.3,1535.25 1440.3,1535.27 1441.3,1535.28 1442.3,1535.29 1443.3,1535.31 1444.3,1535.32 1445.3,1535.34 1446.3,1535.35 1447.3,1535.37 1448.3,1535.38 1449.3,1535.39 1450.3,1535.41 1451.3,1535.42 1452.3,1535.43 1453.3,1535.45 1454.3,1535.46 1455.3,1535.47 1456.3,1535.49 1457.3,1535.5 1458.3,1535.51" fill="none" stroke="#ff5a00" stroke-width="4.1" stroke-linejoin="round"/>
<polyline points="872.3,1469.72 873.3,1467.29 874.3,1464.77 875.3,1462.16 876.3,1459.47 877.3,1456.68 878.3,1453.81 879.3,1450.84 880.3,1447.78 881.3,1444.63 882.3,1441.38 883.3,1438.05 884.3,1434.61 885.3,1431.09 886.3,1427.47 887.3,1423.76 888.3,1419.96 889.3,1416.07 890.3,1412.08 891.3,1408.01 892.3,1403.86 893.3,1399.62 894.3,1395.3 895.3,1390.89 896.3,1386.42 897.3,1381.86 898.3,1377.24 899.3,1372.55 900.3,1367.79 901.3,1362.97 902.3,1358.1 903.3,1353.18 904.3,1348.2 905.3,1343.19 906.3,1338.13 907.3,1333.05 908.3,1327.93 909.3,1322.79 910.3,1317.64 911.3,1312.47 912.3,1307.3 913.3,1302.13 914.3,1296.97 915.3,1291.82 916.3,1286.68 917.3,1281.57 918.3,1276.5 919.3,1271.45 920.3,1266.46 921.3,1261.51 922.3,1256.61 923.3,1251.78 924.3,1247.02 925.3,1242.32 926.3,1237.71 927.3,1233.18 928.3,1228.74 929.3,1224.4 930.3,1220.16 931.3,1216.02 932.3,1211.99 933.3,1208.08 934.3,1204.28 935.3,1200.61 936.3,1197.06 937.3,1193.64 938.3,1190.36 939.3,1187.21 940.3,1184.2 941.3,1181.33 942.3,1178.6 943.3,1176.02 944.3,1173.58 945.3,1171.29 946.3,1169.15 947.3,1167.16 948.3,1165.31 949.3,1163.62 950.3,1162.07 951.3,1160.67 952.3,1159.42 953.3,1158.32 954.3,1157.36 955.3,1156.55 956.3,1155.87 957.3,1155.34 958.3,1154.95 959.3,1154.69 960.3,1154.56 961.3,1154.57 962.3,1154.7 963.3,1154.96 964.3,1155.35 965.3,1155.85 966.3,1156.47 967.3,1157.2 968.3,1158.04 969.3,1158.99 970.3,1160.04 971.3,1161.19 972.3,1162.44 973.3,1163.78 974.3,1165.21 975.3,1166.73 976.3,1168.33 977.3,1170.01 978.3,1171.76 979.3,1173.6 980.3,1175.5 981.3,1177.47 982.3,1179.5 983.3,1181.6 984.3,1183.75 985.3,1185.96 986.3,1188.23 987.3,1190.54 988.3,1192.9 989.3,1195.31 990.3,1197.76 991.3,1200.26 992.3,1202.79 993.3,1205.36 994.3,1207.97 995.3,1210.6 996.3,1213.27 997.3,1215.97 998.3,1218.7 999.3,1221.45 1000.3,1224.22 1001.3,1227.02 1002.3,1229.84 1003.3,1232.68 1004.3,1235.54 1005.3,1238.41 1006.3,1241.3 1007.3,1244.2 1008.3,1247.12 1009.3,1250.04 1010.3,1252.98 1011.3,1255.92 1012.3,1258.88 1013.3,1261.84 1014.3,1264.8 1015.3,1267.77 1016.3,1270.74 1017.3,1273.71 1018.3,1276.68 1019.3,1279.65 1020.3,1282.62 1021.3,1285.58 1022.3,1288.54 1023.3,1291.5 1024.3,1294.44 1025.3,1297.38 1026.3,1300.31 1027.3,1303.23 1028.3,1306.13 1029.3,1309.03 1030.3,1311.91 1031.3,1314.77 1032.3,1317.62 1033.3,1320.45 1034.3,1323.27 1035.3,1326.06 1036.3,1328.83 1037.3,1331.58 1038.3,1334.31 1039.3,1337.02 1040.3,1339.7 1041.3,1342.36 1042.3,1344.99 1043.3,1347.59 1044.3,1350.17 1045.3,1352.72 1046.3,1355.24 1047.3,1357.73 1048.3,1360.19 1049.3,1362.62 1050.3,1365.01 1051.3,1367.38 1052.3,1369.71 1053.3,1372.02 1054.3,1374.29 1055.3,1376.52 1056.3,1378.73 1057.3,1380.9 1058.3,1383.03 1059.3,1385.14 1060.3,1387.21 1061.3,1389.24 1062.3,1391.24 1063.3,1393.21 1064.3,1395.15 1065.3,1397.05 1066.3,1398.92 1067.3,1400.76 1068.3,1402.56 1069.3,1404.33 1070.3,1406.07 1071.3,1407.78 1072.3,1409.46 1073.3,1411.11 1074.3,1412.72 1075.3,1414.31 1076.3,1415.87 1077.3,1417.4 1078.3,1418.9 1079.3,1420.38 1080.3,1421.82 1081.3,1423.24 1082.3,1424.64 1083.3,1426.01 1084.3,1427.36 1085.3,1428.68 1086.3,1429.97 1087.3,1431.25 1088.3,1432.5 1089.3,1433.74 1090.3,1434.95 1091.3,1436.14 1092.3,1437.31 1093.3,1438.46 1094.3,1439.59 1095.3,1440.71 1096.3,1441.81 1097.3,1442.89 1098.3,1443.95 1099.3,1445 1100.3,1446.04 1101.3,1447.06 1102.3,1448.06 1103.3,1449.06 1104.3,1450.04 1105.3,1451 1106.3,1451.96 1107.3,1452.9 1108.3,1453.83 1109.3,1454.75 1110.3,1455.66 1111.3,1456.56 1112.3,1457.45 1113.3,1458.33 1114.3,1459.2 1115.3,1460.06 1116.3,1460.91 1117.3,1461.76 1118.3,1462.59 1119.3,1463.42 1120.3,1464.24 1121.3,1465.05 1122.3,1465.86 1123.3,1466.66 1124.3,1467.45 1125.3,1468.24 1126.3,1469.02 1127.3,1469.79 1128.3,1470.56 1129.3,1471.32 1130.3,1472.08 1131.3,1472.82 1132.3,1473.57 1133.3,1474.31 1134.3,1475.04 1135.3,1475.77 1136.3,1476.49 1137.3,1477.2 1138.3,1477.91 1139.3,1478.62 1140.3,1479.32 1141.3,1480.02 1142.3,1480.71 1143.3,1481.39 1144.3,1482.07 1145.3,1482.74 1146.3,1483.41 1147.3,1484.08 1148.3,1484.74 1149.3,1485.39 1150.3,1486.04 1151.3,1486.68 1152.3,1487.32 1153.3,1487.96 1154.3,1488.59 1155.3,1489.21 1156.3,1489.83 1157.3,1490.44 1158.3,1491.05 1159.3,1491.65 1160.3,1492.25 1161.3,1492.84 1162.3,1493.42 1163.3,1494.01 1164.3,1494.58 1165.3,1495.15 1166.3,1495.72 1167.3,1496.28 1168.3,1496.83 1169.3,1497.38 1170.3,1497.92 1171.3,1498.46 1172.3,1499 1173.3,1499.52 1174.3,1500.04 1175.3,1500.56 1176.3,1501.07 1177.3,1501.58 1178.3,1502.08 1179.3,1502.57 1180.3,1503.06 1181.3,1503.54 1182.3,1504.02 1183.3,1504.49 1184.3,1504.96 1185.3,1505.42 1186.3,1505.88 1187.3,1506.33 1188.3,1506.77 1189.3,1507.21 1190.3,1507.65 1191.3,1508.08 1192.3,1508.5 1193.3,1508.92 1194.3,1509.33 1195.3,1509.74 1196.3,1510.14 1197.3,1510.54 1198.3,1510.93 1199.3,1511.31 1200.3,1511.69 1201.3,1512.07 1202.3,1512.44 1203.3,1512.8 1204.3,1513.16 1205.3,1513.52 1206.3,1513.87 1207.3,1514.21 1208.3,1514.55 1209.3,1514.89 1210.3,1515.22 1211.3,1515.54 1212.3,1515.87 1213.3,1516.18 1214.3,1516.49 1215.3,1516.8 1216.3,1517.1 1217.3,1517.4 1218.3,1517.69 1219.3,1517.98 1220.3,1518.26 1221.3,1518.54 1222.3,1518.81 1223.3,1519.08 1224.3,1519.35 1225.3,1519.61 1226.3,1519.87 1227.3,1520.12 1228.3,1520.37 1229.3,1520.61 1230.3,1520.85 1231.3,1521.09 1232.3,1521.32 1233.3,1521.55 1234.3,1521.78 1235.3,1522 1236.3,1522.21 1237.3,1522.43 1238.3,1522.64 1239.3,1522.84 1240.3,1523.05 1241.3,1523.25 1242.3,1523.44 1243.3,1523.64 1244.3,1523.83 1245.3,1524.01 1246.3,1524.19 1247.3,1524.37 1248.3,1524.55 1249.3,1524.72 1250.3,1524.89 1251.3,1525.06 1252.3,1525.23 1253.3,1525.39 1254.3,1525.54 1255.3,1525.7 1256.3,1525.85 1257.3,1526 1258.3,1526.15 1259.3,1526.3 1260.3,1526.44 1261.3,1526.58 1262.3,1526.72 1263.3,1526.85 1264.3,1526.98 1265.3,1527.11 1266.3,1527.24 1267.3,1527.37 1268.3,1527.49 1269.3,1527.61 1270.3,1527.73 1271.3,1527.84 1272.3,1527.96 1273.3,1528.07 1274.3,1528.18 1275.3,1528.29 1276.3,1528.4 1277.3,1528.5 1278.3,1528.6 1279.3,1528.71 1280.3,1528.8 1281.3,1528.9 1282.3,1529 1283.3,1529.09 1284.3,1529.18 1285.3,1529.28 1286.3,1529.36 1287.3,1529.45 1288.3,1529.54 1289.3,1529.62 1290.3,1529.71 1291.3,1529.79 1292.3,1529.87 1293.3,1529.95 1294.3,1530.03 1295.3,1530.1 1296.3,1530.18 1297.3,1530.25 1298.3,1530.32 1299.3,1530.4 1300.3,1530.47 1301.3,1530.53 1302.3,1530.6 1303.3,1530.67 1304.3,1530.74 1305.3,1530.8 1306.3,1530.86 1307.3,1530.93 1308.3,1530.99 1309.3,1531.05 1310.3,1531.11 1311.3,1531.17 1312.3,1531.23 1313.3,1531.28 1314.3,1531.34 1315.3,1531.4 1316.3,1531.45 1317.3,1531.51 1318.3,1531.56 1319.3,1531.61 1320.3,1531.66 1321.3,1531.71 1322.3,1531.76 1323.3,1531.81 1324.3,1531.86 1325.3,1531.91 1326.3,1531.96 1327.3,1532 1328.3,1532.05 1329.3,1532.1 1330.3,1532.14 1331.3,1532.19 1332.3,1532.23 1333.3,1532.27 1334.3,1532.32 1335.3,1532.36 1336.3,1532.4 1337.3,1532.44 1338.3,1532.48 1339.3,1532.52 1340.3,1532.56 1341.3,1532.6 1342.3,1532.64 1343.3,1532.68 1344.3,1532.72 1345.3,1532.75 1346.3,1532.79 1347.3,1532.83 1348.3,1532.86 1349.3,1532.9 1350.3,1532.94 1351.3,1532.97 1352.3,1533.01 1353.3,1533.04 1354.3,1533.07 1355.3,1533.11 1356.3,1533.14 1357.3,1533.17 1358.3,1533.21 1359.3,1533.24 1360.3,1533.27 1361.3,1533.3 1362.3,1533.33 1363.3,1533.37 1364.3,1533.4 1365.3,1533.43 1366.3,1533.46 1367.3,1533.49 1368.3,1533.52 1369.3,1533.55 1370.3,1533.58 1371.3,1533.6 1372.3,1533.63 1373.3,1533.66 1374.3,1533.69 1375.3,1533.72 1376.3,1533.74 1377.3,1533.77 1378.3,1533.8 1379.3,1533.83 1380.3,1533.85 1381.3,1533.88 1382.3,1533.9 1383.3,1533.93 1384.3,1533.96 1385.3,1533.98 1386.3,1534.01 1387.3,1534.03 1388.3,1534.06 1389.3,1534.08 1390.3,1534.11 1391.3,1534.13 1392.3,1534.16 1393.3,1534.18 1394.3,1534.2 1395.3,1534.23 1396.3,1534.25 1397.3,1534.27 1398.3,1534.3 1399.3,1534.32 1400.3,1534.34 1401.3,1534.36 1402.3,1534.39 1403.3,1534.41 1404.3,1534.43 1405.3,1534.45 1406.3,1534.47 1407.3,1534.49 1408.3,1534.52 1409.3,1534.54 1410.3,1534.56 1411.3,1534.58 1412.3,1534.6 1413.3,1534.62 1414.3,1534.64 1415.3,1534.66 1416.3,1534.68 1417.3,1534.7 1418.3,1534.72 1419.3,1534.74 1420.3,1534.76 1421.3,1534.78 1422.3,1534.8 1423.3,1534.82 1424.3,1534.83 1425.3,1534.85 1426.3,1534.87 1427.3,1534.89 1428.3,1534.91 1429.3,1534.93 1430.3,1534.94 1431.3,1534.96 1432.3,1534.98 1433.3,1535 1434.3,1535.01 1435.3,1535.03 1436.3,1535.05 1437.3,1535.06 1438.3,1535.08 1439.3,1535.1 1440.3,1535.11 1441.3,1535.13 1442.3,1535.15 1443.3,1535.16 1444.3,1535.18 1445.3,1535.19 1446.3,1535.21 1447.3,1535.23 1448.3,1535.24 1449.3,1535.26 1450.3,1535.27 1451.3,1535.29 1452.3,1535.3 1453.3,1535.32 1454.3,1535.33 1455.3,1535.35 1456.3,1535.36 1457.3,1535.37 1458.3,1535.39" fill="none" stroke="#3d8fd6" stroke-width="4.1" stroke-linejoin="round"/>
<polyline points="872.3,1469.5 873.3,1467.06 874.3,1464.53 875.3,1461.92 876.3,1459.22 877.3,1456.42 878.3,1453.54 879.3,1450.56 880.3,1447.49 881.3,1444.33 882.3,1441.07 883.3,1437.72 884.3,1434.28 885.3,1430.74 886.3,1427.11 887.3,1423.39 888.3,1419.58 889.3,1415.67 890.3,1411.68 891.3,1407.59 892.3,1403.43 893.3,1399.17 894.3,1394.84 895.3,1390.42 896.3,1385.93 897.3,1381.36 898.3,1376.72 899.3,1372.01 900.3,1367.24 901.3,1362.41 902.3,1357.52 903.3,1352.58 904.3,1347.59 905.3,1342.56 906.3,1337.49 907.3,1332.38 908.3,1327.25 909.3,1322.1 910.3,1316.93 911.3,1311.75 912.3,1306.56 913.3,1301.37 914.3,1296.19 915.3,1291.02 916.3,1285.87 917.3,1280.74 918.3,1275.65 919.3,1270.59 920.3,1265.58 921.3,1260.61 922.3,1255.7 923.3,1250.85 924.3,1246.07 925.3,1241.37 926.3,1236.74 927.3,1232.19 928.3,1227.74 929.3,1223.38 930.3,1219.13 931.3,1214.98 932.3,1210.93 933.3,1207.01 934.3,1203.2 935.3,1199.51 936.3,1195.96 937.3,1192.53 938.3,1189.23 939.3,1186.07 940.3,1183.05 941.3,1180.17 942.3,1177.44 943.3,1174.85 944.3,1172.4 945.3,1170.1 946.3,1167.96 947.3,1165.96 948.3,1164.11 949.3,1162.4 950.3,1160.85 951.3,1159.45 952.3,1158.2 953.3,1157.09 954.3,1156.13 955.3,1155.31 956.3,1154.63 957.3,1154.1 958.3,1153.7 959.3,1153.44 960.3,1153.32 961.3,1153.33 962.3,1153.46 963.3,1153.72 964.3,1154.1 965.3,1154.61 966.3,1155.23 967.3,1155.96 968.3,1156.81 969.3,1157.76 970.3,1158.81 971.3,1159.97 972.3,1161.22 973.3,1162.56 974.3,1164 975.3,1165.52 976.3,1167.13 977.3,1168.81 978.3,1170.58 979.3,1172.41 980.3,1174.32 981.3,1176.3 982.3,1178.34 983.3,1180.44 984.3,1182.6 985.3,1184.82 986.3,1187.09 987.3,1189.41 988.3,1191.78 989.3,1194.2 990.3,1196.66 991.3,1199.16 992.3,1201.7 993.3,1204.28 994.3,1206.9 995.3,1209.54 996.3,1212.22 997.3,1214.93 998.3,1217.66 999.3,1220.42 1000.3,1223.21 1001.3,1226.01 1002.3,1228.84 1003.3,1231.69 1004.3,1234.56 1005.3,1237.44 1006.3,1240.34 1007.3,1243.25 1008.3,1246.17 1009.3,1249.11 1010.3,1252.06 1011.3,1255.01 1012.3,1257.97 1013.3,1260.94 1014.3,1263.91 1015.3,1266.89 1016.3,1269.87 1017.3,1272.85 1018.3,1275.83 1019.3,1278.81 1020.3,1281.79 1021.3,1284.76 1022.3,1287.73 1023.3,1290.7 1024.3,1293.65 1025.3,1296.6 1026.3,1299.54 1027.3,1302.47 1028.3,1305.38 1029.3,1308.29 1030.3,1311.18 1031.3,1314.05 1032.3,1316.91 1033.3,1319.75 1034.3,1322.57 1035.3,1325.37 1036.3,1328.16 1037.3,1330.92 1038.3,1333.65 1039.3,1336.37 1040.3,1339.06 1041.3,1341.72 1042.3,1344.36 1043.3,1346.98 1044.3,1349.56 1045.3,1352.12 1046.3,1354.65 1047.3,1357.14 1048.3,1359.61 1049.3,1362.05 1050.3,1364.46 1051.3,1366.83 1052.3,1369.17 1053.3,1371.48 1054.3,1373.76 1055.3,1376 1056.3,1378.21 1057.3,1380.39 1058.3,1382.53 1059.3,1384.64 1060.3,1386.72 1061.3,1388.76 1062.3,1390.77 1063.3,1392.74 1064.3,1394.69 1065.3,1396.59 1066.3,1398.47 1067.3,1400.31 1068.3,1402.12 1069.3,1403.9 1070.3,1405.65 1071.3,1407.36 1072.3,1409.04 1073.3,1410.7 1074.3,1412.32 1075.3,1413.91 1076.3,1415.48 1077.3,1417.01 1078.3,1418.52 1079.3,1420 1080.3,1421.45 1081.3,1422.87 1082.3,1424.27 1083.3,1425.65 1084.3,1427 1085.3,1428.33 1086.3,1429.63 1087.3,1430.91 1088.3,1432.16 1089.3,1433.4 1090.3,1434.62 1091.3,1435.81 1092.3,1436.99 1093.3,1438.14 1094.3,1439.28 1095.3,1440.4 1096.3,1441.5 1097.3,1442.58 1098.3,1443.65 1099.3,1444.71 1100.3,1445.74 1101.3,1446.77 1102.3,1447.78 1103.3,1448.77 1104.3,1449.75 1105.3,1450.72 1106.3,1451.68 1107.3,1452.63 1108.3,1453.56 1109.3,1454.48 1110.3,1455.39 1111.3,1456.3 1112.3,1457.19 1113.3,1458.07 1114.3,1458.94 1115.3,1459.81 1116.3,1460.66 1117.3,1461.51 1118.3,1462.35 1119.3,1463.18 1120.3,1464.01 1121.3,1464.82 1122.3,1465.63 1123.3,1466.43 1124.3,1467.23 1125.3,1468.02 1126.3,1468.8 1127.3,1469.57 1128.3,1470.34 1129.3,1471.11 1130.3,1471.87 1131.3,1472.62 1132.3,1473.36 1133.3,1474.1 1134.3,1474.84 1135.3,1475.57 1136.3,1476.29 1137.3,1477.01 1138.3,1477.72 1139.3,1478.43 1140.3,1479.13 1141.3,1479.83 1142.3,1480.52 1143.3,1481.21 1144.3,1481.89 1145.3,1482.57 1146.3,1483.24 1147.3,1483.91 1148.3,1484.57 1149.3,1485.22 1150.3,1485.88 1151.3,1486.52 1152.3,1487.16 1153.3,1487.8 1154.3,1488.43 1155.3,1489.05 1156.3,1489.67 1157.3,1490.29 1158.3,1490.9 1159.3,1491.5 1160.3,1492.1 1161.3,1492.7 1162.3,1493.28 1163.3,1493.87 1164.3,1494.44 1165.3,1495.02 1166.3,1495.58 1167.3,1496.15 1168.3,1496.7 1169.3,1497.25 1170.3,1497.8 1171.3,1498.34 1172.3,1498.87 1173.3,1499.4 1174.3,1499.93 1175.3,1500.44 1176.3,1500.96 1177.3,1501.46 1178.3,1501.96 1179.3,1502.46 1180.3,1502.95 1181.3,1503.44 1182.3,1503.92 1183.3,1504.39 1184.3,1504.86 1185.3,1505.32 1186.3,1505.78 1187.3,1506.23 1188.3,1506.68 1189.3,1507.12 1190.3,1507.55 1191.3,1507.98 1192.3,1508.41 1193.3,1508.83 1194.3,1509.24 1195.3,1509.65 1196.3,1510.05 1197.3,1510.45 1198.3,1510.84 1199.3,1511.23 1200.3,1511.61 1201.3,1511.99 1202.3,1512.36 1203.3,1512.73 1204.3,1513.09 1205.3,1513.44 1206.3,1513.8 1207.3,1514.14 1208.3,1514.48 1209.3,1514.82 1210.3,1515.15 1211.3,1515.48 1212.3,1515.8 1213.3,1516.11 1214.3,1516.43 1215.3,1516.73 1216.3,1517.04 1217.3,1517.33 1218.3,1517.63 1219.3,1517.91 1220.3,1518.2 1221.3,1518.48 1222.3,1518.75 1223.3,1519.02 1224.3,1519.29 1225.3,1519.55 1226.3,1519.81 1227.3,1520.06 1228.3,1520.31 1229.3,1520.56 1230.3,1520.8 1231.3,1521.04 1232.3,1521.27 1233.3,1521.5 1234.3,1521.73 1235.3,1521.95 1236.3,1522.17 1237.3,1522.38 1238.3,1522.59 1239.3,1522.8 1240.3,1523 1241.3,1523.2 1242.3,1523.4 1243.3,1523.59 1244.3,1523.78 1245.3,1523.97 1246.3,1524.15 1247.3,1524.33 1248.3,1524.51 1249.3,1524.68 1250.3,1524.86 1251.3,1525.02 1252.3,1525.19 1253.3,1525.35 1254.3,1525.51 1255.3,1525.66 1256.3,1525.82 1257.3,1525.97 1258.3,1526.12 1259.3,1526.26 1260.3,1526.4 1261.3,1526.54 1262.3,1526.68 1263.3,1526.82 1264.3,1526.95 1265.3,1527.08 1266.3,1527.21 1267.3,1527.33 1268.3,1527.46 1269.3,1527.58 1270.3,1527.7 1271.3,1527.82 1272.3,1527.93 1273.3,1528.04 1274.3,1528.15 1275.3,1528.26 1276.3,1528.37 1277.3,1528.47 1278.3,1528.58 1279.3,1528.68 1280.3,1528.78 1281.3,1528.88 1282.3,1528.97 1283.3,1529.07 1284.3,1529.16 1285.3,1529.25 1286.3,1529.34 1287.3,1529.43 1288.3,1529.51 1289.3,1529.6 1290.3,1529.68 1291.3,1529.77 1292.3,1529.85 1293.3,1529.93 1294.3,1530 1295.3,1530.08 1296.3,1530.16 1297.3,1530.23 1298.3,1530.3 1299.3,1530.37 1300.3,1530.45 1301.3,1530.51 1302.3,1530.58 1303.3,1530.65 1304.3,1530.72 1305.3,1530.78 1306.3,1530.85 1307.3,1530.91 1308.3,1530.97 1309.3,1531.03 1310.3,1531.09 1311.3,1531.15 1312.3,1531.21 1313.3,1531.27 1314.3,1531.32 1315.3,1531.38 1316.3,1531.43 1317.3,1531.49 1318.3,1531.54 1319.3,1531.59 1320.3,1531.65 1321.3,1531.7 1322.3,1531.75 1323.3,1531.8 1324.3,1531.85 1325.3,1531.89 1326.3,1531.94 1327.3,1531.99 1328.3,1532.04 1329.3,1532.08 1330.3,1532.13 1331.3,1532.17 1332.3,1532.22 1333.3,1532.26 1334.3,1532.3 1335.3,1532.34 1336.3,1532.39 1337.3,1532.43 1338.3,1532.47 1339.3,1532.51 1340.3,1532.55 1341.3,1532.59 1342.3,1532.63 1343.3,1532.67 1344.3,1532.7 1345.3,1532.74 1346.3,1532.78 1347.3,1532.82 1348.3,1532.85 1349.3,1532.89 1350.3,1532.92 1351.3,1532.96 1352.3,1532.99 1353.3,1533.03 1354.3,1533.06 1355.3,1533.1 1356.3,1533.13 1357.3,1533.16 1358.3,1533.2 1359.3,1533.23 1360.3,1533.26 1361.3,1533.29 1362.3,1533.32 1363.3,1533.35 1364.3,1533.39 1365.3,1533.42 1366.3,1533.45 1367.3,1533.48 1368.3,1533.51 1369.3,1533.54 1370.3,1533.56 1371.3,1533.59 1372.3,1533.62 1373.3,1533.65 1374.3,1533.68 1375.3,1533.71 1376.3,1533.73 1377.3,1533.76 1378.3,1533.79 1379.3,1533.82 1380.3,1533.84 1381.3,1533.87 1382.3,1533.9 1383.3,1533.92 1384.3,1533.95 1385.3,1533.97 1386.3,1534 1387.3,1534.02 1388.3,1534.05 1389.3,1534.07 1390.3,1534.1 1391.3,1534.12 1392.3,1534.15 1393.3,1534.17 1394.3,1534.19 1395.3,1534.22 1396.3,1534.24 1397.3,1534.27 1398.3,1534.29 1399.3,1534.31 1400.3,1534.33 1401.3,1534.36 1402.3,1534.38 1403.3,1534.4 1404.3,1534.42 1405.3,1534.44 1406.3,1534.47 1407.3,1534.49 1408.3,1534.51 1409.3,1534.53 1410.3,1534.55 1411.3,1534.57 1412.3,1534.59 1413.3,1534.61 1414.3,1534.63 1415.3,1534.65 1416.3,1534.67 1417.3,1534.69 1418.3,1534.71 1419.3,1534.73 1420.3,1534.75 1421.3,1534.77 1422.3,1534.79 1423.3,1534.81 1424.3,1534.83 1425.3,1534.85 1426.3,1534.86 1427.3,1534.88 1428.3,1534.9 1429.3,1534.92 1430.3,1534.94 1431.3,1534.96 1432.3,1534.97 1433.3,1534.99 1434.3,1535.01 1435.3,1535.02 1436.3,1535.04 1437.3,1535.06 1438.3,1535.08 1439.3,1535.09 1440.3,1535.11 1441.3,1535.13 1442.3,1535.14 1443.3,1535.16 1444.3,1535.17 1445.3,1535.19 1446.3,1535.2 1447.3,1535.22 1448.3,1535.24 1449.3,1535.25 1450.3,1535.27 1451.3,1535.28 1452.3,1535.3 1453.3,1535.31 1454.3,1535.33 1455.3,1535.34 1456.3,1535.36 1457.3,1535.37 1458.3,1535.38" fill="none" stroke="#33bb00" stroke-width="4.1" stroke-linejoin="round"/>
<polyline points="872.3,1470.08 873.3,1467.66 874.3,1465.15 875.3,1462.56 876.3,1459.88 877.3,1457.11 878.3,1454.25 879.3,1451.29 880.3,1448.25 881.3,1445.12 882.3,1441.89 883.3,1438.57 884.3,1435.15 885.3,1431.65 886.3,1428.05 887.3,1424.36 888.3,1420.57 889.3,1416.7 890.3,1412.74 891.3,1408.69 892.3,1404.56 893.3,1400.34 894.3,1396.04 895.3,1391.67 896.3,1387.21 897.3,1382.68 898.3,1378.08 899.3,1373.41 900.3,1368.68 901.3,1363.89 902.3,1359.04 903.3,1354.15 904.3,1349.2 905.3,1344.21 906.3,1339.18 907.3,1334.12 908.3,1329.04 909.3,1323.93 910.3,1318.8 911.3,1313.66 912.3,1308.52 913.3,1303.37 914.3,1298.24 915.3,1293.11 916.3,1288.01 917.3,1282.92 918.3,1277.87 919.3,1272.86 920.3,1267.89 921.3,1262.96 922.3,1258.09 923.3,1253.29 924.3,1248.55 925.3,1243.88 926.3,1239.29 927.3,1234.79 928.3,1230.37 929.3,1226.05 930.3,1221.83 931.3,1217.71 932.3,1213.71 933.3,1209.81 934.3,1206.04 935.3,1202.39 936.3,1198.86 937.3,1195.46 938.3,1192.19 939.3,1189.06 940.3,1186.06 941.3,1183.21 942.3,1180.5 943.3,1177.93 944.3,1175.5 945.3,1173.23 946.3,1171.1 947.3,1169.11 948.3,1167.28 949.3,1165.59 950.3,1164.05 951.3,1162.66 952.3,1161.42 953.3,1160.32 954.3,1159.37 955.3,1158.56 956.3,1157.89 957.3,1157.36 958.3,1156.97 959.3,1156.71 960.3,1156.58 961.3,1156.59 962.3,1156.72 963.3,1156.98 964.3,1157.36 965.3,1157.86 966.3,1158.48 967.3,1159.2 968.3,1160.04 969.3,1160.98 970.3,1162.03 971.3,1163.17 972.3,1164.42 973.3,1165.75 974.3,1167.17 975.3,1168.68 976.3,1170.27 977.3,1171.95 978.3,1173.7 979.3,1175.52 980.3,1177.41 981.3,1179.37 982.3,1181.39 983.3,1183.48 984.3,1185.62 985.3,1187.82 986.3,1190.07 987.3,1192.37 988.3,1194.72 989.3,1197.12 990.3,1199.56 991.3,1202.04 992.3,1204.56 993.3,1207.11 994.3,1209.7 995.3,1212.33 996.3,1214.98 997.3,1217.67 998.3,1220.38 999.3,1223.11 1000.3,1225.88 1001.3,1228.66 1002.3,1231.46 1003.3,1234.29 1004.3,1237.13 1005.3,1239.99 1006.3,1242.86 1007.3,1245.75 1008.3,1248.65 1009.3,1251.56 1010.3,1254.48 1011.3,1257.41 1012.3,1260.35 1013.3,1263.29 1014.3,1266.24 1015.3,1269.19 1016.3,1272.14 1017.3,1275.1 1018.3,1278.05 1019.3,1281.01 1020.3,1283.96 1021.3,1286.91 1022.3,1289.85 1023.3,1292.79 1024.3,1295.72 1025.3,1298.65 1026.3,1301.56 1027.3,1304.46 1028.3,1307.35 1029.3,1310.23 1030.3,1313.1 1031.3,1315.95 1032.3,1318.78 1033.3,1321.6 1034.3,1324.39 1035.3,1327.17 1036.3,1329.93 1037.3,1332.67 1038.3,1335.38 1039.3,1338.08 1040.3,1340.74 1041.3,1343.39 1042.3,1346 1043.3,1348.59 1044.3,1351.16 1045.3,1353.69 1046.3,1356.2 1047.3,1358.67 1048.3,1361.12 1049.3,1363.54 1050.3,1365.92 1051.3,1368.28 1052.3,1370.6 1053.3,1372.89 1054.3,1375.15 1055.3,1377.37 1056.3,1379.56 1057.3,1381.72 1058.3,1383.85 1059.3,1385.94 1060.3,1388 1061.3,1390.02 1062.3,1392.01 1063.3,1393.97 1064.3,1395.9 1065.3,1397.79 1066.3,1399.65 1067.3,1401.47 1068.3,1403.27 1069.3,1405.03 1070.3,1406.76 1071.3,1408.46 1072.3,1410.13 1073.3,1411.77 1074.3,1413.38 1075.3,1414.96 1076.3,1416.51 1077.3,1418.03 1078.3,1419.52 1079.3,1420.99 1080.3,1422.43 1081.3,1423.84 1082.3,1425.23 1083.3,1426.59 1084.3,1427.93 1085.3,1429.25 1086.3,1430.54 1087.3,1431.81 1088.3,1433.05 1089.3,1434.28 1090.3,1435.48 1091.3,1436.67 1092.3,1437.83 1093.3,1438.98 1094.3,1440.11 1095.3,1441.22 1096.3,1442.31 1097.3,1443.39 1098.3,1444.45 1099.3,1445.49 1100.3,1446.52 1101.3,1447.53 1102.3,1448.53 1103.3,1449.52 1104.3,1450.49 1105.3,1451.46 1106.3,1452.4 1107.3,1453.34 1108.3,1454.27 1109.3,1455.18 1110.3,1456.09 1111.3,1456.98 1112.3,1457.87 1113.3,1458.74 1114.3,1459.61 1115.3,1460.46 1116.3,1461.31 1117.3,1462.15 1118.3,1462.98 1119.3,1463.81 1120.3,1464.62 1121.3,1465.43 1122.3,1466.24 1123.3,1467.03 1124.3,1467.82 1125.3,1468.6 1126.3,1469.38 1127.3,1470.15 1128.3,1470.91 1129.3,1471.67 1130.3,1472.42 1131.3,1473.16 1132.3,1473.9 1133.3,1474.64 1134.3,1475.37 1135.3,1476.09 1136.3,1476.81 1137.3,1477.52 1138.3,1478.23 1139.3,1478.93 1140.3,1479.62 1141.3,1480.32 1142.3,1481 1143.3,1481.68 1144.3,1482.36 1145.3,1483.03 1146.3,1483.7 1147.3,1484.36 1148.3,1485.01 1149.3,1485.66 1150.3,1486.31 1151.3,1486.95 1152.3,1487.58 1153.3,1488.21 1154.3,1488.84 1155.3,1489.46 1156.3,1490.07 1157.3,1490.68 1158.3,1491.29 1159.3,1491.89 1160.3,1492.48 1161.3,1493.07 1162.3,1493.65 1163.3,1494.23 1164.3,1494.8 1165.3,1495.37 1166.3,1495.93 1167.3,1496.49 1168.3,1497.04 1169.3,1497.59 1170.3,1498.13 1171.3,1498.67 1172.3,1499.2 1173.3,1499.72 1174.3,1500.24 1175.3,1500.75 1176.3,1501.26 1177.3,1501.76 1178.3,1502.26 1179.3,1502.75 1180.3,1503.24 1181.3,1503.72 1182.3,1504.19 1183.3,1504.66 1184.3,1505.13 1185.3,1505.59 1186.3,1506.04 1187.3,1506.49 1188.3,1506.93 1189.3,1507.37 1190.3,1507.8 1191.3,1508.23 1192.3,1508.65 1193.3,1509.06 1194.3,1509.47 1195.3,1509.88 1196.3,1510.28 1197.3,1510.67 1198.3,1511.06 1199.3,1511.45 1200.3,1511.83 1201.3,1512.2 1202.3,1512.57 1203.3,1512.93 1204.3,1513.29 1205.3,1513.64 1206.3,1513.99 1207.3,1514.33 1208.3,1514.67 1209.3,1515 1210.3,1515.33 1211.3,1515.66 1212.3,1515.98 1213.3,1516.29 1214.3,1516.6 1215.3,1516.9 1216.3,1517.2 1217.3,1517.5 1218.3,1517.79 1219.3,1518.07 1220.3,1518.36 1221.3,1518.63 1222.3,1518.91 1223.3,1519.17 1224.3,1519.44 1225.3,1519.7 1226.3,1519.95 1227.3,1520.21 1228.3,1520.45 1229.3,1520.7 1230.3,1520.94 1231.3,1521.17 1232.3,1521.4 1233.3,1521.63 1234.3,1521.85 1235.3,1522.07 1236.3,1522.29 1237.3,1522.5 1238.3,1522.71 1239.3,1522.92 1240.3,1523.12 1241.3,1523.32 1242.3,1523.51 1243.3,1523.71 1244.3,1523.89 1245.3,1524.08 1246.3,1524.26 1247.3,1524.44 1248.3,1524.61 1249.3,1524.79 1250.3,1524.96 1251.3,1525.12 1252.3,1525.29 1253.3,1525.45 1254.3,1525.6 1255.3,1525.76 1256.3,1525.91 1257.3,1526.06 1258.3,1526.21 1259.3,1526.35 1260.3,1526.49 1261.3,1526.63 1262.3,1526.77 1263.3,1526.9 1264.3,1527.03 1265.3,1527.16 1266.3,1527.29 1267.3,1527.41 1268.3,1527.54 1269.3,1527.66 1270.3,1527.78 1271.3,1527.89 1272.3,1528 1273.3,1528.12 1274.3,1528.23 1275.3,1528.33 1276.3,1528.44 1277.3,1528.54 1278.3,1528.65 1279.3,1528.75 1280.3,1528.85 1281.3,1528.94 1282.3,1529.04 1283.3,1529.13 1284.3,1529.22 1285.3,1529.31 1286.3,1529.4 1287.3,1529.49 1288.3,1529.58 1289.3,1529.66 1290.3,1529.74 1291.3,1529.82 1292.3,1529.9 1293.3,1529.98 1294.3,1530.06 1295.3,1530.14 1296.3,1530.21 1297.3,1530.28 1298.3,1530.36 1299.3,1530.43 1300.3,1530.5 1301.3,1530.57 1302.3,1530.63 1303.3,1530.7 1304.3,1530.77 1305.3,1530.83 1306.3,1530.9 1307.3,1530.96 1308.3,1531.02 1309.3,1531.08 1310.3,1531.14 1311.3,1531.2 1312.3,1531.26 1313.3,1531.31 1314.3,1531.37 1315.3,1531.42 1316.3,1531.48 1317.3,1531.53 1318.3,1531.59 1319.3,1531.64 1320.3,1531.69 1321.3,1531.74 1322.3,1531.79 1323.3,1531.84 1324.3,1531.89 1325.3,1531.94 1326.3,1531.98 1327.3,1532.03 1328.3,1532.08 1329.3,1532.12 1330.3,1532.17 1331.3,1532.21 1332.3,1532.25 1333.3,1532.3 1334.3,1532.34 1335.3,1532.38 1336.3,1532.42 1337.3,1532.46 1338.3,1532.5 1339.3,1532.54 1340.3,1532.58 1341.3,1532.62 1342.3,1532.66 1343.3,1532.7 1344.3,1532.74 1345.3,1532.78 1346.3,1532.81 1347.3,1532.85 1348.3,1532.88 1349.3,1532.92 1350.3,1532.96 1351.3,1532.99 1352.3,1533.03 1353.3,1533.06 1354.3,1533.09 1355.3,1533.13 1356.3,1533.16 1357.3,1533.19 1358.3,1533.23 1359.3,1533.26 1360.3,1533.29 1361.3,1533.32 1362.3,1533.35 1363.3,1533.38 1364.3,1533.41 1365.3,1533.44 1366.3,1533.47 1367.3,1533.5 1368.3,1533.53 1369.3,1533.56 1370.3,1533.59 1371.3,1533.62 1372.3,1533.65 1373.3,1533.68 1374.3,1533.7 1375.3,1533.73 1376.3,1533.76 1377.3,1533.79 1378.3,1533.81 1379.3,1533.84 1380.3,1533.87 1381.3,1533.89 1382.3,1533.92 1383.3,1533.95 1384.3,1533.97 1385.3,1534 1386.3,1534.02 1387.3,1534.05 1388.3,1534.07 1389.3,1534.1 1390.3,1534.12 1391.3,1534.14 1392.3,1534.17 1393.3,1534.19 1394.3,1534.22 1395.3,1534.24 1396.3,1534.26 1397.3,1534.29 1398.3,1534.31 1399.3,1534.33 1400.3,1534.35 1401.3,1534.38 1402.3,1534.4 1403.3,1534.42 1404.3,1534.44 1405.3,1534.46 1406.3,1534.49 1407.3,1534.51 1408.3,1534.53 1409.3,1534.55 1410.3,1534.57 1411.3,1534.59 1412.3,1534.61 1413.3,1534.63 1414.3,1534.65 1415.3,1534.67 1416.3,1534.69 1417.3,1534.71 1418.3,1534.73 1419.3,1534.75 1420.3,1534.77 1421.3,1534.79 1422.3,1534.81 1423.3,1534.83 1424.3,1534.84 1425.3,1534.86 1426.3,1534.88 1427.3,1534.9 1428.3,1534.92 1429.3,1534.93 1430.3,1534.95 1431.3,1534.97 1432.3,1534.99 1433.3,1535 1434.3,1535.02 1435.3,1535.04 1436.3,1535.06 1437.3,1535.07 1438.3,1535.09 1439.3,1535.11 1440.3,1535.12 1441.3,1535.14 1442.3,1535.15 1443.3,1535.17 1444.3,1535.19 1445.3,1535.2 1446.3,1535.22 1447.3,1535.23 1448.3,1535.25 1449.3,1535.26 1450.3,1535.28 1451.3,1535.29 1452.3,1535.31 1453.3,1535.32 1454.3,1535.34 1455.3,1535.35 1456.3,1535.37 1457.3,1535.38 1458.3,1535.39" fill="none" stroke="#515151" stroke-width="4.1" stroke-linejoin="round"/>
</g>
<rect x="874.3" y="1107.6" width="582.3" height="468.1" fill="none" stroke="#000" stroke-width="3.3" stroke-linejoin="miter"/>
<line x1="1350.1" y1="1142.8" x2="1398.1" y2="1142.8" stroke="#4f4f4f" stroke-width="4.3" stroke-linecap="round"/>
<text x="1404.36" y="1150.2" style="font-family:'Liberation Serif',serif;font-size:22px;font-weight:bold" text-anchor="start" >0.1</text>
<line x1="1350.1" y1="1170.53" x2="1398.1" y2="1170.53" stroke="#ff3333" stroke-width="4.3" stroke-linecap="round"/>
<text x="1404.36" y="1177.93" style="font-family:'Liberation Serif',serif;font-size:22px;font-weight:bold" text-anchor="start" >0.25</text>
<line x1="1350.1" y1="1198.26" x2="1398.1" y2="1198.26" stroke="#0066e6" stroke-width="4.3" stroke-linecap="round"/>
<text x="1404.36" y="1205.66" style="font-family:'Liberation Serif',serif;font-size:22px;font-weight:bold" text-anchor="start" >0.5</text>
<line x1="1350.1" y1="1225.99" x2="1398.1" y2="1225.99" stroke="#00aa60" stroke-width="4.3" stroke-linecap="round"/>
<text x="1404.36" y="1233.39" style="font-family:'Liberation Serif',serif;font-size:22px;font-weight:bold" text-anchor="start" >1</text>
<line x1="1350.1" y1="1253.72" x2="1398.1" y2="1253.72" stroke="#cc77ee" stroke-width="4.3" stroke-linecap="round"/>
<text x="1404.36" y="1261.12" style="font-family:'Liberation Serif',serif;font-size:22px;font-weight:bold" text-anchor="start" >5</text>
<line x1="1350.1" y1="1281.45" x2="1398.1" y2="1281.45" stroke="#e0a000" stroke-width="4.3" stroke-linecap="round"/>
<text x="1404.36" y="1288.85" style="font-family:'Liberation Serif',serif;font-size:22px;font-weight:bold" text-anchor="start" >10</text>
<line x1="1350.1" y1="1309.18" x2="1398.1" y2="1309.18" stroke="#00cccc" stroke-width="4.3" stroke-linecap="round"/>
<text x="1404.36" y="1316.58" style="font-family:'Liberation Serif',serif;font-size:22px;font-weight:bold" text-anchor="start" >25</text>
<line x1="1350.1" y1="1336.91" x2="1398.1" y2="1336.91" stroke="#864646" stroke-width="4.3" stroke-linecap="round"/>
<text x="1404.36" y="1344.31" style="font-family:'Liberation Serif',serif;font-size:22px;font-weight:bold" text-anchor="start" >50</text>
<line x1="1350.1" y1="1364.64" x2="1398.1" y2="1364.64" stroke="#8c8c00" stroke-width="4.3" stroke-linecap="round"/>
<text x="1404.36" y="1372.04" style="font-family:'Liberation Serif',serif;font-size:22px;font-weight:bold" text-anchor="start" >75</text>
<line x1="1350.1" y1="1392.37" x2="1398.1" y2="1392.37" stroke="#ff5a00" stroke-width="4.3" stroke-linecap="round"/>
<text x="1404.36" y="1399.77" style="font-family:'Liberation Serif',serif;font-size:22px;font-weight:bold" text-anchor="start" >100</text>
<line x1="1350.1" y1="1420.1" x2="1398.1" y2="1420.1" stroke="#3d8fd6" stroke-width="4.3" stroke-linecap="round"/>
<text x="1404.36" y="1427.5" style="font-family:'Liberation Serif',serif;font-size:22px;font-weight:bold" text-anchor="start" >125</text>
<line x1="1350.1" y1="1447.83" x2="1398.1" y2="1447.83" stroke="#33bb00" stroke-width="4.3" stroke-linecap="round"/>
<text x="1404.36" y="1455.23" style="font-family:'Liberation Serif',serif;font-size:22px;font-weight:bold" text-anchor="start" >150</text>
<line x1="1350.1" y1="1475.56" x2="1398.1" y2="1475.56" stroke="#515151" stroke-width="4.3" stroke-linecap="round"/>
<text x="1404.36" y="1482.96" style="font-family:'Liberation Serif',serif;font-size:22px;font-weight:bold" text-anchor="start" >200</text>
</svg>
</body></html>
